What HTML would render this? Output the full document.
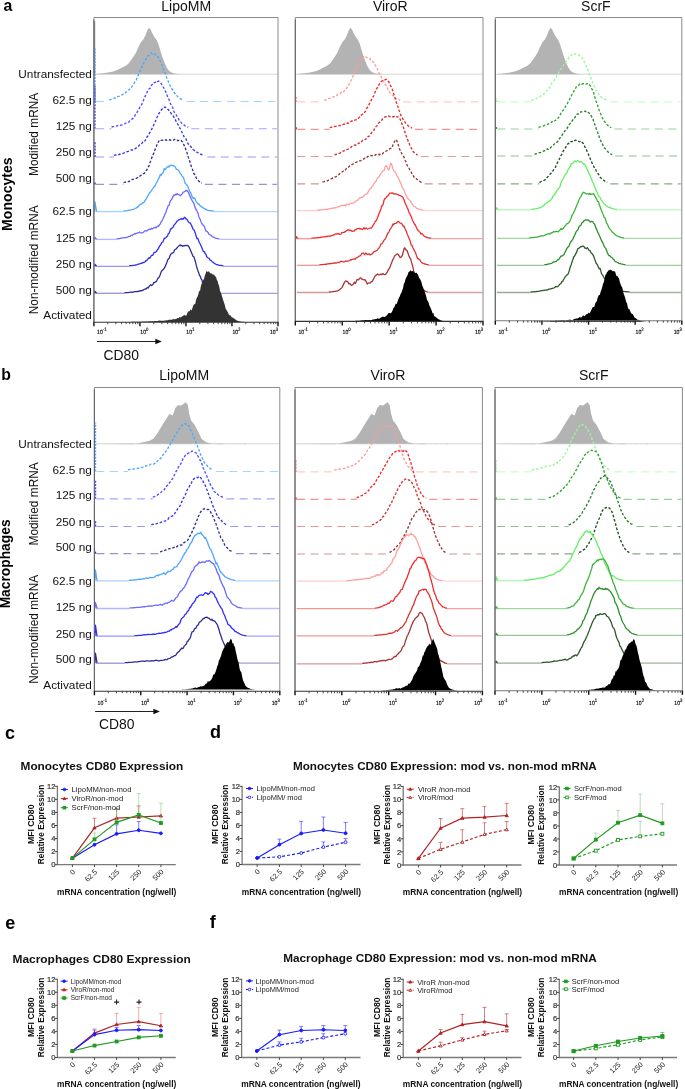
<!DOCTYPE html>
<html><head><meta charset="utf-8"><style>
html,body{margin:0;padding:0;background:#fff;width:685px;height:1089px;overflow:hidden;}
svg{display:block;will-change:transform;}
text{font-family:"Liberation Sans",sans-serif;}
</style></head><body>
<svg width="685" height="1089" viewBox="0 0 685 1089">
<rect width="685" height="1089" fill="#fff"/>
<line x1="94.9" y1="74.3" x2="277.5" y2="74.3" stroke="#e4e4e4" stroke-width="1.4"/>
<path d="M94.9 74.3 L94.9 74.3 L96 73.9 L101.1 73.6 L108.5 72.6 L114.1 71.3 L118.4 69.4 L122.7 67.2 L126.1 65.6 L128.6 63.5 L131.1 60 L133.6 56.5 L136.1 52.5 L138.4 47 L140.7 42.5 L143.3 39.5 L145.4 35.5 L147.3 30.5 L148.9 27.8 L150.6 29.5 L152.4 33.5 L154.4 37 L156.6 40 L158.4 44 L159.9 49 L161.4 54 L162.9 58.5 L164.9 63.5 L166.7 67.5 L168.7 70.6 L171.4 72.5 L174.4 73.5 L180.1 74.3 L180.1 74.3 Z" fill="#b3b3b3" stroke="none"/>
<line x1="94.6" y1="74.3" x2="94.6" y2="21.3" stroke="#888" stroke-width="1.2"/>
<path d="M109.1 99.91 L109.9 99.68 L110.7 99.39 L111.5 99.14 L112.3 98.83 L113.1 98.67 L113.9 98.34 L114.7 98.01 L115.5 97.85 L116.3 97.21 L117.1 96.9 L117.9 96.43 L118.7 96.38 L119.5 96.23 L120.3 95.89 L121.1 95.45 L121.9 94.8 L122.7 94.32 L123.5 94.05 L124.3 93.84 L125.1 93.31 L125.9 92.11 L126.7 91.84 L127.5 90.98 L128.3 90.07 L129.1 89.85 L129.9 88.79 L130.7 87.33 L131.5 87.22 L132.3 86.08 L133.1 84.83 L133.9 83.82 L134.7 82.17 L135.5 80.8 L136.3 79.83 L137.1 77.75 L137.9 75.88 L138.7 73.94 L139.5 71.87 L140.3 70.27 L141.1 68.63 L141.9 67.38 L142.7 65.21 L143.5 63.67 L144.3 62.03 L145.1 60.73 L145.9 59.31 L146.7 57.85 L147.5 55.97 L148.3 55.76 L149.1 55.21 L149.9 54.19 L150.7 53.2 L151.5 53.06 L152.3 53.91 L153.1 54.59 L153.9 54.02 L154.7 54.33 L155.5 54.99 L156.3 55.08 L157.1 55.63 L157.9 56.9 L158.7 58.27 L159.5 59.73 L160.3 60.95 L161.1 62.84 L161.9 64.81 L162.7 66.81 L163.5 69.59 L164.3 71.07 L165.1 72.92 L165.9 75.01 L166.7 77.93 L167.5 79.93 L168.3 81.34 L169.1 83.83 L169.9 85.37 L170.7 86.49 L171.5 88.58 L172.3 89.3 L173.1 90.61 L173.9 92.08 L174.7 93.18 L175.5 94.11 L176.3 95.17 L177.1 95.83 L177.9 96.89 L178.7 97.64 L179.5 98.04 L180.3 98.62 L181.1 99.18 L181.9 99.45 L182.7 99.7 L183.5 100.08" fill="none" stroke="#4da6ff" stroke-width="1.35" stroke-dasharray="2.6 1.8"/>
<line x1="95.9" y1="101.5" x2="109.1" y2="101.5" stroke="#4da6ff" stroke-width="1.15" stroke-dasharray="8 5.5" opacity="0.5"/>
<line x1="186.5" y1="101.5" x2="277" y2="101.5" stroke="#4da6ff" stroke-width="1.15" stroke-dasharray="8 5.5" opacity="0.5"/>
<line x1="94.9" y1="101.5" x2="94.9" y2="48.5" stroke="#4da6ff" stroke-width="1.6" stroke-dasharray="2 1.2"/>
<path d="M111.5 126.85 L112.3 126.74 L113.1 126.62 L113.9 126.56 L114.7 126.39 L115.5 126.08 L116.3 126.02 L117.1 125.87 L117.9 125.64 L118.7 125.59 L119.5 125.62 L120.3 125.45 L121.1 125 L121.9 125.08 L122.7 124.84 L123.5 124.26 L124.3 123.81 L125.1 123.55 L125.9 123.02 L126.7 122.66 L127.5 122.6 L128.3 122.46 L129.1 121.85 L129.9 120.66 L130.7 120.15 L131.5 119.61 L132.3 118.85 L133.1 118.25 L133.9 116.94 L134.7 116.08 L135.5 114.52 L136.3 114.04 L137.1 112.22 L137.9 110.93 L138.7 110.02 L139.5 107.9 L140.3 106.39 L141.1 105.53 L141.9 103.86 L142.7 101.81 L143.5 100.21 L144.3 98.18 L145.1 96.36 L145.9 94.69 L146.7 93.21 L147.5 91.4 L148.3 90.02 L149.1 88.76 L149.9 88.42 L150.7 86.71 L151.5 85.19 L152.3 84.54 L153.1 83.93 L153.9 82.5 L154.7 82.83 L155.5 82.11 L156.3 80.98 L157.1 81.56 L157.9 81.42 L158.7 81.15 L159.5 82.02 L160.3 82.67 L161.1 83.4 L161.9 85.01 L162.7 86.25 L163.5 87.5 L164.3 88.75 L165.1 90.54 L165.9 92.41 L166.7 94.59 L167.5 96.43 L168.3 97.88 L169.1 99.84 L169.9 102.12 L170.7 104.22 L171.5 104.98 L172.3 106.74 L173.1 108.65 L173.9 111.57 L174.7 112.74 L175.5 114.08 L176.3 115.01 L177.1 116.52 L177.9 118.05 L178.7 119.16 L179.5 121.07 L180.3 121.47 L181.1 122.32 L181.9 123.36 L182.7 123.76 L183.5 124.2 L184.3 125.22 L185.1 125.8 L185.9 126.17 L186.7 126.53 L187.5 126.91 L188.3 127.25" fill="none" stroke="#4d4dff" stroke-width="1.35" stroke-dasharray="2.6 1.8"/>
<line x1="95.9" y1="128.7" x2="111.5" y2="128.7" stroke="#4d4dff" stroke-width="1.15" stroke-dasharray="8 5.5" opacity="0.5"/>
<line x1="191.3" y1="128.7" x2="277" y2="128.7" stroke="#4d4dff" stroke-width="1.15" stroke-dasharray="8 5.5" opacity="0.5"/>
<line x1="94.9" y1="128.7" x2="94.9" y2="85.7" stroke="#4d4dff" stroke-width="1.6" stroke-dasharray="2 1.2"/>
<path d="M113.9 155.3 L114.7 155.13 L115.5 155 L116.3 154.9 L117.1 154.73 L117.9 154.82 L118.7 154.61 L119.5 154.28 L120.3 154.2 L121.1 153.82 L121.9 153.51 L122.7 153.47 L123.5 153.15 L124.3 152.86 L125.1 152.42 L125.9 152.01 L126.7 151.77 L127.5 151.7 L128.3 151.36 L129.1 151 L129.9 150.42 L130.7 150.06 L131.5 150.01 L132.3 150.03 L133.1 149.57 L133.9 149.25 L134.7 149.02 L135.5 148.34 L136.3 147.89 L137.1 147.22 L137.9 146.47 L138.7 146.14 L139.5 144.74 L140.3 144.61 L141.1 143.74 L141.9 143.27 L142.7 142.31 L143.5 142.62 L144.3 141.8 L145.1 140.55 L145.9 139.24 L146.7 137.38 L147.5 136.5 L148.3 135.06 L149.1 133.79 L149.9 132.34 L150.7 130.96 L151.5 129.67 L152.3 127.94 L153.1 126.73 L153.9 124.44 L154.7 123.12 L155.5 121.13 L156.3 118.58 L157.1 117.24 L157.9 115.7 L158.7 113.8 L159.5 112.56 L160.3 111.67 L161.1 110.39 L161.9 109.25 L162.7 108.37 L163.5 108.31 L164.3 107.42 L165.1 107.09 L165.9 107.75 L166.7 108.34 L167.5 109.24 L168.3 109.47 L169.1 110.76 L169.9 111.46 L170.7 112.75 L171.5 114.08 L172.3 114.9 L173.1 115.74 L173.9 117.3 L174.7 119.05 L175.5 120.16 L176.3 121.76 L177.1 123.2 L177.9 124.27 L178.7 125.69 L179.5 127.74 L180.3 128.58 L181.1 130.52 L181.9 131.97 L182.7 133.93 L183.5 135.43 L184.3 137.47 L185.1 137.94 L185.9 138.92 L186.7 140.91 L187.5 142.62 L188.3 144.1 L189.1 144.41 L189.9 145.59 L190.7 146.51 L191.5 147.5 L192.3 148.34 L193.1 149.47 L193.9 150 L194.7 151 L195.5 151.42 L196.3 151.81 L197.1 152.23 L197.9 152.82 L198.7 153.42 L199.5 153.74 L200.3 154.16 L201.1 154.28 L201.9 154.59 L202.7 154.95 L203.5 155.26 L204.3 155.53" fill="none" stroke="#3535ee" stroke-width="1.35" stroke-dasharray="2.6 1.8"/>
<line x1="95.9" y1="157" x2="113.9" y2="157" stroke="#3535ee" stroke-width="1.15" stroke-dasharray="8 5.5" opacity="0.5"/>
<line x1="207.3" y1="157" x2="277" y2="157" stroke="#3535ee" stroke-width="1.15" stroke-dasharray="8 5.5" opacity="0.5"/>
<line x1="94.9" y1="157" x2="94.9" y2="141" stroke="#3535ee" stroke-width="1.6" stroke-dasharray="2 1.2"/>
<path d="M123.5 182.59 L124.3 182.44 L125.1 182.2 L125.9 182 L126.7 181.64 L127.5 181.64 L128.3 181.44 L129.1 181.64 L129.9 181.02 L130.7 180.7 L131.5 180.15 L132.3 179.43 L133.1 179.29 L133.9 179.12 L134.7 178.93 L135.5 178.76 L136.3 178.46 L137.1 177.76 L137.9 177.36 L138.7 176.93 L139.5 176.58 L140.3 175.79 L141.1 175.26 L141.9 174.93 L142.7 174.17 L143.5 173.69 L144.3 173.39 L145.1 171.84 L145.9 170.81 L146.7 170.11 L147.5 168.31 L148.3 166.75 L149.1 165.65 L149.9 162.91 L150.7 160.81 L151.5 158.5 L152.3 156.52 L153.1 154.6 L153.9 153.09 L154.7 150.44 L155.5 148.41 L156.3 146.56 L157.1 144.55 L157.9 142.91 L158.7 141.31 L159.5 140.49 L160.3 139.84 L161.1 140.37 L161.9 140.37 L162.7 140.07 L163.5 139.71 L164.3 140.12 L165.1 140.28 L165.9 139.77 L166.7 140.17 L167.5 140.01 L168.3 139.6 L169.1 139.95 L169.9 139.72 L170.7 140.28 L171.5 140.26 L172.3 140.35 L173.1 140.33 L173.9 139.97 L174.7 139.33 L175.5 140.04 L176.3 140.4 L177.1 140.23 L177.9 140.67 L178.7 140.38 L179.5 140.19 L180.3 140.38 L181.1 140.33 L181.9 141.5 L182.7 142.01 L183.5 143.91 L184.3 145.63 L185.1 147.59 L185.9 149.77 L186.7 151.74 L187.5 154.32 L188.3 157.15 L189.1 159.58 L189.9 161.71 L190.7 164.53 L191.5 166.98 L192.3 168.96 L193.1 171.24 L193.9 173.79 L194.7 174.54 L195.5 175.69 L196.3 178.17 L197.1 179.31 L197.9 180.2 L198.7 180.92 L199.5 181.63 L200.3 182.3 L201.1 182.86 L201.9 183.19" fill="none" stroke="#2e2e99" stroke-width="1.35" stroke-dasharray="2.6 1.8"/>
<line x1="95.9" y1="184.4" x2="123.5" y2="184.4" stroke="#2e2e99" stroke-width="1.15" stroke-dasharray="8 5.5" opacity="0.5"/>
<line x1="204.9" y1="184.4" x2="277" y2="184.4" stroke="#2e2e99" stroke-width="1.15" stroke-dasharray="8 5.5" opacity="0.5"/>
<line x1="94.9" y1="184.4" x2="94.9" y2="181.4" stroke="#2e2e99" stroke-width="1.6" stroke-dasharray="2 1.2"/>
<path d="M123.5 211.1 L124.3 211.02 L125.1 210.93 L125.9 210.83 L126.7 210.71 L127.5 210.55 L128.3 210.41 L129.1 210.28 L129.9 210.05 L130.7 209.91 L131.5 209.81 L132.3 209.6 L133.1 209.34 L133.9 209.05 L134.7 208.86 L135.5 208.13 L136.3 208.06 L137.1 207.19 L137.9 207.04 L138.7 206.19 L139.5 204.93 L140.3 204.41 L141.1 204.3 L141.9 203.48 L142.7 202.58 L143.5 202.81 L144.3 201.83 L145.1 200.38 L145.9 199.49 L146.7 198.17 L147.5 196.54 L148.3 195.08 L149.1 193.63 L149.9 192.46 L150.7 191.74 L151.5 190.58 L152.3 189.48 L153.1 188.27 L153.9 186.9 L154.7 186.43 L155.5 184.71 L156.3 182.94 L157.1 181.91 L157.9 180.16 L158.7 178.27 L159.5 177.05 L160.3 174.47 L161.1 175.32 L161.9 173.84 L162.7 173.51 L163.5 171.2 L164.3 168.51 L165.1 169.76 L165.9 168.55 L166.7 167.36 L167.5 166.97 L168.3 166.06 L169.1 167.1 L169.9 165.74 L170.7 165.25 L171.5 165.21 L172.3 165.64 L173.1 165.31 L173.9 166.04 L174.7 166.31 L175.5 167.26 L176.3 169.24 L177.1 169.47 L177.9 169.97 L178.7 170.48 L179.5 172.34 L180.3 173.49 L181.1 174.4 L181.9 175.87 L182.7 176.73 L183.5 177.47 L184.3 180.34 L185.1 183.26 L185.9 183.93 L186.7 184.61 L187.5 186.05 L188.3 187.61 L189.1 190 L189.9 192.02 L190.7 192.8 L191.5 194.92 L192.3 197.2 L193.1 198.51 L193.9 197.65 L194.7 198.01 L195.5 200.23 L196.3 201.9 L197.1 202.63 L197.9 203.99 L198.7 203.89 L199.5 204.95 L200.3 206.22 L201.1 206.17 L201.9 207.12 L202.7 207.56 L203.5 208.07 L204.3 208.59 L205.1 208.88 L205.9 209.36 L206.7 209.9 L207.5 210.29 L208.3 210.44 L209.1 210.54 L209.9 210.6 L210.7 210.64 L211.5 210.79 L212.3 210.91 L213.1 211.02 L213.9 211.11" fill="none" stroke="#4da6ff" stroke-width="1.3" stroke-linejoin="round"/>
<path d="M95.5 211.6H123.5" fill="none" stroke="#4da6ff" stroke-width="1.3" opacity="0.5"/>
<path d="M213.9 211.6H277.5" fill="none" stroke="#4da6ff" stroke-width="1.3" opacity="0.45"/>
<path d="M94.5 211.6L94.9 201.6L96.5 211.3" fill="none" stroke="#4da6ff" stroke-width="1.3" stroke-linejoin="round"/>
<path d="M116.3 238.9 L117.1 238.83 L117.9 238.75 L118.7 238.66 L119.5 238.56 L120.3 238.45 L121.1 238.11 L121.9 238.09 L122.7 237.94 L123.5 237.8 L124.3 237.66 L125.1 237.58 L125.9 237.57 L126.7 237.37 L127.5 237.35 L128.3 236.7 L129.1 236.33 L129.9 236.41 L130.7 235.69 L131.5 235.25 L132.3 235.7 L133.1 234.66 L133.9 234.24 L134.7 233.38 L135.5 234 L136.3 233.52 L137.1 233.15 L137.9 232.89 L138.7 232.63 L139.5 231.9 L140.3 232.7 L141.1 232.93 L141.9 233.07 L142.7 232.57 L143.5 232.21 L144.3 231.32 L145.1 230.8 L145.9 230.57 L146.7 230.78 L147.5 230.68 L148.3 229.7 L149.1 229.2 L149.9 229.23 L150.7 229.41 L151.5 228.3 L152.3 228.88 L153.1 228.35 L153.9 227.63 L154.7 227.93 L155.5 227.24 L156.3 227.79 L157.1 226.51 L157.9 225.94 L158.7 226.28 L159.5 224.62 L160.3 224.08 L161.1 221.83 L161.9 221.07 L162.7 219.56 L163.5 217.62 L164.3 216.04 L165.1 213.89 L165.9 212.24 L166.7 209.65 L167.5 207.68 L168.3 205.56 L169.1 205.32 L169.9 202.05 L170.7 200.24 L171.5 199.75 L172.3 197.9 L173.1 196.33 L173.9 194.94 L174.7 195.45 L175.5 194.29 L176.3 194.79 L177.1 193.56 L177.9 194.42 L178.7 194.4 L179.5 195.02 L180.3 195.79 L181.1 194.81 L181.9 194.17 L182.7 193.04 L183.5 192.17 L184.3 191.76 L185.1 191.49 L185.9 190.49 L186.7 190.29 L187.5 191.24 L188.3 192.16 L189.1 193.93 L189.9 196.14 L190.7 197.79 L191.5 199.52 L192.3 200.93 L193.1 202.12 L193.9 203.45 L194.7 206.02 L195.5 208.79 L196.3 209.44 L197.1 211.47 L197.9 212.87 L198.7 216.15 L199.5 218.01 L200.3 219.62 L201.1 222.17 L201.9 223.75 L202.7 224.56 L203.5 225.45 L204.3 226.22 L205.1 228.67 L205.9 230.84 L206.7 231.34 L207.5 231.83 L208.3 232.92 L209.1 234.44 L209.9 234.73 L210.7 235.21 L211.5 235.81 L212.3 236.57 L213.1 236.97 L213.9 237.28 L214.7 237.76 L215.5 238.23 L216.3 238.34 L217.1 238.48 L217.9 238.65 L218.7 238.79 L219.5 238.91" fill="none" stroke="#6a6aff" stroke-width="1.3" stroke-linejoin="round"/>
<path d="M95.5 239.4H116.3" fill="none" stroke="#6a6aff" stroke-width="1.3" opacity="0.5"/>
<path d="M219.5 239.4H277.5" fill="none" stroke="#6a6aff" stroke-width="1.3" opacity="0.45"/>
<path d="M94.5 239.4L94.9 237.4L96.5 239.1" fill="none" stroke="#6a6aff" stroke-width="1.3" stroke-linejoin="round"/>
<path d="M129.1 265.84 L129.9 265.77 L130.7 265.69 L131.5 265.61 L132.3 265.52 L133.1 265.41 L133.9 265.34 L134.7 265.24 L135.5 265.01 L136.3 264.91 L137.1 264.67 L137.9 264.26 L138.7 264.12 L139.5 263.96 L140.3 263.58 L141.1 263.44 L141.9 262.88 L142.7 262.98 L143.5 262.36 L144.3 262.16 L145.1 261.96 L145.9 260.67 L146.7 260.71 L147.5 259.32 L148.3 258.72 L149.1 257.61 L149.9 258.06 L150.7 256.72 L151.5 255.47 L152.3 255.36 L153.1 254.9 L153.9 252.69 L154.7 252.4 L155.5 252.15 L156.3 251.67 L157.1 250.27 L157.9 249.07 L158.7 247.98 L159.5 245.92 L160.3 245.47 L161.1 244.18 L161.9 242.31 L162.7 242.18 L163.5 240.3 L164.3 238.2 L165.1 238.37 L165.9 237.71 L166.7 236.73 L167.5 236.09 L168.3 233.78 L169.1 233.33 L169.9 231.12 L170.7 228.79 L171.5 228.83 L172.3 227.58 L173.1 227.37 L173.9 225.19 L174.7 224.48 L175.5 223.42 L176.3 222.28 L177.1 221.04 L177.9 220.61 L178.7 219.9 L179.5 219.65 L180.3 218.94 L181.1 219.2 L181.9 218.52 L182.7 219.3 L183.5 218.87 L184.3 217.24 L185.1 217.61 L185.9 218.87 L186.7 218.99 L187.5 220.19 L188.3 221.74 L189.1 222.58 L189.9 222.76 L190.7 223.72 L191.5 225.23 L192.3 227.3 L193.1 229.29 L193.9 229.72 L194.7 231.43 L195.5 233.91 L196.3 236.79 L197.1 238.75 L197.9 238.33 L198.7 241.08 L199.5 242.72 L200.3 244.21 L201.1 245.98 L201.9 247.73 L202.7 250.01 L203.5 251.71 L204.3 251.59 L205.1 253.55 L205.9 254.19 L206.7 256.55 L207.5 257.44 L208.3 258.03 L209.1 258.29 L209.9 259.96 L210.7 260.31 L211.5 260.92 L212.3 261.92 L213.1 262.27 L213.9 263.06 L214.7 263.59 L215.5 263.86 L216.3 264.6 L217.1 264.66 L217.9 264.92 L218.7 265.19 L219.5 265.29 L220.3 265.32 L221.1 265.47 L221.9 265.61 L222.7 265.72 L223.5 265.82" fill="none" stroke="#2e2ef5" stroke-width="1.3" stroke-linejoin="round"/>
<path d="M95.5 266.3H129.1" fill="none" stroke="#2e2ef5" stroke-width="1.3" opacity="0.5"/>
<path d="M223.5 266.3H277.5" fill="none" stroke="#2e2ef5" stroke-width="1.3" opacity="0.45"/>
<path d="M94.5 266.3L94.9 264.3L96.5 266" fill="none" stroke="#2e2ef5" stroke-width="1.3" stroke-linejoin="round"/>
<path d="M124.3 292.81 L125.1 292.76 L125.9 292.71 L126.7 292.65 L127.5 292.59 L128.3 292.53 L129.1 292.45 L129.9 292.38 L130.7 292.13 L131.5 292.15 L132.3 292.24 L133.1 292.15 L133.9 291.87 L134.7 291.55 L135.5 291.56 L136.3 291.56 L137.1 291.47 L137.9 291.57 L138.7 291.11 L139.5 291.1 L140.3 290.59 L141.1 290.77 L141.9 290.69 L142.7 290.16 L143.5 289.99 L144.3 289.31 L145.1 288.98 L145.9 289.03 L146.7 288.22 L147.5 287.43 L148.3 287.95 L149.1 286.27 L149.9 285.63 L150.7 284.8 L151.5 285.59 L152.3 285.02 L153.1 284.11 L153.9 282.37 L154.7 282.51 L155.5 281.81 L156.3 281.64 L157.1 279.98 L157.9 278.19 L158.7 277.88 L159.5 276.48 L160.3 274.46 L161.1 272.09 L161.9 270.7 L162.7 269.86 L163.5 269.26 L164.3 268.11 L165.1 266.62 L165.9 264.64 L166.7 262.98 L167.5 260.36 L168.3 259.08 L169.1 258.54 L169.9 256.05 L170.7 254.43 L171.5 253.48 L172.3 252.92 L173.1 252.81 L173.9 251.8 L174.7 249.69 L175.5 249.21 L176.3 248.98 L177.1 247.72 L177.9 246.84 L178.7 246.03 L179.5 245.53 L180.3 244.83 L181.1 245.85 L181.9 245.33 L182.7 246.22 L183.5 245.7 L184.3 245.73 L185.1 245.7 L185.9 245.26 L186.7 245.61 L187.5 245.37 L188.3 245.83 L189.1 247.1 L189.9 248.92 L190.7 250.85 L191.5 252.68 L192.3 254.47 L193.1 256.39 L193.9 256.73 L194.7 259.42 L195.5 261.93 L196.3 265.39 L197.1 268.27 L197.9 270.66 L198.7 272.66 L199.5 275.43 L200.3 276.24 L201.1 278.79 L201.9 279.95 L202.7 283.3 L203.5 284.34 L204.3 285.28 L205.1 286.32 L205.9 287.14 L206.7 288.14 L207.5 289.03 L208.3 290.31 L209.1 290.84 L209.9 291.57 L210.7 291.61 L211.5 291.85 L212.3 292.15 L213.1 292.36 L213.9 292.56 L214.7 292.72 L215.5 292.85" fill="none" stroke="#2c2c99" stroke-width="1.3" stroke-linejoin="round"/>
<path d="M95.5 293.3H124.3" fill="none" stroke="#2c2c99" stroke-width="1.3" opacity="0.5"/>
<path d="M215.5 293.3H277.5" fill="none" stroke="#2c2c99" stroke-width="1.3" opacity="0.45"/>
<path d="M94.5 293.3L94.9 291.3L96.5 293" fill="none" stroke="#2c2c99" stroke-width="1.3" stroke-linejoin="round"/>
<path d="M94.4 322 L94.4 322 L95.2 322 L96 322 L96.8 322 L97.6 322 L98.4 322 L99.2 322 L100 322 L100.8 322 L101.6 322 L102.4 322 L103.2 322 L104 322 L104.8 322 L105.6 322 L106.4 322 L107.2 322 L108 321.99 L108.8 321.99 L109.6 321.99 L110.4 321.99 L111.2 321.99 L112 321.99 L112.8 321.99 L113.6 321.99 L114.4 321.98 L115.2 321.98 L116 321.98 L116.8 321.98 L117.6 321.98 L118.4 321.97 L119.2 321.97 L120 321.97 L120.8 321.96 L121.6 321.96 L122.4 321.95 L123.2 321.95 L124 321.94 L124.8 321.94 L125.6 321.93 L126.4 321.92 L127.2 321.91 L128 321.91 L128.8 321.9 L129.6 321.89 L130.4 321.88 L131.2 321.86 L132 321.85 L132.8 321.84 L133.6 321.82 L134.4 321.81 L135.2 321.79 L136 321.78 L136.8 321.76 L137.6 321.74 L138.4 321.72 L139.2 321.7 L140 321.68 L140.8 321.65 L141.6 321.63 L142.4 321.6 L143.2 321.58 L144 321.55 L144.8 321.52 L145.6 321.49 L146.4 321.46 L147.2 321.43 L148 321.4 L148.8 321.36 L149.6 321.33 L150.4 321.3 L151.2 321.26 L152 321.22 L152.8 321.19 L153.6 321.15 L154.4 321.11 L155.2 321.07 L156 321.04 L156.8 321.09 L157.6 320.88 L158.4 320.64 L159.2 320.62 L160 320.54 L160.8 320.67 L161.6 320.85 L162.4 320.77 L163.2 320.72 L164 320.64 L164.8 320.45 L165.6 320.44 L166.4 320.35 L167.2 320.21 L168 320.18 L168.8 319.72 L169.6 319.69 L170.4 319.7 L171.2 319.71 L172 319.75 L172.8 319.16 L173.6 319.05 L174.4 319.3 L175.2 319.18 L176 318.86 L176.8 318.68 L177.6 317.79 L178.4 318.17 L179.2 317.46 L180 317.06 L180.8 317.44 L181.6 316.79 L182.4 316.33 L183.2 315.45 L184 315.44 L184.8 314.64 L185.6 315.64 L186.4 315.48 L187.2 313.39 L188 311.68 L188.8 311.33 L189.6 311.26 L190.4 309.25 L191.2 310.48 L192 309.42 L192.8 306.85 L193.6 304.73 L194.4 304.31 L195.2 303.99 L196 299.9 L196.8 297.84 L197.6 296.61 L198.4 294 L199.2 290.69 L200 290.88 L200.8 286.55 L201.6 283.42 L202.4 283.22 L203.2 279.63 L204 279.15 L204.8 275.61 L205.6 273.84 L206.4 270.91 L207.2 271.78 L208 271.82 L208.8 271.2 L209.6 272.51 L210.4 273.35 L211.2 273.56 L212 273.52 L212.8 274.79 L213.6 274.61 L214.4 275.12 L215.2 276.61 L216 276.84 L216.8 279.77 L217.6 280.94 L218.4 284.35 L219.2 286.17 L220 290.73 L220.8 292.46 L221.6 294.87 L222.4 297.57 L223.2 300.2 L224 302.41 L224.8 304.9 L225.6 308.46 L226.4 309.78 L227.2 311.19 L228 312.6 L228.8 314.45 L229.6 315.14 L230.4 315.19 L231.2 316.46 L232 317.59 L232.8 317.62 L233.6 318.2 L234.4 318.82 L235.2 319.32 L236 320.09 L236.8 320.55 L237.6 320.72 L238.4 321.12 L239.2 321.31 L240 321.46 L240.8 321.58 L241.6 321.68 L242.4 321.76 L243.2 321.81 L244 321.86 L244.8 321.9 L245.6 321.92 L246.4 321.94 L247.2 321.96 L248 321.97 L248.8 321.98 L249.6 321.98 L250.4 321.99 L251.2 321.99 L252 321.99 L252.8 322 L253.6 322 L254.4 322 L255.2 322 L256 322 L256.8 322 L257.6 322 L258.4 322 L259.2 322 L260 322 L260.8 322 L261.6 322 L262.4 322 L263.2 322 L264 322 L264.8 322 L265.6 322 L266.4 322 L267.2 322 L268 322 L268.8 322 L269.6 322 L270.4 322 L271.2 322 L272 322 L272.8 322 L273.6 322 L274.4 322 L275.2 322 L276 322 L276.8 322 L277.6 322 L277.6 322 Z" fill="#333" stroke="none"/>
<path d="M93.9 322.2 V17.5 H278 V322.2" fill="none" stroke="#8a8a8a" stroke-width="1"/>
<line x1="93.9" y1="19.5" x2="93.9" y2="322.2" stroke="#666" stroke-width="1.1"/>
<line x1="93.4" y1="322.2" x2="278.5" y2="322.2" stroke="#333" stroke-width="1.1"/>
<path d="M107.75 322.2v2M115.86 322.2v2M121.61 322.2v2M126.07 322.2v2M129.71 322.2v2M132.8 322.2v2M135.46 322.2v2M137.82 322.2v2M153.78 322.2v2M161.88 322.2v2M167.63 322.2v2M172.1 322.2v2M175.74 322.2v2M178.82 322.2v2M181.49 322.2v2M183.84 322.2v2M199.8 322.2v2M207.91 322.2v2M213.66 322.2v2M218.12 322.2v2M221.76 322.2v2M224.85 322.2v2M227.51 322.2v2M229.87 322.2v2M245.83 322.2v2M253.93 322.2v2M259.68 322.2v2M264.15 322.2v2M267.79 322.2v2M270.87 322.2v2M273.54 322.2v2M275.89 322.2v2" stroke="#333" stroke-width="0.9" fill="none"/>
<path d="M93.9 322.2v4M139.93 322.2v4M185.95 322.2v4M231.97 322.2v4M278 322.2v4" stroke="#111" stroke-width="1.4" fill="none"/>
<text transform="translate(97.1 334.2) scale(0.85 1)" font-size="6" fill="#000" stroke="#000" stroke-width="0.15" style="text-rendering:geometricPrecision" text-anchor="start" font-family="Liberation Sans, sans-serif">10<tspan font-size="5" dy="-3.2">-1</tspan></text>
<text transform="translate(140.33 334.2) scale(0.85 1)" font-size="6" fill="#000" stroke="#000" stroke-width="0.15" style="text-rendering:geometricPrecision" text-anchor="start" font-family="Liberation Sans, sans-serif">10<tspan font-size="5" dy="-3.2">0</tspan></text>
<text transform="translate(186.35 334.2) scale(0.85 1)" font-size="6" fill="#000" stroke="#000" stroke-width="0.15" style="text-rendering:geometricPrecision" text-anchor="start" font-family="Liberation Sans, sans-serif">10<tspan font-size="5" dy="-3.2">1</tspan></text>
<text transform="translate(232.38 334.2) scale(0.85 1)" font-size="6" fill="#000" stroke="#000" stroke-width="0.15" style="text-rendering:geometricPrecision" text-anchor="start" font-family="Liberation Sans, sans-serif">10<tspan font-size="5" dy="-3.2">2</tspan></text>
<text transform="translate(278 334.2) scale(0.85 1)" font-size="6" fill="#000" stroke="#000" stroke-width="0.15" style="text-rendering:geometricPrecision" text-anchor="end" font-family="Liberation Sans, sans-serif">10<tspan font-size="5" dy="-3.2">3</tspan></text>
<line x1="296.3" y1="74.3" x2="482.5" y2="74.3" stroke="#e4e4e4" stroke-width="1.4"/>
<path d="M296.3 74.3 L296.3 74.3 L297.4 73.9 L302.5 73.6 L309.9 72.6 L315.5 71.3 L319.8 69.4 L324.1 67.2 L327.5 65.6 L330 63.5 L332.5 60 L335 56.5 L337.5 52.5 L339.8 47 L342.1 42.5 L344.7 39.5 L346.8 35.5 L348.7 30.5 L350.3 27.8 L352 29.5 L353.8 33.5 L355.8 37 L358 40 L359.8 44 L361.3 49 L362.8 54 L364.3 58.5 L366.3 63.5 L368.1 67.5 L370.1 70.6 L372.8 72.5 L375.8 73.5 L381.5 74.3 L381.5 74.3 Z" fill="#b3b3b3" stroke="none"/>
<path d="M324.1 100.22 L324.9 100.07 L325.7 99.78 L326.5 99.48 L327.3 99.13 L328.1 98.8 L328.9 98.44 L329.7 98.31 L330.5 98.07 L331.3 97.62 L332.1 97.44 L332.9 96.87 L333.7 96.97 L334.5 96.35 L335.3 96.02 L336.1 96.15 L336.9 95.22 L337.7 94.67 L338.5 94.25 L339.3 94.17 L340.1 93.68 L340.9 92.47 L341.7 92.34 L342.5 92.91 L343.3 91.98 L344.1 91.23 L344.9 90.06 L345.7 89.08 L346.5 88.25 L347.3 87.26 L348.1 85.48 L348.9 84.75 L349.7 82.49 L350.5 81.4 L351.3 80.25 L352.1 78.18 L352.9 76.31 L353.7 75.01 L354.5 72.83 L355.3 71.68 L356.1 69.89 L356.9 67.37 L357.7 65.68 L358.5 64.39 L359.3 62.37 L360.1 60.54 L360.9 59.38 L361.7 58.99 L362.5 58.02 L363.3 57.09 L364.1 56.48 L364.9 55.93 L365.7 56.65 L366.5 57.32 L367.3 57.67 L368.1 57.54 L368.9 58.34 L369.7 58.25 L370.5 59.95 L371.3 60.03 L372.1 61.04 L372.9 61.7 L373.7 62.54 L374.5 64.26 L375.3 65.46 L376.1 66.67 L376.9 67.93 L377.7 69.87 L378.5 71.7 L379.3 73.78 L380.1 74.11 L380.9 76 L381.7 77.79 L382.5 79.94 L383.3 80.99 L384.1 82.76 L384.9 83.71 L385.7 85.06 L386.5 86.7 L387.3 87.92 L388.1 89.77 L388.9 91.01 L389.7 92.24 L390.5 93.59 L391.3 94.27 L392.1 95.04 L392.9 95.36 L393.7 97.06 L394.5 97.53 L395.3 98.07 L396.1 98.49 L396.9 98.79 L397.7 99.14 L398.5 99.53 L399.3 99.92 L400.1 100.16" fill="none" stroke="#ff9a9a" stroke-width="1.35" stroke-dasharray="2.6 1.8"/>
<line x1="297.3" y1="101.9" x2="324.1" y2="101.9" stroke="#ff9a9a" stroke-width="1.15" stroke-dasharray="8 5.5" opacity="0.5"/>
<line x1="403.1" y1="101.9" x2="482" y2="101.9" stroke="#ff9a9a" stroke-width="1.15" stroke-dasharray="8 5.5" opacity="0.5"/>
<line x1="296.3" y1="101.9" x2="296.3" y2="96.9" stroke="#ff9a9a" stroke-width="1.6" stroke-dasharray="2 1.2"/>
<path d="M329.7 127.6 L330.5 127.44 L331.3 127.26 L332.1 127.07 L332.9 126.97 L333.7 126.7 L334.5 126.48 L335.3 126.34 L336.1 126.26 L336.9 126.15 L337.7 125.83 L338.5 125.83 L339.3 125.61 L340.1 125.49 L340.9 125.46 L341.7 124.98 L342.5 124.73 L343.3 124.48 L344.1 124.05 L344.9 124.25 L345.7 123.93 L346.5 123.55 L347.3 123.08 L348.1 123.21 L348.9 122.67 L349.7 122.37 L350.5 121.71 L351.3 121.24 L352.1 120.99 L352.9 120.13 L353.7 120.22 L354.5 120.22 L355.3 119.96 L356.1 119.8 L356.9 119.16 L357.7 119.2 L358.5 118.32 L359.3 117.37 L360.1 116.33 L360.9 115.87 L361.7 114.64 L362.5 114.27 L363.3 113.43 L364.1 113.1 L364.9 112.01 L365.7 110.86 L366.5 108.85 L367.3 107.45 L368.1 106.57 L368.9 104.83 L369.7 103.18 L370.5 101.77 L371.3 100.15 L372.1 98.61 L372.9 97.07 L373.7 95.87 L374.5 93.89 L375.3 91.58 L376.1 89.56 L376.9 88.35 L377.7 87.21 L378.5 85.81 L379.3 84.13 L380.1 82.93 L380.9 82.19 L381.7 81.13 L382.5 80.5 L383.3 79.74 L384.1 79.55 L384.9 79.81 L385.7 79.53 L386.5 79.41 L387.3 80.42 L388.1 81.22 L388.9 82.02 L389.7 83.7 L390.5 85.63 L391.3 86.76 L392.1 88.85 L392.9 91.02 L393.7 94.01 L394.5 95.92 L395.3 99.22 L396.1 101.75 L396.9 103.8 L397.7 105.76 L398.5 108.6 L399.3 111 L400.1 112.89 L400.9 115.45 L401.7 116.71 L402.5 118.09 L403.3 119.79 L404.1 120.91 L404.9 121.96 L405.7 123.11 L406.5 124.05 L407.3 124.72 L408.1 125.7 L408.9 126.35 L409.7 126.95 L410.5 127.29 L411.3 127.73 L412.1 128.02" fill="none" stroke="#f22828" stroke-width="1.35" stroke-dasharray="2.6 1.8"/>
<line x1="297.3" y1="129.3" x2="329.7" y2="129.3" stroke="#f22828" stroke-width="1.15" stroke-dasharray="8 5.5" opacity="0.5"/>
<line x1="415.1" y1="129.3" x2="482" y2="129.3" stroke="#f22828" stroke-width="1.15" stroke-dasharray="8 5.5" opacity="0.5"/>
<line x1="296.3" y1="129.3" x2="296.3" y2="126.3" stroke="#f22828" stroke-width="1.6" stroke-dasharray="2 1.2"/>
<path d="M334.5 154.77 L335.3 154.53 L336.1 154.48 L336.9 154.08 L337.7 153.98 L338.5 153.69 L339.3 153.31 L340.1 153.03 L340.9 152.36 L341.7 152.11 L342.5 151.48 L343.3 151.01 L344.1 150.92 L344.9 150.5 L345.7 149.84 L346.5 149.71 L347.3 149.34 L348.1 149.14 L348.9 148.66 L349.7 148.33 L350.5 147.81 L351.3 147.02 L352.1 146.26 L352.9 146.07 L353.7 145.75 L354.5 145.15 L355.3 145 L356.1 144.99 L356.9 144.06 L357.7 144.04 L358.5 143.21 L359.3 143.19 L360.1 142.03 L360.9 142.14 L361.7 141.33 L362.5 140.43 L363.3 140.5 L364.1 139.44 L364.9 139.34 L365.7 139.29 L366.5 138.09 L367.3 137.08 L368.1 136.45 L368.9 136.49 L369.7 135.27 L370.5 134.26 L371.3 133.28 L372.1 132.26 L372.9 131.73 L373.7 130.56 L374.5 128.65 L375.3 127.22 L376.1 126.6 L376.9 125.92 L377.7 124.72 L378.5 123.41 L379.3 122.39 L380.1 122.07 L380.9 121.09 L381.7 120.22 L382.5 119.01 L383.3 118.15 L384.1 117.68 L384.9 117 L385.7 117.02 L386.5 116.28 L387.3 116.47 L388.1 116.28 L388.9 116.03 L389.7 116.54 L390.5 116.76 L391.3 117.23 L392.1 116.84 L392.9 116.71 L393.7 116.72 L394.5 116.45 L395.3 117.19 L396.1 116.88 L396.9 116.68 L397.7 116.84 L398.5 117.03 L399.3 117.44 L400.1 119.17 L400.9 121.17 L401.7 123.15 L402.5 125.06 L403.3 127.04 L404.1 129.74 L404.9 131.72 L405.7 134.58 L406.5 136.58 L407.3 138.81 L408.1 140.94 L408.9 142.39 L409.7 144.76 L410.5 146.71 L411.3 148.16 L412.1 149.4 L412.9 151.1 L413.7 151.99 L414.5 152.96 L415.3 153.55 L416.1 154.04 L416.9 154.62 L417.7 155.07" fill="none" stroke="#cc3333" stroke-width="1.35" stroke-dasharray="2.6 1.8"/>
<line x1="297.3" y1="156.5" x2="334.5" y2="156.5" stroke="#cc3333" stroke-width="1.15" stroke-dasharray="8 5.5" opacity="0.5"/>
<line x1="420.7" y1="156.5" x2="482" y2="156.5" stroke="#cc3333" stroke-width="1.15" stroke-dasharray="8 5.5" opacity="0.5"/>
<path d="M322.5 182.11 L323.3 181.81 L324.1 181.68 L324.9 181.41 L325.7 181.17 L326.5 181.06 L327.3 180.86 L328.1 180.48 L328.9 180.01 L329.7 179.58 L330.5 179.11 L331.3 178.74 L332.1 178.45 L332.9 177.87 L333.7 177.69 L334.5 177.5 L335.3 176.87 L336.1 176.65 L336.9 175.95 L337.7 175.38 L338.5 174.73 L339.3 173.92 L340.1 173.45 L340.9 172.78 L341.7 172.57 L342.5 171.54 L343.3 171.03 L344.1 170.04 L344.9 170.31 L345.7 169.5 L346.5 168.43 L347.3 168.49 L348.1 167.57 L348.9 166.66 L349.7 165.93 L350.5 165.84 L351.3 165 L352.1 164.37 L352.9 164.21 L353.7 163.37 L354.5 163.02 L355.3 162.66 L356.1 162.48 L356.9 161.92 L357.7 161.66 L358.5 161.06 L359.3 160.82 L360.1 160.89 L360.9 160.63 L361.7 159.91 L362.5 159.75 L363.3 159.2 L364.1 158.61 L364.9 158.28 L365.7 158.55 L366.5 157.61 L367.3 156.89 L368.1 156.39 L368.9 156.32 L369.7 155.54 L370.5 155.52 L371.3 155.64 L372.1 155.73 L372.9 155.4 L373.7 155.7 L374.5 155.83 L375.3 154.86 L376.1 154.53 L376.9 154.39 L377.7 154.14 L378.5 154.18 L379.3 154.86 L380.1 154.13 L380.9 153.57 L381.7 153.34 L382.5 153.85 L383.3 152.85 L384.1 152.04 L384.9 152 L385.7 151.54 L386.5 150.84 L387.3 150.52 L388.1 149.73 L388.9 149.43 L389.7 148.84 L390.5 148.47 L391.3 148.43 L392.1 147.68 L392.9 145.05 L393.7 143.6 L394.5 141.6 L395.3 140.19 L396.1 139.58 L396.9 140.7 L397.7 143.1 L398.5 145.48 L399.3 148.42 L400.1 150.17 L400.9 151.38 L401.7 153.72 L402.5 154.9 L403.3 156.08 L404.1 157.34 L404.9 159.6 L405.7 161.54 L406.5 163.82 L407.3 165.55 L408.1 166.73 L408.9 167.56 L409.7 169.79 L410.5 170.79 L411.3 172.25 L412.1 173.91 L412.9 174.4 L413.7 176.69 L414.5 177.51 L415.3 178.26 L416.1 178.62 L416.9 179.25 L417.7 179.82 L418.5 180.66 L419.3 181.19 L420.1 181.61 L420.9 182.04 L421.7 182.4" fill="none" stroke="#993333" stroke-width="1.35" stroke-dasharray="2.6 1.8"/>
<line x1="297.3" y1="183.8" x2="322.5" y2="183.8" stroke="#993333" stroke-width="1.15" stroke-dasharray="8 5.5" opacity="0.5"/>
<line x1="424.7" y1="183.8" x2="482" y2="183.8" stroke="#993333" stroke-width="1.15" stroke-dasharray="8 5.5" opacity="0.5"/>
<path d="M316.9 210.24 L317.7 210.19 L318.5 210.14 L319.3 210.08 L320.1 210.01 L320.9 209.94 L321.7 209.87 L322.5 209.79 L323.3 209.72 L324.1 209.57 L324.9 209.39 L325.7 209.38 L326.5 209.4 L327.3 209.25 L328.1 209.05 L328.9 209 L329.7 208.69 L330.5 208.31 L331.3 208.51 L332.1 208.26 L332.9 207.91 L333.7 208.21 L334.5 207.87 L335.3 207.69 L336.1 207.79 L336.9 207.07 L337.7 206.85 L338.5 206.82 L339.3 206.44 L340.1 206.05 L340.9 205.68 L341.7 205.42 L342.5 205.22 L343.3 205.61 L344.1 205.45 L344.9 205.03 L345.7 205.95 L346.5 204.17 L347.3 204.21 L348.1 204.46 L348.9 204.9 L349.7 203.97 L350.5 203.43 L351.3 203.35 L352.1 203.08 L352.9 203.07 L353.7 202.83 L354.5 202.16 L355.3 201.95 L356.1 200.89 L356.9 200.6 L357.7 200.08 L358.5 199.42 L359.3 198.32 L360.1 197.86 L360.9 197.57 L361.7 197.36 L362.5 197.33 L363.3 196.73 L364.1 195.47 L364.9 194.69 L365.7 194.25 L366.5 194.16 L367.3 193.81 L368.1 192.1 L368.9 190.28 L369.7 189.18 L370.5 189.09 L371.3 187.85 L372.1 186.38 L372.9 185.69 L373.7 184.03 L374.5 182.88 L375.3 182.07 L376.1 181.31 L376.9 179.16 L377.7 177.73 L378.5 177.17 L379.3 176.46 L380.1 174.53 L380.9 173.23 L381.7 172.69 L382.5 170.97 L383.3 170.77 L384.1 170.41 L384.9 167.59 L385.7 165.9 L386.5 165.84 L387.3 167.67 L388.1 169.58 L388.9 169.88 L389.7 167.49 L390.5 163.31 L391.3 163.68 L392.1 165.69 L392.9 168.72 L393.7 170.99 L394.5 171.48 L395.3 172 L396.1 173.71 L396.9 176.02 L397.7 176.55 L398.5 178.46 L399.3 179.41 L400.1 182.13 L400.9 183.44 L401.7 185.4 L402.5 187.72 L403.3 189.11 L404.1 190.44 L404.9 192.39 L405.7 194.57 L406.5 195.67 L407.3 198.09 L408.1 198.71 L408.9 199.65 L409.7 200 L410.5 201.14 L411.3 202.56 L412.1 203.81 L412.9 204.94 L413.7 206.31 L414.5 206.4 L415.3 207.03 L416.1 207.77 L416.9 208.47 L417.7 208.56 L418.5 208.92 L419.3 209.4 L420.1 209.56 L420.9 209.79 L421.7 209.97 L422.5 210.11 L423.3 210.23" fill="none" stroke="#ff9f9f" stroke-width="1.3" stroke-linejoin="round"/>
<path d="M296.9 210.7H316.9" fill="none" stroke="#ff9f9f" stroke-width="1.3" opacity="0.5"/>
<path d="M423.3 210.7H482.5" fill="none" stroke="#ff9f9f" stroke-width="1.3" opacity="0.45"/>
<path d="M311.3 238.24 L312.1 238.19 L312.9 238.14 L313.7 238.08 L314.5 238.02 L315.3 237.96 L316.1 237.89 L316.9 237.82 L317.7 237.74 L318.5 237.7 L319.3 237.63 L320.1 237.49 L320.9 237.42 L321.7 236.98 L322.5 237.16 L323.3 236.89 L324.1 236.88 L324.9 236.79 L325.7 236.51 L326.5 236.41 L327.3 236.5 L328.1 236.2 L328.9 236.06 L329.7 236.3 L330.5 235.89 L331.3 235.86 L332.1 235.7 L332.9 235.21 L333.7 234.89 L334.5 234.78 L335.3 233.88 L336.1 233.8 L336.9 234 L337.7 233.74 L338.5 233.62 L339.3 234.26 L340.1 234.31 L340.9 234.2 L341.7 232.58 L342.5 232.53 L343.3 232.46 L344.1 232.47 L344.9 231.64 L345.7 231.55 L346.5 230.55 L347.3 230.36 L348.1 229.71 L348.9 230.23 L349.7 230.18 L350.5 230.55 L351.3 230.54 L352.1 231.38 L352.9 231.13 L353.7 231.15 L354.5 230.94 L355.3 229.71 L356.1 229.54 L356.9 228.86 L357.7 228.66 L358.5 228.48 L359.3 228.3 L360.1 229.09 L360.9 228.7 L361.7 229.14 L362.5 229.52 L363.3 228.74 L364.1 227.77 L364.9 229.06 L365.7 228.18 L366.5 228.19 L367.3 229.1 L368.1 228.85 L368.9 228.5 L369.7 228.1 L370.5 228.05 L371.3 228.23 L372.1 227.17 L372.9 225.63 L373.7 224.29 L374.5 223 L375.3 221.34 L376.1 220.88 L376.9 219.26 L377.7 217.26 L378.5 214.87 L379.3 213.08 L380.1 210.92 L380.9 208.99 L381.7 205.84 L382.5 205.66 L383.3 203.45 L384.1 199.99 L384.9 198.67 L385.7 198.53 L386.5 196.82 L387.3 196.42 L388.1 195.54 L388.9 194.44 L389.7 193.03 L390.5 193.12 L391.3 193.06 L392.1 192.84 L392.9 193.19 L393.7 193.99 L394.5 194 L395.3 193.76 L396.1 193.98 L396.9 194.33 L397.7 194.34 L398.5 195.05 L399.3 195.41 L400.1 195.42 L400.9 196.03 L401.7 196.67 L402.5 196.85 L403.3 198.28 L404.1 200.01 L404.9 202.43 L405.7 204.55 L406.5 205.75 L407.3 208.02 L408.1 209.43 L408.9 211.96 L409.7 213.55 L410.5 215.42 L411.3 216.67 L412.1 218.97 L412.9 221 L413.7 222.49 L414.5 224.11 L415.3 224.69 L416.1 226.73 L416.9 228.55 L417.7 229.92 L418.5 230.67 L419.3 231.64 L420.1 232.36 L420.9 233.9 L421.7 233.67 L422.5 234.16 L423.3 235.16 L424.1 236.08 L424.9 236.45 L425.7 236.77 L426.5 237.37 L427.3 237.51 L428.1 237.8 L428.9 237.83 L429.7 238 L430.5 238.13 L431.3 238.24" fill="none" stroke="#f52a2a" stroke-width="1.3" stroke-linejoin="round"/>
<path d="M296.9 238.7H311.3" fill="none" stroke="#f52a2a" stroke-width="1.3" opacity="0.5"/>
<path d="M431.3 238.7H482.5" fill="none" stroke="#f52a2a" stroke-width="1.3" opacity="0.45"/>
<path d="M295.9 238.7L296.3 236.7L297.9 238.4" fill="none" stroke="#f52a2a" stroke-width="1.3" stroke-linejoin="round"/>
<path d="M319.3 264.81 L320.1 264.75 L320.9 264.69 L321.7 264.62 L322.5 264.55 L323.3 264.48 L324.1 264.4 L324.9 264.31 L325.7 264.22 L326.5 264.27 L327.3 263.96 L328.1 263.76 L328.9 263.82 L329.7 263.55 L330.5 263.41 L331.3 263.68 L332.1 263.33 L332.9 263.35 L333.7 262.97 L334.5 263 L335.3 262.97 L336.1 263.06 L336.9 262.81 L337.7 262.35 L338.5 262.39 L339.3 262.63 L340.1 261.79 L340.9 261.31 L341.7 261.26 L342.5 261.51 L343.3 261.78 L344.1 262.03 L344.9 261.5 L345.7 260.93 L346.5 261.27 L347.3 261.09 L348.1 261.02 L348.9 260.92 L349.7 260.53 L350.5 259.66 L351.3 260.04 L352.1 259.58 L352.9 259.06 L353.7 259.15 L354.5 258.96 L355.3 259.2 L356.1 257.88 L356.9 257.68 L357.7 257.37 L358.5 256.47 L359.3 256.22 L360.1 255.93 L360.9 255.12 L361.7 253.48 L362.5 253.46 L363.3 252.97 L364.1 253.87 L364.9 254.69 L365.7 253.03 L366.5 253.49 L367.3 254.48 L368.1 254.25 L368.9 253.74 L369.7 254.78 L370.5 254.8 L371.3 254.03 L372.1 254.13 L372.9 252.99 L373.7 252.02 L374.5 251.51 L375.3 251.42 L376.1 250.82 L376.9 250.47 L377.7 249.61 L378.5 248.46 L379.3 247.77 L380.1 246.19 L380.9 243.9 L381.7 243.95 L382.5 242.91 L383.3 241.48 L384.1 240.18 L384.9 239.31 L385.7 238.29 L386.5 236.13 L387.3 234.42 L388.1 232.85 L388.9 232.11 L389.7 230.26 L390.5 228.57 L391.3 227.66 L392.1 226.19 L392.9 224.04 L393.7 224.8 L394.5 223.44 L395.3 223.44 L396.1 223.34 L396.9 222.51 L397.7 221.57 L398.5 221.39 L399.3 222.16 L400.1 223 L400.9 223.31 L401.7 223.62 L402.5 224.83 L403.3 226.52 L404.1 226.27 L404.9 228.43 L405.7 230.07 L406.5 232.1 L407.3 234.17 L408.1 235.91 L408.9 238.03 L409.7 239.63 L410.5 242.51 L411.3 245.19 L412.1 245.56 L412.9 247.79 L413.7 249.31 L414.5 250.66 L415.3 252.44 L416.1 254.34 L416.9 256.87 L417.7 258.75 L418.5 258.76 L419.3 259.44 L420.1 260.26 L420.9 261.68 L421.7 262.68 L422.5 263.11 L423.3 263.52 L424.1 263.68 L424.9 264.04 L425.7 264.1 L426.5 264.39 L427.3 264.58 L428.1 264.74 L428.9 264.87" fill="none" stroke="#dd3333" stroke-width="1.3" stroke-linejoin="round"/>
<path d="M296.9 265.3H319.3" fill="none" stroke="#dd3333" stroke-width="1.3" opacity="0.5"/>
<path d="M428.9 265.3H482.5" fill="none" stroke="#dd3333" stroke-width="1.3" opacity="0.45"/>
<path d="M328.9 292.06 L329.7 292 L330.5 291.93 L331.3 291.86 L332.1 291.78 L332.9 291.69 L333.7 291.59 L334.5 291.31 L335.3 291.31 L336.1 291.22 L336.9 291.22 L337.7 290.85 L338.5 290.49 L339.3 289.7 L340.1 289.18 L340.9 288.51 L341.7 288.02 L342.5 286.68 L343.3 284.71 L344.1 283.12 L344.9 281.62 L345.7 280.93 L346.5 281.26 L347.3 281.42 L348.1 282.22 L348.9 284 L349.7 283.5 L350.5 284.2 L351.3 285.36 L352.1 285.02 L352.9 284.57 L353.7 283.48 L354.5 282.15 L355.3 283.56 L356.1 281.7 L356.9 279.64 L357.7 279.61 L358.5 279.88 L359.3 278.65 L360.1 277.98 L360.9 277.79 L361.7 278.85 L362.5 279.43 L363.3 279.75 L364.1 279.99 L364.9 279.61 L365.7 280.8 L366.5 282.18 L367.3 284.08 L368.1 283.07 L368.9 283.12 L369.7 282.89 L370.5 282.95 L371.3 281.52 L372.1 281.72 L372.9 280.15 L373.7 278.74 L374.5 277.35 L375.3 275.59 L376.1 275.17 L376.9 274.66 L377.7 273.87 L378.5 274.91 L379.3 274.8 L380.1 274.59 L380.9 273.98 L381.7 274.66 L382.5 273.99 L383.3 273.72 L384.1 274.48 L384.9 274.65 L385.7 274.44 L386.5 273.05 L387.3 271.84 L388.1 270.36 L388.9 268.85 L389.7 268.06 L390.5 265.75 L391.3 263.61 L392.1 261.58 L392.9 259.42 L393.7 258.37 L394.5 256.1 L395.3 255.25 L396.1 254.75 L396.9 254.1 L397.7 253.95 L398.5 254.83 L399.3 256.19 L400.1 257.58 L400.9 257.21 L401.7 256.45 L402.5 254.92 L403.3 251.73 L404.1 248.37 L404.9 247.93 L405.7 249.61 L406.5 250.13 L407.3 250.98 L408.1 253.5 L408.9 255.78 L409.7 257.84 L410.5 258.46 L411.3 261.66 L412.1 264.1 L412.9 266.97 L413.7 271.06 L414.5 274 L415.3 276.74 L416.1 278.21 L416.9 280.08 L417.7 280.88 L418.5 283.22 L419.3 284.78 L420.1 286.29 L420.9 287.5 L421.7 287.89 L422.5 289.05 L423.3 289.68 L424.1 290.29 L424.9 291 L425.7 291.35 L426.5 291.71 L427.3 291.91 L428.1 292.07" fill="none" stroke="#aa3333" stroke-width="1.3" stroke-linejoin="round"/>
<path d="M296.9 292.5H328.9" fill="none" stroke="#aa3333" stroke-width="1.3" opacity="0.5"/>
<path d="M428.1 292.5H482.5" fill="none" stroke="#aa3333" stroke-width="1.3" opacity="0.45"/>
<path d="M295.8 321.8 L295.8 321.8 L296.6 321.8 L297.4 321.8 L298.2 321.8 L299 321.8 L299.8 321.8 L300.6 321.8 L301.4 321.8 L302.2 321.8 L303 321.8 L303.8 321.8 L304.6 321.8 L305.4 321.8 L306.2 321.8 L307 321.8 L307.8 321.79 L308.6 321.79 L309.4 321.79 L310.2 321.79 L311 321.79 L311.8 321.79 L312.6 321.79 L313.4 321.79 L314.2 321.79 L315 321.78 L315.8 321.78 L316.6 321.78 L317.4 321.78 L318.2 321.77 L319 321.77 L319.8 321.77 L320.6 321.76 L321.4 321.76 L322.2 321.75 L323 321.75 L323.8 321.74 L324.6 321.74 L325.4 321.73 L326.2 321.72 L327 321.72 L327.8 321.71 L328.6 321.7 L329.4 321.69 L330.2 321.68 L331 321.67 L331.8 321.65 L332.6 321.64 L333.4 321.63 L334.2 321.61 L335 321.6 L335.8 321.58 L336.6 321.56 L337.4 321.54 L338.2 321.52 L339 321.5 L339.8 321.48 L340.6 321.46 L341.4 321.43 L342.2 321.41 L343 321.38 L343.8 321.36 L344.6 321.33 L345.4 321.3 L346.2 321.27 L347 321.24 L347.8 321.2 L348.6 321.17 L349.4 321.14 L350.2 321.1 L351 321.07 L351.8 321.03 L352.6 321 L353.4 320.96 L354.2 320.92 L355 320.89 L355.8 320.85 L356.6 320.81 L357.4 320.81 L358.2 320.74 L359 320.69 L359.8 320.7 L360.6 320.59 L361.4 320.44 L362.2 320.35 L363 320.17 L363.8 320.32 L364.6 320.37 L365.4 320.07 L366.2 320.11 L367 320.07 L367.8 320.15 L368.6 319.92 L369.4 320.01 L370.2 320.16 L371 320 L371.8 319.95 L372.6 319.56 L373.4 319.56 L374.2 319.37 L375 319.27 L375.8 318.96 L376.6 319.01 L377.4 318.34 L378.2 318.78 L379 318.55 L379.8 318.45 L380.6 317.66 L381.4 317.35 L382.2 316.79 L383 316.76 L383.8 316.84 L384.6 317.01 L385.4 316.45 L386.2 316.1 L387 315.09 L387.8 314.21 L388.6 312.9 L389.4 312.89 L390.2 313.18 L391 313.3 L391.8 312.01 L392.6 310.62 L393.4 307.98 L394.2 307.6 L395 305.39 L395.8 303.42 L396.6 304.27 L397.4 301.92 L398.2 299.84 L399 297.58 L399.8 296.54 L400.6 294.04 L401.4 292.82 L402.2 290.62 L403 288.15 L403.8 284.03 L404.6 282.42 L405.4 279.41 L406.2 277.57 L407 276.39 L407.8 274.19 L408.6 272.07 L409.4 271.81 L410.2 270.33 L411 270.83 L411.8 271.53 L412.6 271.05 L413.4 271.24 L414.2 272.06 L415 273.19 L415.8 272.69 L416.6 272.73 L417.4 274.03 L418.2 274.93 L419 277.83 L419.8 278.65 L420.6 280.1 L421.4 282.11 L422.2 285.14 L423 287.32 L423.8 289.62 L424.6 291.17 L425.4 293.85 L426.2 296.42 L427 299.74 L427.8 301.11 L428.6 302.5 L429.4 305.61 L430.2 307.08 L431 308.89 L431.8 310.85 L432.6 313.62 L433.4 312.92 L434.2 316.04 L435 316.38 L435.8 317.36 L436.6 317.47 L437.4 318.5 L438.2 319.08 L439 319.43 L439.8 319.84 L440.6 320.36 L441.4 320.55 L442.2 320.87 L443 321.07 L443.8 321.22 L444.6 321.35 L445.4 321.45 L446.2 321.53 L447 321.59 L447.8 321.64 L448.6 321.68 L449.4 321.71 L450.2 321.73 L451 321.75 L451.8 321.76 L452.6 321.77 L453.4 321.78 L454.2 321.79 L455 321.79 L455.8 321.79 L456.6 321.8 L457.4 321.8 L458.2 321.8 L459 321.8 L459.8 321.8 L460.6 321.8 L461.4 321.8 L462.2 321.8 L463 321.8 L463.8 321.8 L464.6 321.8 L465.4 321.8 L466.2 321.8 L467 321.8 L467.8 321.8 L468.6 321.8 L469.4 321.8 L470.2 321.8 L471 321.8 L471.8 321.8 L472.6 321.8 L473.4 321.8 L474.2 321.8 L475 321.8 L475.8 321.8 L476.6 321.8 L477.4 321.8 L478.2 321.8 L479 321.8 L479.8 321.8 L480.6 321.8 L481.4 321.8 L482.2 321.8 L483 321.8 L483 321.8 Z" fill="#000" stroke="none"/>
<path d="M295.3 321.4 V17.5 H483 V321.4" fill="none" stroke="#8a8a8a" stroke-width="1"/>
<line x1="295.3" y1="19.5" x2="295.3" y2="321.4" stroke="#666" stroke-width="1.1"/>
<line x1="294.8" y1="321.4" x2="483.5" y2="321.4" stroke="#333" stroke-width="1.1"/>
<path d="M309.43 321.4v2M317.69 321.4v2M323.55 321.4v2M328.1 321.4v2M331.81 321.4v2M334.96 321.4v2M337.68 321.4v2M340.08 321.4v2M356.35 321.4v2M364.61 321.4v2M370.48 321.4v2M375.02 321.4v2M378.74 321.4v2M381.88 321.4v2M384.6 321.4v2M387 321.4v2M403.28 321.4v2M411.54 321.4v2M417.4 321.4v2M421.95 321.4v2M425.66 321.4v2M428.81 321.4v2M431.53 321.4v2M433.93 321.4v2M450.2 321.4v2M458.46 321.4v2M464.33 321.4v2M468.87 321.4v2M472.59 321.4v2M475.73 321.4v2M478.45 321.4v2M480.85 321.4v2" stroke="#333" stroke-width="0.9" fill="none"/>
<path d="M295.3 321.4v4M342.23 321.4v4M389.15 321.4v4M436.07 321.4v4M483 321.4v4" stroke="#111" stroke-width="1.4" fill="none"/>
<text transform="translate(298.5 334.2) scale(0.85 1)" font-size="6" fill="#000" stroke="#000" stroke-width="0.15" style="text-rendering:geometricPrecision" text-anchor="start" font-family="Liberation Sans, sans-serif">10<tspan font-size="5" dy="-3.2">-1</tspan></text>
<text transform="translate(342.62 334.2) scale(0.85 1)" font-size="6" fill="#000" stroke="#000" stroke-width="0.15" style="text-rendering:geometricPrecision" text-anchor="start" font-family="Liberation Sans, sans-serif">10<tspan font-size="5" dy="-3.2">0</tspan></text>
<text transform="translate(389.55 334.2) scale(0.85 1)" font-size="6" fill="#000" stroke="#000" stroke-width="0.15" style="text-rendering:geometricPrecision" text-anchor="start" font-family="Liberation Sans, sans-serif">10<tspan font-size="5" dy="-3.2">1</tspan></text>
<text transform="translate(436.47 334.2) scale(0.85 1)" font-size="6" fill="#000" stroke="#000" stroke-width="0.15" style="text-rendering:geometricPrecision" text-anchor="start" font-family="Liberation Sans, sans-serif">10<tspan font-size="5" dy="-3.2">2</tspan></text>
<text transform="translate(483 334.2) scale(0.85 1)" font-size="6" fill="#000" stroke="#000" stroke-width="0.15" style="text-rendering:geometricPrecision" text-anchor="end" font-family="Liberation Sans, sans-serif">10<tspan font-size="5" dy="-3.2">3</tspan></text>
<line x1="496.3" y1="74.3" x2="681.3" y2="74.3" stroke="#e4e4e4" stroke-width="1.4"/>
<path d="M496.3 74.3 L496.3 74.3 L497.6 73.9 L502.7 73.6 L510.1 72.6 L515.7 71.3 L520 69.4 L524.3 67.2 L527.7 65.6 L530.2 63.5 L532.7 60 L535.2 56.5 L537.7 52.5 L540 47 L542.3 42.5 L544.9 39.5 L547 35.5 L548.9 30.5 L550.5 27.8 L552.2 29.5 L554 33.5 L556 37 L558.2 40 L560 44 L561.5 49 L563 54 L564.5 58.5 L566.5 63.5 L568.3 67.5 L570.3 70.6 L573 72.5 L576 73.5 L581.7 74.3 L581.7 74.3 Z" fill="#b3b3b3" stroke="none"/>
<path d="M531.3 100.31 L532.1 100.01 L532.9 99.83 L533.7 99.36 L534.5 99.08 L535.3 98.84 L536.1 98.54 L536.9 98.24 L537.7 97.71 L538.5 96.95 L539.3 96.75 L540.1 96.58 L540.9 95.81 L541.7 94.94 L542.5 94.91 L543.3 94.36 L544.1 93.8 L544.9 92.57 L545.7 91.53 L546.5 90.96 L547.3 90.35 L548.1 88.92 L548.9 88.61 L549.7 87 L550.5 85.87 L551.3 84 L552.1 82.74 L552.9 82.02 L553.7 80.94 L554.5 79.76 L555.3 78.66 L556.1 77.17 L556.9 75.43 L557.7 74.71 L558.5 73.26 L559.3 71.25 L560.1 69.8 L560.9 68.94 L561.7 67.89 L562.5 66.75 L563.3 65.83 L564.1 63.85 L564.9 62.63 L565.7 61.74 L566.5 61.06 L567.3 59.92 L568.1 58.95 L568.9 57.31 L569.7 56.86 L570.5 56.16 L571.3 55.23 L572.1 54.69 L572.9 54.57 L573.7 55.12 L574.5 54.16 L575.3 53.93 L576.1 54.2 L576.9 54.23 L577.7 54.55 L578.5 54.89 L579.3 55.59 L580.1 55.71 L580.9 56.28 L581.7 57.3 L582.5 58.34 L583.3 59.73 L584.1 61.44 L584.9 63.58 L585.7 65.13 L586.5 66.7 L587.3 68.68 L588.1 70.49 L588.9 73.01 L589.7 75.49 L590.5 76.98 L591.3 79.3 L592.1 81.13 L592.9 83.08 L593.7 84.84 L594.5 86.61 L595.3 88.34 L596.1 90.34 L596.9 90.73 L597.7 92.04 L598.5 93.97 L599.3 95.05 L600.1 96.03 L600.9 96.77 L601.7 97.83 L602.5 98.02 L603.3 98.25 L604.1 98.88 L604.9 99.28 L605.7 99.68 L606.5 100.18 L607.3 100.37" fill="none" stroke="#9cf59c" stroke-width="1.35" stroke-dasharray="2.6 1.8"/>
<line x1="497.3" y1="101.9" x2="531.3" y2="101.9" stroke="#9cf59c" stroke-width="1.15" stroke-dasharray="8 5.5" opacity="0.5"/>
<line x1="610.3" y1="101.9" x2="680.8" y2="101.9" stroke="#9cf59c" stroke-width="1.15" stroke-dasharray="8 5.5" opacity="0.5"/>
<line x1="496.3" y1="101.9" x2="496.3" y2="97.9" stroke="#9cf59c" stroke-width="1.6" stroke-dasharray="2 1.2"/>
<path d="M538.5 127.27 L539.3 127.07 L540.1 126.87 L540.9 126.62 L541.7 126.32 L542.5 126.13 L543.3 126.01 L544.1 125.65 L544.9 125.2 L545.7 125.18 L546.5 124.82 L547.3 124.45 L548.1 124.07 L548.9 123.7 L549.7 123.44 L550.5 123.11 L551.3 122.26 L552.1 121.51 L552.9 121.77 L553.7 122.1 L554.5 121.04 L555.3 120.52 L556.1 119.86 L556.9 119.52 L557.7 118.29 L558.5 117.34 L559.3 116.54 L560.1 115.13 L560.9 113.32 L561.7 112.09 L562.5 110.94 L563.3 110.26 L564.1 108.92 L564.9 107.81 L565.7 106.15 L566.5 104.78 L567.3 103.57 L568.1 102.01 L568.9 100.89 L569.7 99.05 L570.5 97.08 L571.3 95.93 L572.1 94.29 L572.9 93.48 L573.7 91.5 L574.5 89.83 L575.3 89 L576.1 87.12 L576.9 86.21 L577.7 86 L578.5 85.5 L579.3 84.3 L580.1 83.96 L580.9 83.34 L581.7 84.02 L582.5 83.97 L583.3 83.59 L584.1 83.96 L584.9 83.72 L585.7 83.94 L586.5 83.84 L587.3 83.79 L588.1 83.22 L588.9 84.47 L589.7 85.02 L590.5 85.81 L591.3 87.88 L592.1 89.5 L592.9 90.62 L593.7 92.71 L594.5 96.32 L595.3 98.48 L596.1 101.29 L596.9 103.25 L597.7 105.76 L598.5 108.11 L599.3 110.47 L600.1 112.3 L600.9 114.41 L601.7 116.49 L602.5 118.1 L603.3 119.4 L604.1 121.1 L604.9 121.88 L605.7 123.5 L606.5 124.22 L607.3 125.09 L608.1 125.55 L608.9 126.33 L609.7 126.91 L610.5 127.41 L611.3 127.58" fill="none" stroke="#2fa52f" stroke-width="1.35" stroke-dasharray="2.6 1.8"/>
<line x1="497.3" y1="129" x2="538.5" y2="129" stroke="#2fa52f" stroke-width="1.15" stroke-dasharray="8 5.5" opacity="0.5"/>
<line x1="614.3" y1="129" x2="680.8" y2="129" stroke="#2fa52f" stroke-width="1.15" stroke-dasharray="8 5.5" opacity="0.5"/>
<line x1="496.3" y1="129" x2="496.3" y2="127" stroke="#2fa52f" stroke-width="1.6" stroke-dasharray="2 1.2"/>
<path d="M534.5 154.4 L535.3 154.18 L536.1 153.75 L536.9 153.54 L537.7 153.25 L538.5 152.98 L539.3 152.67 L540.1 152.58 L540.9 152.4 L541.7 152.01 L542.5 151.59 L543.3 151.2 L544.1 150.85 L544.9 150.66 L545.7 149.98 L546.5 149.54 L547.3 148.9 L548.1 149.39 L548.9 148.34 L549.7 148.65 L550.5 147.64 L551.3 147.08 L552.1 146.2 L552.9 145.59 L553.7 144.85 L554.5 143.91 L555.3 142.95 L556.1 142.43 L556.9 142.34 L557.7 141.27 L558.5 139.8 L559.3 139.03 L560.1 137.71 L560.9 136.79 L561.7 135.99 L562.5 134.34 L563.3 132.75 L564.1 131.96 L564.9 130.98 L565.7 129.56 L566.5 129.02 L567.3 128.03 L568.1 126.24 L568.9 124.79 L569.7 123.94 L570.5 123.04 L571.3 121.63 L572.1 120.97 L572.9 119.81 L573.7 118.63 L574.5 118.32 L575.3 116.69 L576.1 115.38 L576.9 114.23 L577.7 114.19 L578.5 113.87 L579.3 113.35 L580.1 113.08 L580.9 111.69 L581.7 111.93 L582.5 111.84 L583.3 111.67 L584.1 111.51 L584.9 111.08 L585.7 111.72 L586.5 111.4 L587.3 111.5 L588.1 112.27 L588.9 112.67 L589.7 113.99 L590.5 114.34 L591.3 116.12 L592.1 117.35 L592.9 118.86 L593.7 121.33 L594.5 123.8 L595.3 125.84 L596.1 128.41 L596.9 130.18 L597.7 132.4 L598.5 134.91 L599.3 137.19 L600.1 138.82 L600.9 141.28 L601.7 142.29 L602.5 144.39 L603.3 145.95 L604.1 147.62 L604.9 148.16 L605.7 149.23 L606.5 150.13 L607.3 151.13 L608.1 152.06 L608.9 152.58 L609.7 153.24 L610.5 153.79 L611.3 154.22 L612.1 154.56" fill="none" stroke="#2a7f2a" stroke-width="1.35" stroke-dasharray="2.6 1.8"/>
<line x1="497.3" y1="156" x2="534.5" y2="156" stroke="#2a7f2a" stroke-width="1.15" stroke-dasharray="8 5.5" opacity="0.5"/>
<line x1="615.1" y1="156" x2="680.8" y2="156" stroke="#2a7f2a" stroke-width="1.15" stroke-dasharray="8 5.5" opacity="0.5"/>
<path d="M539.3 182.34 L540.1 182.1 L540.9 181.69 L541.7 181.4 L542.5 181.05 L543.3 180.71 L544.1 180.32 L544.9 179.88 L545.7 179.22 L546.5 178.09 L547.3 177.22 L548.1 176.58 L548.9 175.32 L549.7 174.4 L550.5 173.71 L551.3 172.94 L552.1 172.3 L552.9 170.9 L553.7 169.72 L554.5 168.88 L555.3 167.66 L556.1 165.18 L556.9 163.71 L557.7 162.1 L558.5 160.59 L559.3 159.27 L560.1 157.5 L560.9 155.59 L561.7 154.32 L562.5 152.65 L563.3 150.9 L564.1 149.84 L564.9 148.43 L565.7 147.44 L566.5 145.92 L567.3 144.99 L568.1 143.57 L568.9 143.14 L569.7 141.8 L570.5 141.59 L571.3 141.55 L572.1 141.52 L572.9 141 L573.7 141.3 L574.5 140.53 L575.3 140.29 L576.1 140.43 L576.9 141.18 L577.7 141.11 L578.5 141.31 L579.3 141.82 L580.1 141.51 L580.9 141.03 L581.7 142.12 L582.5 142.75 L583.3 143.5 L584.1 145.34 L584.9 146.84 L585.7 148.21 L586.5 149.69 L587.3 151.9 L588.1 153.49 L588.9 155.34 L589.7 156.85 L590.5 159.42 L591.3 161.31 L592.1 163.15 L592.9 164.87 L593.7 166.21 L594.5 168.12 L595.3 168.66 L596.1 170.79 L596.9 171.99 L597.7 173.12 L598.5 174.25 L599.3 175.72 L600.1 177.11 L600.9 178.02 L601.7 178.62 L602.5 179.36 L603.3 179.94 L604.1 180.49 L604.9 181.16 L605.7 181.66 L606.5 181.85 L607.3 182.24" fill="none" stroke="#1c4f1c" stroke-width="1.35" stroke-dasharray="2.6 1.8"/>
<line x1="497.3" y1="183.8" x2="539.3" y2="183.8" stroke="#1c4f1c" stroke-width="1.15" stroke-dasharray="8 5.5" opacity="0.5"/>
<line x1="610.3" y1="183.8" x2="680.8" y2="183.8" stroke="#1c4f1c" stroke-width="1.15" stroke-dasharray="8 5.5" opacity="0.5"/>
<path d="M531.3 209.34 L532.1 209.26 L532.9 209.16 L533.7 209.06 L534.5 208.93 L535.3 208.85 L536.1 208.93 L536.9 208.68 L537.7 208.31 L538.5 208.11 L539.3 207.91 L540.1 207.78 L540.9 207.17 L541.7 206.92 L542.5 206.41 L543.3 205.64 L544.1 205.1 L544.9 203.89 L545.7 203.77 L546.5 202.93 L547.3 202.2 L548.1 202.15 L548.9 201.38 L549.7 200.92 L550.5 200.49 L551.3 198.98 L552.1 198.3 L552.9 195.92 L553.7 195.51 L554.5 194.58 L555.3 193.09 L556.1 192.01 L556.9 190.43 L557.7 189.29 L558.5 188.47 L559.3 187.93 L560.1 186.26 L560.9 182.95 L561.7 181.08 L562.5 179.52 L563.3 178.34 L564.1 176.82 L564.9 175.05 L565.7 174.45 L566.5 173.14 L567.3 171.89 L568.1 169.36 L568.9 168.84 L569.7 166.75 L570.5 166.15 L571.3 163.54 L572.1 163.46 L572.9 163.08 L573.7 161.87 L574.5 161.35 L575.3 160.93 L576.1 161.88 L576.9 161.12 L577.7 160.42 L578.5 161.1 L579.3 161.71 L580.1 162.4 L580.9 161.66 L581.7 161.95 L582.5 162.65 L583.3 164.22 L584.1 163.9 L584.9 164.77 L585.7 166.46 L586.5 167.21 L587.3 169.85 L588.1 171.02 L588.9 173.63 L589.7 174.49 L590.5 176.85 L591.3 178.14 L592.1 180.71 L592.9 182.51 L593.7 183.9 L594.5 186.72 L595.3 188.48 L596.1 190.77 L596.9 191.75 L597.7 193.85 L598.5 195.52 L599.3 196.95 L600.1 197.47 L600.9 199.6 L601.7 200.64 L602.5 201.83 L603.3 202.97 L604.1 204.01 L604.9 204.58 L605.7 205.05 L606.5 206.14 L607.3 206.38 L608.1 207.07 L608.9 207.33 L609.7 207.25 L610.5 207.9 L611.3 208.21 L612.1 208.49 L612.9 208.61 L613.7 208.87 L614.5 209.03 L615.3 209.17 L616.1 209.28 L616.9 209.38" fill="none" stroke="#66ee66" stroke-width="1.3" stroke-linejoin="round"/>
<path d="M496.9 209.8H531.3" fill="none" stroke="#66ee66" stroke-width="1.3" opacity="0.5"/>
<path d="M616.9 209.8H681.3" fill="none" stroke="#66ee66" stroke-width="1.3" opacity="0.45"/>
<path d="M495.9 209.8L496.3 207.8L497.9 209.5" fill="none" stroke="#66ee66" stroke-width="1.3" stroke-linejoin="round"/>
<path d="M528.9 237.96 L529.7 237.9 L530.5 237.83 L531.3 237.76 L532.1 237.68 L532.9 237.59 L533.7 237.49 L534.5 237.4 L535.3 237.29 L536.1 237.27 L536.9 237.1 L537.7 237.08 L538.5 236.66 L539.3 236.45 L540.1 236.02 L540.9 236.07 L541.7 235.8 L542.5 235.87 L543.3 235.81 L544.1 235.52 L544.9 235.13 L545.7 234.65 L546.5 234.58 L547.3 234.03 L548.1 233.62 L548.9 233.88 L549.7 233.68 L550.5 233.74 L551.3 232.63 L552.1 232.78 L552.9 232.14 L553.7 231.62 L554.5 231.74 L555.3 231.81 L556.1 231.31 L556.9 231.49 L557.7 231.76 L558.5 231.62 L559.3 230.6 L560.1 229.95 L560.9 228.45 L561.7 229.56 L562.5 228.53 L563.3 228.68 L564.1 227.07 L564.9 226.1 L565.7 225.51 L566.5 223.95 L567.3 223.72 L568.1 223.16 L568.9 222.59 L569.7 221.4 L570.5 219.59 L571.3 217.51 L572.1 215.19 L572.9 213.99 L573.7 212.72 L574.5 210.86 L575.3 208.96 L576.1 207.01 L576.9 204.97 L577.7 203.25 L578.5 200.99 L579.3 199.27 L580.1 197.45 L580.9 196.63 L581.7 194.83 L582.5 193.3 L583.3 192.27 L584.1 192.43 L584.9 193.03 L585.7 193.64 L586.5 193.95 L587.3 193.86 L588.1 193.65 L588.9 194.44 L589.7 193.45 L590.5 194.24 L591.3 194.21 L592.1 194.43 L592.9 193.99 L593.7 193.59 L594.5 195.22 L595.3 196.71 L596.1 198.29 L596.9 199.82 L597.7 201.47 L598.5 201.67 L599.3 204.79 L600.1 206.84 L600.9 209.3 L601.7 210.89 L602.5 213.2 L603.3 214.71 L604.1 217.39 L604.9 217.79 L605.7 219.93 L606.5 223.03 L607.3 223.96 L608.1 225.81 L608.9 227.83 L609.7 228.54 L610.5 230 L611.3 230.51 L612.1 231.9 L612.9 232.34 L613.7 233.26 L614.5 233.98 L615.3 234.68 L616.1 235.4 L616.9 235.94 L617.7 236.25 L618.5 236.53 L619.3 236.94 L620.1 237.01 L620.9 237.43 L621.7 237.61 L622.5 237.76 L623.3 237.89 L624.1 237.99" fill="none" stroke="#3cb43c" stroke-width="1.3" stroke-linejoin="round"/>
<path d="M496.9 238.4H528.9" fill="none" stroke="#3cb43c" stroke-width="1.3" opacity="0.5"/>
<path d="M624.1 238.4H681.3" fill="none" stroke="#3cb43c" stroke-width="1.3" opacity="0.45"/>
<path d="M544.1 264.8 L544.9 264.72 L545.7 264.61 L546.5 264.49 L547.3 264.36 L548.1 264.08 L548.9 263.91 L549.7 263.97 L550.5 263.54 L551.3 263.41 L552.1 263.01 L552.9 262.29 L553.7 261.86 L554.5 261.93 L555.3 261.53 L556.1 261.55 L556.9 260.59 L557.7 259.76 L558.5 259.63 L559.3 258.59 L560.1 257.33 L560.9 256.25 L561.7 256.12 L562.5 255.61 L563.3 255.09 L564.1 254.41 L564.9 252.55 L565.7 251.12 L566.5 249.01 L567.3 247.84 L568.1 246.91 L568.9 246.41 L569.7 243.72 L570.5 242.38 L571.3 241.06 L572.1 240.23 L572.9 239.09 L573.7 236.8 L574.5 235.79 L575.3 233.66 L576.1 231.82 L576.9 230.77 L577.7 230.3 L578.5 228.3 L579.3 226.07 L580.1 225.67 L580.9 225.24 L581.7 223.24 L582.5 222.34 L583.3 222.01 L584.1 220.5 L584.9 220.39 L585.7 219.78 L586.5 219.9 L587.3 220.17 L588.1 219.84 L588.9 220.47 L589.7 221.63 L590.5 221.87 L591.3 221.38 L592.1 221.67 L592.9 221.74 L593.7 223.08 L594.5 224.1 L595.3 226.15 L596.1 228.42 L596.9 229.89 L597.7 232.32 L598.5 233.45 L599.3 235.57 L600.1 237.11 L600.9 239.41 L601.7 241.02 L602.5 242.02 L603.3 244.01 L604.1 246.09 L604.9 247.36 L605.7 248.35 L606.5 250.14 L607.3 252.29 L608.1 254.23 L608.9 255.69 L609.7 255.55 L610.5 256.58 L611.3 257.21 L612.1 257.66 L612.9 258.68 L613.7 259.47 L614.5 260.53 L615.3 261.64 L616.1 261.77 L616.9 262.24 L617.7 262.53 L618.5 263.14 L619.3 263.42 L620.1 263.42 L620.9 263.87 L621.7 264.09 L622.5 264.19 L623.3 264.46 L624.1 264.6 L624.9 264.72 L625.7 264.82" fill="none" stroke="#2e8e2e" stroke-width="1.3" stroke-linejoin="round"/>
<path d="M496.9 265.3H544.1" fill="none" stroke="#2e8e2e" stroke-width="1.3" opacity="0.5"/>
<path d="M625.7 265.3H681.3" fill="none" stroke="#2e8e2e" stroke-width="1.3" opacity="0.45"/>
<path d="M530.5 292.03 L531.3 291.98 L532.1 291.93 L532.9 291.88 L533.7 291.81 L534.5 291.75 L535.3 291.68 L536.1 291.6 L536.9 291.52 L537.7 291.47 L538.5 291.33 L539.3 291.15 L540.1 290.94 L540.9 290.87 L541.7 290.58 L542.5 290.71 L543.3 290.36 L544.1 290.37 L544.9 290.16 L545.7 290.1 L546.5 289.96 L547.3 289.99 L548.1 289.68 L548.9 289.04 L549.7 288.98 L550.5 288.9 L551.3 288.74 L552.1 288.34 L552.9 288.25 L553.7 288.02 L554.5 287.67 L555.3 286.92 L556.1 286.42 L556.9 286.76 L557.7 286.58 L558.5 285.97 L559.3 284.91 L560.1 283.89 L560.9 283.64 L561.7 281.76 L562.5 281.61 L563.3 280.11 L564.1 278.73 L564.9 277.24 L565.7 276.54 L566.5 275.2 L567.3 274.85 L568.1 273.98 L568.9 271.87 L569.7 269 L570.5 266.24 L571.3 264.39 L572.1 261.71 L572.9 259.51 L573.7 256.8 L574.5 256.22 L575.3 254.61 L576.1 253.08 L576.9 251.64 L577.7 248.8 L578.5 248.36 L579.3 247.88 L580.1 247.28 L580.9 246.31 L581.7 246.68 L582.5 246.22 L583.3 246.12 L584.1 246.8 L584.9 248.18 L585.7 248.26 L586.5 248.71 L587.3 247.62 L588.1 248.77 L588.9 250.09 L589.7 250.48 L590.5 251.46 L591.3 253.18 L592.1 253.62 L592.9 254.68 L593.7 256.36 L594.5 258.61 L595.3 260.71 L596.1 263.27 L596.9 264.07 L597.7 265.27 L598.5 267.45 L599.3 268.82 L600.1 268.39 L600.9 271.41 L601.7 274.1 L602.5 274.85 L603.3 276.48 L604.1 277.96 L604.9 278.67 L605.7 279.99 L606.5 280.52 L607.3 281.53 L608.1 282.1 L608.9 283.38 L609.7 285.73 L610.5 285.37 L611.3 286.96 L612.1 286.84 L612.9 287.36 L613.7 288.39 L614.5 288.65 L615.3 288.76 L616.1 289.45 L616.9 289.7 L617.7 290.1 L618.5 290.45 L619.3 290.66 L620.1 290.6 L620.9 290.74 L621.7 290.97 L622.5 291.16 L623.3 291.3 L624.1 291.41 L624.9 291.55 L625.7 291.65 L626.5 291.74 L627.3 291.82 L628.1 291.89 L628.9 291.95 L629.7 292.01" fill="none" stroke="#2d5a2d" stroke-width="1.3" stroke-linejoin="round"/>
<path d="M496.9 292.5H530.5" fill="none" stroke="#2d5a2d" stroke-width="1.3" opacity="0.5"/>
<path d="M629.7 292.5H681.3" fill="none" stroke="#2d5a2d" stroke-width="1.3" opacity="0.45"/>
<path d="M495.8 321.8 L495.8 321.8 L496.6 321.8 L497.4 321.8 L498.2 321.8 L499 321.8 L499.8 321.8 L500.6 321.8 L501.4 321.8 L502.2 321.8 L503 321.8 L503.8 321.8 L504.6 321.8 L505.4 321.8 L506.2 321.8 L507 321.8 L507.8 321.79 L508.6 321.79 L509.4 321.79 L510.2 321.79 L511 321.79 L511.8 321.79 L512.6 321.79 L513.4 321.79 L514.2 321.79 L515 321.78 L515.8 321.78 L516.6 321.78 L517.4 321.78 L518.2 321.77 L519 321.77 L519.8 321.77 L520.6 321.76 L521.4 321.76 L522.2 321.75 L523 321.75 L523.8 321.74 L524.6 321.74 L525.4 321.73 L526.2 321.72 L527 321.72 L527.8 321.71 L528.6 321.7 L529.4 321.69 L530.2 321.68 L531 321.67 L531.8 321.65 L532.6 321.64 L533.4 321.63 L534.2 321.61 L535 321.6 L535.8 321.58 L536.6 321.56 L537.4 321.54 L538.2 321.52 L539 321.5 L539.8 321.48 L540.6 321.46 L541.4 321.43 L542.2 321.41 L543 321.38 L543.8 321.36 L544.6 321.33 L545.4 321.3 L546.2 321.27 L547 321.24 L547.8 321.2 L548.6 321.17 L549.4 321.14 L550.2 321.1 L551 321.07 L551.8 321.03 L552.6 321 L553.4 320.96 L554.2 320.92 L555 320.89 L555.8 320.85 L556.6 320.81 L557.4 320.67 L558.2 320.72 L559 320.5 L559.8 320.45 L560.6 320.33 L561.4 320.3 L562.2 320.28 L563 320.28 L563.8 320.48 L564.6 320.69 L565.4 320.66 L566.2 320.36 L567 320.09 L567.8 320.04 L568.6 319.98 L569.4 319.56 L570.2 319.72 L571 320.07 L571.8 320.19 L572.6 319.9 L573.4 319.39 L574.2 318.99 L575 318.94 L575.8 318.48 L576.6 318.4 L577.4 318.49 L578.2 318.32 L579 317.62 L579.8 316.95 L580.6 317.43 L581.4 317.55 L582.2 316.86 L583 315.04 L583.8 315.88 L584.6 316.33 L585.4 315.2 L586.2 314.23 L587 314.36 L587.8 313.69 L588.6 312.59 L589.4 313.62 L590.2 312.3 L591 310.63 L591.8 308.98 L592.6 307.33 L593.4 306.92 L594.2 307.25 L595 304.28 L595.8 302.34 L596.6 301.64 L597.4 298.86 L598.2 296.34 L599 294.9 L599.8 294.9 L600.6 292.11 L601.4 289.64 L602.2 287.2 L603 284.05 L603.8 282.12 L604.6 278.78 L605.4 274.75 L606.2 274.51 L607 271.89 L607.8 271.48 L608.6 270.18 L609.4 270.14 L610.2 269.15 L611 270.51 L611.8 270.05 L612.6 271.16 L613.4 270.98 L614.2 271.44 L615 271.22 L615.8 274.05 L616.6 276.19 L617.4 275.82 L618.2 277.43 L619 278.21 L619.8 282.09 L620.6 284.25 L621.4 286.22 L622.2 287.46 L623 290.86 L623.8 294.17 L624.6 296.06 L625.4 298.85 L626.2 301.94 L627 303.24 L627.8 307.15 L628.6 309.28 L629.4 309.1 L630.2 311.28 L631 312.91 L631.8 313.72 L632.6 314.1 L633.4 315.29 L634.2 317.12 L635 318.07 L635.8 318.2 L636.6 318.95 L637.4 319.65 L638.2 319.83 L639 320.07 L639.8 320.21 L640.6 320.84 L641.4 321.04 L642.2 321.2 L643 321.33 L643.8 321.44 L644.6 321.52 L645.4 321.59 L646.2 321.64 L647 321.68 L647.8 321.71 L648.6 321.73 L649.4 321.75 L650.2 321.76 L651 321.77 L651.8 321.78 L652.6 321.79 L653.4 321.79 L654.2 321.79 L655 321.79 L655.8 321.8 L656.6 321.8 L657.4 321.8 L658.2 321.8 L659 321.8 L659.8 321.8 L660.6 321.8 L661.4 321.8 L662.2 321.8 L663 321.8 L663.8 321.8 L664.6 321.8 L665.4 321.8 L666.2 321.8 L667 321.8 L667.8 321.8 L668.6 321.8 L669.4 321.8 L670.2 321.8 L671 321.8 L671.8 321.8 L672.6 321.8 L673.4 321.8 L674.2 321.8 L675 321.8 L675.8 321.8 L676.6 321.8 L677.4 321.8 L678.2 321.8 L679 321.8 L679.8 321.8 L680.6 321.8 L681.4 321.8 L681.4 321.8 Z" fill="#000" stroke="none"/>
<path d="M495.3 320.7 V17.5 H681.8 V320.7" fill="none" stroke="#8a8a8a" stroke-width="1"/>
<line x1="495.3" y1="19.5" x2="495.3" y2="320.7" stroke="#666" stroke-width="1.1"/>
<line x1="494.8" y1="320.7" x2="682.3" y2="320.7" stroke="#777" stroke-width="1.1"/>
<path d="M509.34 320.7v2M517.55 320.7v2M523.37 320.7v2M527.89 320.7v2M531.58 320.7v2M534.7 320.7v2M537.41 320.7v2M539.79 320.7v2M555.96 320.7v2M564.17 320.7v2M570 320.7v2M574.51 320.7v2M578.21 320.7v2M581.33 320.7v2M584.03 320.7v2M586.42 320.7v2M602.59 320.7v2M610.8 320.7v2M616.62 320.7v2M621.14 320.7v2M624.83 320.7v2M627.95 320.7v2M630.66 320.7v2M633.04 320.7v2M649.21 320.7v2M657.42 320.7v2M663.25 320.7v2M667.76 320.7v2M671.46 320.7v2M674.58 320.7v2M677.28 320.7v2M679.67 320.7v2" stroke="#333" stroke-width="0.9" fill="none"/>
<path d="M495.3 320.7v4M541.92 320.7v4M588.55 320.7v4M635.17 320.7v4M681.8 320.7v4" stroke="#111" stroke-width="1.4" fill="none"/>
<text transform="translate(498.5 334.2) scale(0.85 1)" font-size="6" fill="#000" stroke="#000" stroke-width="0.15" style="text-rendering:geometricPrecision" text-anchor="start" font-family="Liberation Sans, sans-serif">10<tspan font-size="5" dy="-3.2">-1</tspan></text>
<text transform="translate(542.32 334.2) scale(0.85 1)" font-size="6" fill="#000" stroke="#000" stroke-width="0.15" style="text-rendering:geometricPrecision" text-anchor="start" font-family="Liberation Sans, sans-serif">10<tspan font-size="5" dy="-3.2">0</tspan></text>
<text transform="translate(588.95 334.2) scale(0.85 1)" font-size="6" fill="#000" stroke="#000" stroke-width="0.15" style="text-rendering:geometricPrecision" text-anchor="start" font-family="Liberation Sans, sans-serif">10<tspan font-size="5" dy="-3.2">1</tspan></text>
<text transform="translate(635.57 334.2) scale(0.85 1)" font-size="6" fill="#000" stroke="#000" stroke-width="0.15" style="text-rendering:geometricPrecision" text-anchor="start" font-family="Liberation Sans, sans-serif">10<tspan font-size="5" dy="-3.2">2</tspan></text>
<text transform="translate(681.8 334.2) scale(0.85 1)" font-size="6" fill="#000" stroke="#000" stroke-width="0.15" style="text-rendering:geometricPrecision" text-anchor="end" font-family="Liberation Sans, sans-serif">10<tspan font-size="5" dy="-3.2">3</tspan></text>
<text x="186.2" y="10.5" font-size="14" text-anchor="middle" fill="#111" font-family="Liberation Sans, sans-serif">LipoMM</text>
<text x="390.3" y="10.5" font-size="14" text-anchor="middle" fill="#111" font-family="Liberation Sans, sans-serif">ViroR</text>
<text x="595.9" y="10.5" font-size="14" text-anchor="middle" fill="#111" font-family="Liberation Sans, sans-serif">ScrF</text>
<text x="91.8" y="78.2" font-size="11.8" text-anchor="end" fill="#111" font-family="Liberation Sans, sans-serif">Untransfected</text>
<text x="91.8" y="104.1" font-size="11.8" text-anchor="end" fill="#111" font-family="Liberation Sans, sans-serif">62.5 ng</text>
<text x="91.8" y="129.8" font-size="11.8" text-anchor="end" fill="#111" font-family="Liberation Sans, sans-serif">125 ng</text>
<text x="91.8" y="156" font-size="11.8" text-anchor="end" fill="#111" font-family="Liberation Sans, sans-serif">250 ng</text>
<text x="91.8" y="181.9" font-size="11.8" text-anchor="end" fill="#111" font-family="Liberation Sans, sans-serif">500 ng</text>
<text x="91.8" y="215.4" font-size="11.8" text-anchor="end" fill="#111" font-family="Liberation Sans, sans-serif">62.5 ng</text>
<text x="91.8" y="241.7" font-size="11.8" text-anchor="end" fill="#111" font-family="Liberation Sans, sans-serif">125 ng</text>
<text x="91.8" y="268.1" font-size="11.8" text-anchor="end" fill="#111" font-family="Liberation Sans, sans-serif">250 ng</text>
<text x="91.8" y="293.5" font-size="11.8" text-anchor="end" fill="#111" font-family="Liberation Sans, sans-serif">500 ng</text>
<text x="91.8" y="319.2" font-size="11.8" text-anchor="end" fill="#111" font-family="Liberation Sans, sans-serif">Activated</text>
<text transform="translate(38.2 134.4) rotate(-90)" font-size="11.9" text-anchor="middle" fill="#111" font-family="Liberation Sans, sans-serif">Modified mRNA</text>
<text transform="translate(38.4 259.8) rotate(-90)" font-size="11.9" text-anchor="middle" fill="#111" font-family="Liberation Sans, sans-serif">Non-modified mRNA</text>
<text transform="translate(12.4 194.1) rotate(-90)" font-size="14.1" font-weight="bold" text-anchor="middle" fill="#000" font-family="Liberation Sans, sans-serif">Monocytes</text>
<line x1="97" y1="341.5" x2="156" y2="341.5" stroke="#222" stroke-width="1"/>
<path d="M155.3 338.7 L161.8 341.5 L155.3 344.3 Z" fill="#111"/>
<text x="103.4" y="359.9" font-size="13.9" fill="#111" font-family="Liberation Sans, sans-serif">CD80</text>
<line x1="95.4" y1="443.8" x2="279.3" y2="443.8" stroke="#e4e4e4" stroke-width="1.4"/>
<path d="M95.4 443.8 L95.4 443.8 L132.6 444.3 L143.1 442.3 L149.7 440.7 L153.6 438.4 L157.6 433.1 L161.5 426.5 L165.5 420 L169.4 414 L172.7 415.4 L175.3 408.1 L178 404.9 L181.2 405.5 L183.9 403.5 L185.8 402.2 L187.8 404.9 L189.1 413.4 L191.1 420.6 L194.4 424.6 L198.3 431.8 L201.6 439 L206.2 442.3 L214.1 443.9 L222 444.3 L228 443.6 L234 444 L240 443.5 L246 444.3 L246 443.8 Z" fill="#b3b3b3" stroke="none"/>
<path d="M128 469.85 L128.8 469.74 L129.6 469.49 L130.4 469.41 L131.2 469.45 L132 469.44 L132.8 469.17 L133.6 469.04 L134.4 468.95 L135.2 468.92 L136 468.72 L136.8 468.51 L137.6 468.4 L138.4 468.23 L139.2 467.88 L140 467.61 L140.8 467.42 L141.6 467.35 L142.4 467.45 L143.2 467.03 L144 466.56 L144.8 466.24 L145.6 465.97 L146.4 465.91 L147.2 465.75 L148 465.63 L148.8 465.14 L149.6 465.11 L150.4 464.31 L151.2 464.06 L152 464.09 L152.8 463.84 L153.6 464.04 L154.4 463.67 L155.2 463.08 L156 461.57 L156.8 461.58 L157.6 460.69 L158.4 460.17 L159.2 459.66 L160 458.69 L160.8 458.64 L161.6 457.2 L162.4 455.62 L163.2 454.85 L164 454.04 L164.8 453.01 L165.6 451.72 L166.4 450.83 L167.2 449.55 L168 448.1 L168.8 446.95 L169.6 445.42 L170.4 443.93 L171.2 442.31 L172 441.32 L172.8 439.94 L173.6 438.48 L174.4 436.47 L175.2 435.03 L176 434.27 L176.8 433.14 L177.6 430.88 L178.4 429.66 L179.2 429.08 L180 428.23 L180.8 427.06 L181.6 425.7 L182.4 424.68 L183.2 424.64 L184 424.53 L184.8 423.72 L185.6 424.34 L186.4 424.01 L187.2 424.59 L188 425.44 L188.8 426.07 L189.6 427.33 L190.4 429.21 L191.2 431.28 L192 432.77 L192.8 434.34 L193.6 435.87 L194.4 439.04 L195.2 440.43 L196 442.42 L196.8 444.19 L197.6 446.36 L198.4 448.67 L199.2 450.75 L200 452.74 L200.8 454.97 L201.6 456.76 L202.4 458.35 L203.2 460.04 L204 461.89 L204.8 463.41 L205.6 464.04 L206.4 464.81 L207.2 465.75 L208 466.84 L208.8 467.32 L209.6 468.05 L210.4 468.85 L211.2 469.03 L212 469.59 L212.8 469.73" fill="none" stroke="#4da6ff" stroke-width="1.35" stroke-dasharray="2.6 1.8"/>
<line x1="96.4" y1="471.5" x2="128" y2="471.5" stroke="#4da6ff" stroke-width="1.15" stroke-dasharray="8 5.5" opacity="0.5"/>
<line x1="215.8" y1="471.5" x2="278.8" y2="471.5" stroke="#4da6ff" stroke-width="1.15" stroke-dasharray="8 5.5" opacity="0.5"/>
<line x1="95.4" y1="471.5" x2="95.4" y2="422.5" stroke="#4da6ff" stroke-width="1.6" stroke-dasharray="2 1.2"/>
<path d="M152.8 496.98 L153.6 496.8 L154.4 496.69 L155.2 496.43 L156 495.98 L156.8 495.53 L157.6 494.81 L158.4 494.22 L159.2 494.18 L160 493.38 L160.8 492.64 L161.6 491.69 L162.4 491.3 L163.2 490.88 L164 490.04 L164.8 488.69 L165.6 487.82 L166.4 486.5 L167.2 485.6 L168 485.05 L168.8 484.35 L169.6 482.43 L170.4 481.93 L171.2 480.66 L172 479.32 L172.8 478.15 L173.6 476.74 L174.4 475.1 L175.2 472.72 L176 471.57 L176.8 470.41 L177.6 468.89 L178.4 467.1 L179.2 466.06 L180 464.71 L180.8 463.8 L181.6 461.87 L182.4 460.23 L183.2 458.52 L184 457.99 L184.8 456.08 L185.6 455.05 L186.4 454.49 L187.2 453.89 L188 453.25 L188.8 452.98 L189.6 451.98 L190.4 451.78 L191.2 451.65 L192 451.16 L192.8 451.08 L193.6 451.46 L194.4 451.86 L195.2 452.57 L196 452.83 L196.8 453.67 L197.6 455.37 L198.4 456.79 L199.2 457.88 L200 459.86 L200.8 461.12 L201.6 463.15 L202.4 465.1 L203.2 468.03 L204 469.56 L204.8 471.48 L205.6 473.34 L206.4 475.26 L207.2 477.14 L208 479.32 L208.8 480.8 L209.6 482.61 L210.4 484.65 L211.2 486.39 L212 487.51 L212.8 488.6 L213.6 490.54 L214.4 491.99 L215.2 492.11 L216 492.89 L216.8 493.01 L217.6 494.33 L218.4 495 L219.2 495.62 L220 495.99 L220.8 496.29 L221.6 496.61 L222.4 497.12 L223.2 497.33" fill="none" stroke="#4d4dff" stroke-width="1.35" stroke-dasharray="2.6 1.8"/>
<line x1="96.4" y1="498.8" x2="152.8" y2="498.8" stroke="#4d4dff" stroke-width="1.15" stroke-dasharray="8 5.5" opacity="0.5"/>
<line x1="226.2" y1="498.8" x2="278.8" y2="498.8" stroke="#4d4dff" stroke-width="1.15" stroke-dasharray="8 5.5" opacity="0.5"/>
<line x1="95.4" y1="498.8" x2="95.4" y2="480.8" stroke="#4d4dff" stroke-width="1.6" stroke-dasharray="2 1.2"/>
<path d="M151.2 524.59 L152 524.51 L152.8 524.38 L153.6 524.29 L154.4 523.96 L155.2 523.96 L156 523.84 L156.8 523.62 L157.6 523.41 L158.4 522.84 L159.2 522.68 L160 522.66 L160.8 522.31 L161.6 522.02 L162.4 521.73 L163.2 521.5 L164 521.1 L164.8 521.09 L165.6 520.94 L166.4 520.47 L167.2 520.2 L168 519.27 L168.8 518.04 L169.6 517.3 L170.4 516.85 L171.2 516.32 L172 516.02 L172.8 515.68 L173.6 514.46 L174.4 514.05 L175.2 512.74 L176 511.68 L176.8 510.25 L177.6 509.14 L178.4 507.91 L179.2 506.84 L180 505.98 L180.8 504.34 L181.6 502.36 L182.4 500.42 L183.2 498.47 L184 497.44 L184.8 496.08 L185.6 493.99 L186.4 492.46 L187.2 489.82 L188 488.4 L188.8 487.53 L189.6 486.05 L190.4 483.87 L191.2 483.25 L192 481.7 L192.8 480.91 L193.6 479.06 L194.4 478.41 L195.2 478.01 L196 477.86 L196.8 477.35 L197.6 477.71 L198.4 477.28 L199.2 476.37 L200 476.93 L200.8 477.83 L201.6 479.19 L202.4 480.09 L203.2 481.61 L204 483.38 L204.8 484.48 L205.6 486.33 L206.4 488.77 L207.2 490.29 L208 492.66 L208.8 494.78 L209.6 497.06 L210.4 498.95 L211.2 501.13 L212 503.58 L212.8 505.45 L213.6 507.69 L214.4 509.52 L215.2 510.75 L216 513.03 L216.8 514.9 L217.6 516.28 L218.4 517.6 L219.2 518.17 L220 519.84 L220.8 520.02 L221.6 520.74 L222.4 521.88 L223.2 522.61 L224 523.3 L224.8 523.74 L225.6 524.15 L226.4 524.52 L227.2 524.85" fill="none" stroke="#3535ee" stroke-width="1.35" stroke-dasharray="2.6 1.8"/>
<line x1="96.4" y1="526.5" x2="151.2" y2="526.5" stroke="#3535ee" stroke-width="1.15" stroke-dasharray="8 5.5" opacity="0.5"/>
<line x1="230.2" y1="526.5" x2="278.8" y2="526.5" stroke="#3535ee" stroke-width="1.15" stroke-dasharray="8 5.5" opacity="0.5"/>
<line x1="95.4" y1="526.5" x2="95.4" y2="520.5" stroke="#3535ee" stroke-width="1.6" stroke-dasharray="2 1.2"/>
<path d="M160 551.86 L160.8 551.71 L161.6 551.37 L162.4 551.08 L163.2 551.14 L164 550.74 L164.8 550.29 L165.6 549.93 L166.4 549.83 L167.2 549.72 L168 549.21 L168.8 548.77 L169.6 548.58 L170.4 548.61 L171.2 548.62 L172 548.08 L172.8 547.94 L173.6 547.71 L174.4 547.16 L175.2 546.56 L176 547.04 L176.8 546.79 L177.6 545.9 L178.4 545.72 L179.2 545.59 L180 545.05 L180.8 545.19 L181.6 545.12 L182.4 544.45 L183.2 543.32 L184 542.61 L184.8 542.25 L185.6 541.34 L186.4 540.91 L187.2 540.48 L188 539.88 L188.8 538.29 L189.6 536.56 L190.4 535.08 L191.2 533.65 L192 532.19 L192.8 530.02 L193.6 528.34 L194.4 526.99 L195.2 524.37 L196 522.72 L196.8 520.57 L197.6 518.68 L198.4 516.48 L199.2 514.84 L200 512.96 L200.8 511.74 L201.6 510.89 L202.4 510.13 L203.2 509.16 L204 509.1 L204.8 508.58 L205.6 508.85 L206.4 509.28 L207.2 509.54 L208 509.66 L208.8 509.48 L209.6 510.22 L210.4 511.5 L211.2 513.23 L212 514 L212.8 516.03 L213.6 517.95 L214.4 520.1 L215.2 521.65 L216 523.89 L216.8 526.31 L217.6 528.4 L218.4 530.89 L219.2 533.19 L220 535.02 L220.8 537.78 L221.6 538.67 L222.4 539.6 L223.2 541.82 L224 543.31 L224.8 545.16 L225.6 546.05 L226.4 546.96 L227.2 547.72 L228 548.95 L228.8 549.71 L229.6 550.36 L230.4 550.87 L231.2 551.07 L232 551.6 L232.8 552" fill="none" stroke="#2e2e99" stroke-width="1.35" stroke-dasharray="2.6 1.8"/>
<line x1="96.4" y1="553.6" x2="160" y2="553.6" stroke="#2e2e99" stroke-width="1.15" stroke-dasharray="8 5.5" opacity="0.5"/>
<line x1="235.8" y1="553.6" x2="278.8" y2="553.6" stroke="#2e2e99" stroke-width="1.15" stroke-dasharray="8 5.5" opacity="0.5"/>
<line x1="95.4" y1="553.6" x2="95.4" y2="551.6" stroke="#2e2e99" stroke-width="1.6" stroke-dasharray="2 1.2"/>
<path d="M128.8 580.34 L129.6 580.29 L130.4 580.24 L131.2 580.19 L132 580.13 L132.8 580.07 L133.6 580 L134.4 579.93 L135.2 579.86 L136 579.71 L136.8 579.7 L137.6 579.55 L138.4 579.3 L139.2 579.27 L140 579.24 L140.8 579.31 L141.6 579.07 L142.4 578.97 L143.2 578.73 L144 578.77 L144.8 578.55 L145.6 578.14 L146.4 578.07 L147.2 578.11 L148 578.26 L148.8 578.02 L149.6 577.66 L150.4 577.39 L151.2 577.58 L152 577.6 L152.8 577.53 L153.6 577.44 L154.4 577.08 L155.2 576.62 L156 575.71 L156.8 575.68 L157.6 575.11 L158.4 575.85 L159.2 574.95 L160 574.62 L160.8 574.48 L161.6 574.11 L162.4 573.88 L163.2 572.99 L164 572.88 L164.8 573.99 L165.6 574.53 L166.4 572.81 L167.2 572.62 L168 571.49 L168.8 571.65 L169.6 571.69 L170.4 571.27 L171.2 570.38 L172 569.66 L172.8 569.42 L173.6 568.26 L174.4 567.19 L175.2 567.11 L176 566.77 L176.8 566.67 L177.6 565.21 L178.4 563.77 L179.2 562.93 L180 561.93 L180.8 560.58 L181.6 559.21 L182.4 557.57 L183.2 555.92 L184 554.63 L184.8 552.88 L185.6 552.49 L186.4 550.67 L187.2 549.13 L188 548.43 L188.8 547.14 L189.6 545.1 L190.4 543.54 L191.2 542.84 L192 541.44 L192.8 538.88 L193.6 537.37 L194.4 536.53 L195.2 534.94 L196 535.07 L196.8 534.45 L197.6 533.27 L198.4 533.29 L199.2 533.74 L200 533.04 L200.8 532.23 L201.6 534.51 L202.4 534.56 L203.2 535.89 L204 536.61 L204.8 538.31 L205.6 537.57 L206.4 539.87 L207.2 541.52 L208 543.73 L208.8 546 L209.6 547.84 L210.4 549.38 L211.2 550.22 L212 552.46 L212.8 553.83 L213.6 557.02 L214.4 558.93 L215.2 561.1 L216 563.72 L216.8 562.75 L217.6 565.26 L218.4 566.98 L219.2 569.1 L220 570.7 L220.8 572.35 L221.6 572.48 L222.4 573.79 L223.2 574.7 L224 575.39 L224.8 576.56 L225.6 576.93 L226.4 577.48 L227.2 577.84 L228 578.39 L228.8 578.74 L229.6 579 L230.4 579.22 L231.2 579.6 L232 579.81 L232.8 579.98 L233.6 580.13 L234.4 580.26 L235.2 580.36" fill="none" stroke="#4da6ff" stroke-width="1.3" stroke-linejoin="round"/>
<path d="M96 580.8H128.8" fill="none" stroke="#4da6ff" stroke-width="1.3" opacity="0.5"/>
<path d="M235.2 580.8H279.3" fill="none" stroke="#4da6ff" stroke-width="1.3" opacity="0.45"/>
<path d="M95 580.8L95.4 569.8L97 580.5" fill="none" stroke="#4da6ff" stroke-width="1.3" stroke-linejoin="round"/>
<path d="M129.6 608.02 L130.4 607.97 L131.2 607.92 L132 607.87 L132.8 607.81 L133.6 607.76 L134.4 607.7 L135.2 607.63 L136 607.57 L136.8 607.45 L137.6 607.39 L138.4 607.33 L139.2 607.3 L140 607.24 L140.8 607.14 L141.6 607.17 L142.4 606.96 L143.2 606.91 L144 606.74 L144.8 606.74 L145.6 606.58 L146.4 606.48 L147.2 606.27 L148 606.17 L148.8 605.99 L149.6 606.03 L150.4 605.99 L151.2 605.97 L152 606.1 L152.8 605.92 L153.6 605.51 L154.4 605.28 L155.2 605.47 L156 605.27 L156.8 604.99 L157.6 605.32 L158.4 605.02 L159.2 604.81 L160 604.52 L160.8 604.44 L161.6 604.92 L162.4 605.23 L163.2 604.11 L164 604.14 L164.8 603.52 L165.6 603.06 L166.4 603.1 L167.2 603.48 L168 602.57 L168.8 602.47 L169.6 602 L170.4 601.56 L171.2 600.84 L172 600.15 L172.8 600.88 L173.6 601.05 L174.4 599.91 L175.2 599.04 L176 597.74 L176.8 597.17 L177.6 596.46 L178.4 594.31 L179.2 593.02 L180 591.92 L180.8 590.83 L181.6 590.75 L182.4 589.69 L183.2 588.48 L184 587.79 L184.8 586.61 L185.6 584.67 L186.4 583.72 L187.2 581.45 L188 579.53 L188.8 578.17 L189.6 576.77 L190.4 574.73 L191.2 572.99 L192 571.42 L192.8 570.85 L193.6 570.16 L194.4 567.04 L195.2 566.39 L196 565.4 L196.8 565.31 L197.6 564.31 L198.4 563.46 L199.2 561.89 L200 562.95 L200.8 562.77 L201.6 562.13 L202.4 561.94 L203.2 562.04 L204 561.92 L204.8 562.54 L205.6 561.81 L206.4 560.87 L207.2 560.98 L208 561.45 L208.8 560.66 L209.6 560.68 L210.4 561.63 L211.2 562.14 L212 562.84 L212.8 563.39 L213.6 563.56 L214.4 565.48 L215.2 566.99 L216 568.51 L216.8 571.02 L217.6 572.93 L218.4 574.31 L219.2 575.75 L220 579.31 L220.8 580.73 L221.6 583.08 L222.4 584.37 L223.2 586.39 L224 587.56 L224.8 590.01 L225.6 592.54 L226.4 594.89 L227.2 597.2 L228 597.89 L228.8 598.84 L229.6 599.67 L230.4 600.89 L231.2 602.82 L232 603.63 L232.8 604.3 L233.6 604.81 L234.4 605.19 L235.2 605.51 L236 606.1 L236.8 606.87 L237.6 607.21 L238.4 607.57 L239.2 607.51 L240 607.7 L240.8 607.86 L241.6 607.99 L242.4 608.1" fill="none" stroke="#6a6aff" stroke-width="1.3" stroke-linejoin="round"/>
<path d="M96 608.5H129.6" fill="none" stroke="#6a6aff" stroke-width="1.3" opacity="0.5"/>
<path d="M242.4 608.5H279.3" fill="none" stroke="#6a6aff" stroke-width="1.3" opacity="0.45"/>
<path d="M95 608.5L95.4 602.5L97 608.2" fill="none" stroke="#6a6aff" stroke-width="1.3" stroke-linejoin="round"/>
<path d="M134.4 635.73 L135.2 635.69 L136 635.64 L136.8 635.59 L137.6 635.54 L138.4 635.48 L139.2 635.42 L140 635.36 L140.8 635.3 L141.6 635.24 L142.4 635.12 L143.2 634.81 L144 634.79 L144.8 634.7 L145.6 634.81 L146.4 634.66 L147.2 634.46 L148 634.54 L148.8 634.3 L149.6 634.44 L150.4 634.53 L151.2 634.41 L152 634.41 L152.8 634.16 L153.6 634.25 L154.4 634.07 L155.2 634.28 L156 634.02 L156.8 633.64 L157.6 633.61 L158.4 633.43 L159.2 633.11 L160 633.33 L160.8 633.45 L161.6 633.15 L162.4 632.86 L163.2 632.76 L164 632.82 L164.8 632.17 L165.6 632.39 L166.4 632.14 L167.2 631.82 L168 631.24 L168.8 631.18 L169.6 631.14 L170.4 629.75 L171.2 630 L172 629.15 L172.8 628.89 L173.6 628.68 L174.4 628.03 L175.2 627.48 L176 626.5 L176.8 627.28 L177.6 625.83 L178.4 624.56 L179.2 624.04 L180 622.96 L180.8 620.29 L181.6 618.59 L182.4 617.87 L183.2 617.18 L184 616.57 L184.8 614.68 L185.6 614.17 L186.4 613.53 L187.2 611.73 L188 611.13 L188.8 610.13 L189.6 607.69 L190.4 607.6 L191.2 606.1 L192 604.64 L192.8 603.25 L193.6 603.01 L194.4 601.69 L195.2 600.61 L196 598.27 L196.8 597.18 L197.6 597.29 L198.4 596.11 L199.2 595.33 L200 595.17 L200.8 594.99 L201.6 594.81 L202.4 595.4 L203.2 595.16 L204 594.14 L204.8 593.32 L205.6 592.59 L206.4 593.47 L207.2 593.25 L208 594.67 L208.8 593.8 L209.6 593.38 L210.4 591.45 L211.2 591.76 L212 591.97 L212.8 592.94 L213.6 593.62 L214.4 594.76 L215.2 597.27 L216 597.77 L216.8 599.65 L217.6 601.94 L218.4 603.19 L219.2 604.84 L220 606 L220.8 607.7 L221.6 608.31 L222.4 610.03 L223.2 612.79 L224 614.21 L224.8 615.72 L225.6 618.28 L226.4 620.2 L227.2 621.91 L228 624.44 L228.8 624.55 L229.6 625.62 L230.4 625.84 L231.2 627.46 L232 628.38 L232.8 628.92 L233.6 629.52 L234.4 630.46 L235.2 631.72 L236 631.6 L236.8 632.23 L237.6 632.68 L238.4 633.09 L239.2 633.54 L240 634.07 L240.8 634.45 L241.6 634.74 L242.4 635.16 L243.2 635.29 L244 635.44 L244.8 635.57 L245.6 635.68 L246.4 635.78" fill="none" stroke="#2e2ef5" stroke-width="1.3" stroke-linejoin="round"/>
<path d="M96 636.2H134.4" fill="none" stroke="#2e2ef5" stroke-width="1.3" opacity="0.5"/>
<path d="M246.4 636.2H279.3" fill="none" stroke="#2e2ef5" stroke-width="1.3" opacity="0.45"/>
<path d="M95 636.2L95.4 625.2L97 635.9" fill="none" stroke="#2e2ef5" stroke-width="1.3" stroke-linejoin="round"/>
<path d="M124.8 662.71 L125.6 662.67 L126.4 662.62 L127.2 662.57 L128 662.52 L128.8 662.46 L129.6 662.4 L130.4 662.35 L131.2 662.29 L132 662.22 L132.8 662.13 L133.6 662.1 L134.4 661.94 L135.2 661.86 L136 662.02 L136.8 661.92 L137.6 661.8 L138.4 661.65 L139.2 661.67 L140 661.38 L140.8 661.38 L141.6 661.19 L142.4 661.18 L143.2 661.2 L144 661.24 L144.8 661.37 L145.6 661.12 L146.4 660.97 L147.2 660.84 L148 660.95 L148.8 661.1 L149.6 661.06 L150.4 661.01 L151.2 660.92 L152 660.68 L152.8 660.87 L153.6 660.9 L154.4 660.69 L155.2 660.53 L156 660.19 L156.8 660.29 L157.6 660.58 L158.4 660.76 L159.2 660.79 L160 660.61 L160.8 660.43 L161.6 660.34 L162.4 660.36 L163.2 660.21 L164 660.03 L164.8 659.68 L165.6 659.51 L166.4 659.56 L167.2 659.6 L168 658.68 L168.8 658.52 L169.6 658.31 L170.4 657.98 L171.2 657.14 L172 657.07 L172.8 656.62 L173.6 656.35 L174.4 655.53 L175.2 655.71 L176 654.85 L176.8 653.61 L177.6 652.5 L178.4 651.91 L179.2 651.4 L180 650 L180.8 649.32 L181.6 648.12 L182.4 648.52 L183.2 648.21 L184 646.43 L184.8 645.57 L185.6 644.66 L186.4 643.92 L187.2 641.5 L188 641.16 L188.8 639.6 L189.6 639 L190.4 637.33 L191.2 634.37 L192 631.96 L192.8 631.72 L193.6 631.25 L194.4 628.84 L195.2 628.35 L196 628.04 L196.8 626.07 L197.6 625.32 L198.4 624.66 L199.2 622.38 L200 621.85 L200.8 621.46 L201.6 620.29 L202.4 619.7 L203.2 618.52 L204 618.48 L204.8 617.63 L205.6 617.55 L206.4 617.13 L207.2 617.33 L208 618.05 L208.8 618.2 L209.6 618.59 L210.4 619.73 L211.2 620.15 L212 619.27 L212.8 620.6 L213.6 620.55 L214.4 621.21 L215.2 621.46 L216 622.9 L216.8 623.81 L217.6 625.53 L218.4 627.69 L219.2 630.21 L220 633.55 L220.8 635.2 L221.6 638.06 L222.4 640.17 L223.2 642.03 L224 643.67 L224.8 645.73 L225.6 647.28 L226.4 650.64 L227.2 651.97 L228 652.83 L228.8 654.56 L229.6 656.81 L230.4 657.69 L231.2 658.88 L232 659.8 L232.8 660.15 L233.6 660.84 L234.4 661.49 L235.2 661.88 L236 661.96 L236.8 662.33 L237.6 662.53 L238.4 662.69 L239.2 662.82" fill="none" stroke="#2c2c99" stroke-width="1.3" stroke-linejoin="round"/>
<path d="M96 663.2H124.8" fill="none" stroke="#2c2c99" stroke-width="1.3" opacity="0.5"/>
<path d="M239.2 663.2H279.3" fill="none" stroke="#2c2c99" stroke-width="1.3" opacity="0.45"/>
<path d="M95 663.2L95.4 653.2L97 662.9" fill="none" stroke="#2c2c99" stroke-width="1.3" stroke-linejoin="round"/>
<path d="M94.9 689.5 L94.9 689.5 L95.7 689.5 L96.5 689.5 L97.3 689.5 L98.1 689.5 L98.9 689.5 L99.7 689.5 L100.5 689.5 L101.3 689.5 L102.1 689.5 L102.9 689.5 L103.7 689.5 L104.5 689.5 L105.3 689.5 L106.1 689.5 L106.9 689.5 L107.7 689.5 L108.5 689.5 L109.3 689.5 L110.1 689.5 L110.9 689.5 L111.7 689.5 L112.5 689.5 L113.3 689.5 L114.1 689.5 L114.9 689.5 L115.7 689.5 L116.5 689.5 L117.3 689.5 L118.1 689.5 L118.9 689.5 L119.7 689.5 L120.5 689.5 L121.3 689.5 L122.1 689.5 L122.9 689.5 L123.7 689.5 L124.5 689.5 L125.3 689.5 L126.1 689.5 L126.9 689.5 L127.7 689.5 L128.5 689.5 L129.3 689.5 L130.1 689.5 L130.9 689.5 L131.7 689.5 L132.5 689.5 L133.3 689.5 L134.1 689.5 L134.9 689.5 L135.7 689.5 L136.5 689.5 L137.3 689.5 L138.1 689.5 L138.9 689.5 L139.7 689.5 L140.5 689.5 L141.3 689.5 L142.1 689.5 L142.9 689.5 L143.7 689.5 L144.5 689.5 L145.3 689.5 L146.1 689.5 L146.9 689.5 L147.7 689.5 L148.5 689.5 L149.3 689.5 L150.1 689.5 L150.9 689.5 L151.7 689.5 L152.5 689.5 L153.3 689.5 L154.1 689.5 L154.9 689.5 L155.7 689.5 L156.5 689.5 L157.3 689.5 L158.1 689.5 L158.9 689.5 L159.7 689.5 L160.5 689.5 L161.3 689.5 L162.1 689.5 L162.9 689.5 L163.7 689.5 L164.5 689.5 L165.3 689.5 L166.1 689.5 L166.9 689.5 L167.7 689.5 L168.5 689.5 L169.3 689.5 L170.1 689.5 L170.9 689.5 L171.7 689.5 L172.5 689.5 L173.3 689.49 L174.1 689.49 L174.9 689.49 L175.7 689.48 L176.5 689.48 L177.3 689.47 L178.1 689.46 L178.9 689.45 L179.7 689.44 L180.5 689.42 L181.3 689.4 L182.1 689.37 L182.9 689.34 L183.7 689.31 L184.5 689.26 L185.3 689.21 L186.1 689.15 L186.9 689.09 L187.7 689.02 L188.5 688.93 L189.3 688.84 L190.1 688.75 L190.9 688.64 L191.7 688.53 L192.5 688.42 L193.3 688.04 L194.1 687.74 L194.9 687.71 L195.7 687.58 L196.5 687.94 L197.3 687.72 L198.1 686.96 L198.9 687.16 L199.7 686.78 L200.5 686.32 L201.3 686.44 L202.1 686.37 L202.9 686.3 L203.7 685.64 L204.5 685.39 L205.3 684.33 L206.1 683.53 L206.9 683.38 L207.7 681.22 L208.5 681.46 L209.3 681.47 L210.1 680.69 L210.9 680.24 L211.7 678.91 L212.5 677.18 L213.3 674.6 L214.1 674.53 L214.9 673.45 L215.7 671.41 L216.5 668.94 L217.3 665.96 L218.1 664.4 L218.9 660.57 L219.7 659.23 L220.5 657.26 L221.3 654.98 L222.1 651.85 L222.9 650.01 L223.7 648.45 L224.5 647.34 L225.3 645.47 L226.1 643.68 L226.9 642.91 L227.7 641.85 L228.5 642.63 L229.3 641.79 L230.1 639.86 L230.9 638.74 L231.7 640.03 L232.5 643.46 L233.3 643.06 L234.1 645.93 L234.9 646.65 L235.7 651.24 L236.5 654.18 L237.3 658.84 L238.1 661.27 L238.9 664.29 L239.7 669.29 L240.5 671.23 L241.3 672.05 L242.1 676.14 L242.9 680.09 L243.7 681.64 L244.5 683.59 L245.3 685.58 L246.1 686.61 L246.9 686.96 L247.7 687.86 L248.5 687.95 L249.3 688.32 L250.1 688.69 L250.9 688.93 L251.7 689.1 L252.5 689.22 L253.3 689.31 L254.1 689.37 L254.9 689.42 L255.7 689.45 L256.5 689.47 L257.3 689.48 L258.1 689.49 L258.9 689.49 L259.7 689.49 L260.5 689.5 L261.3 689.5 L262.1 689.5 L262.9 689.5 L263.7 689.5 L264.5 689.5 L265.3 689.5 L266.1 689.5 L266.9 689.5 L267.7 689.5 L268.5 689.5 L269.3 689.5 L270.1 689.5 L270.9 689.5 L271.7 689.5 L272.5 689.5 L273.3 689.5 L274.1 689.5 L274.9 689.5 L275.7 689.5 L276.5 689.5 L277.3 689.5 L278.1 689.5 L278.9 689.5 L279.7 689.5 L279.7 689.5 Z" fill="#000" stroke="none"/>
<path d="M94.4 691.2 V387.5 H279.8 V691.2" fill="none" stroke="#8a8a8a" stroke-width="1"/>
<line x1="94.4" y1="389.5" x2="94.4" y2="691.2" stroke="#666" stroke-width="1.1"/>
<line x1="93.9" y1="691.2" x2="280.3" y2="691.2" stroke="#333" stroke-width="1.1"/>
<path d="M108.35 691.2v2M116.51 691.2v2M122.31 691.2v2M126.8 691.2v2M130.47 691.2v2M133.57 691.2v2M136.26 691.2v2M138.63 691.2v2M154.7 691.2v2M162.86 691.2v2M168.66 691.2v2M173.15 691.2v2M176.82 691.2v2M179.92 691.2v2M182.61 691.2v2M184.98 691.2v2M201.05 691.2v2M209.21 691.2v2M215.01 691.2v2M219.5 691.2v2M223.17 691.2v2M226.27 691.2v2M228.96 691.2v2M231.33 691.2v2M247.4 691.2v2M255.56 691.2v2M261.36 691.2v2M265.85 691.2v2M269.52 691.2v2M272.62 691.2v2M275.31 691.2v2M277.68 691.2v2" stroke="#333" stroke-width="0.9" fill="none"/>
<path d="M94.4 691.2v4M140.75 691.2v4M187.1 691.2v4M233.45 691.2v4M279.8 691.2v4" stroke="#111" stroke-width="1.4" fill="none"/>
<text transform="translate(97.6 705.3) scale(0.85 1)" font-size="6" fill="#000" stroke="#000" stroke-width="0.15" style="text-rendering:geometricPrecision" text-anchor="start" font-family="Liberation Sans, sans-serif">10<tspan font-size="5" dy="-3.2">-1</tspan></text>
<text transform="translate(141.15 705.3) scale(0.85 1)" font-size="6" fill="#000" stroke="#000" stroke-width="0.15" style="text-rendering:geometricPrecision" text-anchor="start" font-family="Liberation Sans, sans-serif">10<tspan font-size="5" dy="-3.2">0</tspan></text>
<text transform="translate(187.5 705.3) scale(0.85 1)" font-size="6" fill="#000" stroke="#000" stroke-width="0.15" style="text-rendering:geometricPrecision" text-anchor="start" font-family="Liberation Sans, sans-serif">10<tspan font-size="5" dy="-3.2">1</tspan></text>
<text transform="translate(233.85 705.3) scale(0.85 1)" font-size="6" fill="#000" stroke="#000" stroke-width="0.15" style="text-rendering:geometricPrecision" text-anchor="start" font-family="Liberation Sans, sans-serif">10<tspan font-size="5" dy="-3.2">2</tspan></text>
<text transform="translate(279.8 705.3) scale(0.85 1)" font-size="6" fill="#000" stroke="#000" stroke-width="0.15" style="text-rendering:geometricPrecision" text-anchor="end" font-family="Liberation Sans, sans-serif">10<tspan font-size="5" dy="-3.2">3</tspan></text>
<line x1="296" y1="443.8" x2="481.9" y2="443.8" stroke="#e4e4e4" stroke-width="1.4"/>
<path d="M296 443.8 L296 443.8 L334.5 444.3 L345 442.3 L351.6 440.7 L355.5 438.4 L359.5 433.1 L363.4 426.5 L367.4 420 L371.3 414 L374.6 415.4 L377.2 408.1 L379.9 404.9 L383.1 405.5 L385.8 403.5 L387.7 402.2 L389.7 404.9 L391 413.4 L393 420.6 L396.3 424.6 L400.2 431.8 L403.5 439 L408.1 442.3 L416 443.9 L423.9 444.3 L429.9 443.6 L435.9 444 L441.9 443.5 L447.9 444.3 L447.9 443.8 Z" fill="#b3b3b3" stroke="none"/>
<path d="M334.2 470.11 L335 469.93 L335.8 469.85 L336.6 469.63 L337.4 469.61 L338.2 469.44 L339 469.1 L339.8 469.02 L340.6 469.04 L341.4 468.69 L342.2 468.49 L343 468.41 L343.8 468.52 L344.6 468.52 L345.4 468.38 L346.2 467.68 L347 467.39 L347.8 467.34 L348.6 466.78 L349.4 466.25 L350.2 466.33 L351 465.92 L351.8 466.08 L352.6 465.48 L353.4 464.52 L354.2 464.74 L355 464.2 L355.8 463.9 L356.6 463.29 L357.4 462.61 L358.2 461.86 L359 460.92 L359.8 460.17 L360.6 459.2 L361.4 458.28 L362.2 457.32 L363 456.93 L363.8 455.87 L364.6 455.05 L365.4 454.23 L366.2 452.28 L367 451.18 L367.8 450.06 L368.6 449.57 L369.4 448.02 L370.2 446.18 L371 444.84 L371.8 443.57 L372.6 441.52 L373.4 440.34 L374.2 439.04 L375 437.62 L375.8 436.27 L376.6 434.5 L377.4 433.14 L378.2 432.08 L379 431.12 L379.8 430.11 L380.6 428.53 L381.4 428.01 L382.2 427.13 L383 427.2 L383.8 426.46 L384.6 425.85 L385.4 425.32 L386.2 425.42 L387 425.49 L387.8 425.66 L388.6 425.54 L389.4 425.17 L390.2 425.62 L391 426.25 L391.8 426.17 L392.6 426.76 L393.4 427.46 L394.2 428.61 L395 430.4 L395.8 432.66 L396.6 434.81 L397.4 437.76 L398.2 440.12 L399 443.09 L399.8 445.53 L400.6 448.19 L401.4 450.92 L402.2 453.85 L403 456.03 L403.8 458.38 L404.6 460.3 L405.4 461.8 L406.2 463.16 L407 465.17 L407.8 466.09 L408.6 466.96 L409.4 467.87 L410.2 468.78 L411 469.51 L411.8 469.92 L412.6 470.45" fill="none" stroke="#ff9a9a" stroke-width="1.35" stroke-dasharray="2.6 1.8"/>
<line x1="297" y1="471.9" x2="334.2" y2="471.9" stroke="#ff9a9a" stroke-width="1.15" stroke-dasharray="8 5.5" opacity="0.5"/>
<line x1="415.6" y1="471.9" x2="481.4" y2="471.9" stroke="#ff9a9a" stroke-width="1.15" stroke-dasharray="8 5.5" opacity="0.5"/>
<line x1="296" y1="471.9" x2="296" y2="459.9" stroke="#ff9a9a" stroke-width="1.6" stroke-dasharray="2 1.2"/>
<path d="M356.6 497.76 L357.4 497.42 L358.2 497.12 L359 496.8 L359.8 496.51 L360.6 496.08 L361.4 495.61 L362.2 495.36 L363 494.73 L363.8 494.5 L364.6 493.52 L365.4 493.42 L366.2 492.83 L367 492.44 L367.8 491.52 L368.6 490.2 L369.4 489.77 L370.2 488.26 L371 487.11 L371.8 486.37 L372.6 485.8 L373.4 484.47 L374.2 484.48 L375 483.24 L375.8 481.39 L376.6 480.14 L377.4 477.99 L378.2 477.27 L379 476.46 L379.8 475.01 L380.6 473.29 L381.4 471.32 L382.2 470.77 L383 469.18 L383.8 467.29 L384.6 466.28 L385.4 465.03 L386.2 464.01 L387 462.18 L387.8 460.6 L388.6 459.28 L389.4 458.17 L390.2 456.84 L391 456.05 L391.8 454.93 L392.6 453.93 L393.4 452.9 L394.2 452.34 L395 451.96 L395.8 451.37 L396.6 451.69 L397.4 451.89 L398.2 450.82 L399 450.78 L399.8 451.18 L400.6 451.26 L401.4 451.14 L402.2 451.01 L403 451.21 L403.8 450.73 L404.6 451.38 L405.4 450.26 L406.2 451.45 L407 451.89 L407.8 453.37 L408.6 456.07 L409.4 458.6 L410.2 460.85 L411 463.38 L411.8 466.41 L412.6 469.32 L413.4 472.24 L414.2 475.59 L415 478.27 L415.8 480.13 L416.6 483.2 L417.4 485.95 L418.2 487.73 L419 489.2 L419.8 490.74 L420.6 492.72 L421.4 494.05 L422.2 495.08 L423 496.02 L423.8 496.7 L424.6 497.22 L425.4 497.73 L426.2 498.16" fill="none" stroke="#f22828" stroke-width="1.35" stroke-dasharray="2.6 1.8"/>
<line x1="297" y1="499.4" x2="356.6" y2="499.4" stroke="#f22828" stroke-width="1.15" stroke-dasharray="8 5.5" opacity="0.5"/>
<line x1="429.2" y1="499.4" x2="481.4" y2="499.4" stroke="#f22828" stroke-width="1.15" stroke-dasharray="8 5.5" opacity="0.5"/>
<line x1="296" y1="499.4" x2="296" y2="496.4" stroke="#f22828" stroke-width="1.6" stroke-dasharray="2 1.2"/>
<path d="M371.8 524.94 L372.6 524.61 L373.4 524.33 L374.2 524.09 L375 523.54 L375.8 523.09 L376.6 522.51 L377.4 522.12 L378.2 521.32 L379 520.93 L379.8 520.57 L380.6 519.71 L381.4 519.3 L382.2 517.71 L383 516.53 L383.8 516.21 L384.6 514.84 L385.4 513.27 L386.2 512.22 L387 510.73 L387.8 509.6 L388.6 508.1 L389.4 506.56 L390.2 504.78 L391 503.56 L391.8 502.18 L392.6 500.14 L393.4 498.54 L394.2 496.54 L395 495.04 L395.8 493.75 L396.6 491.61 L397.4 489.91 L398.2 488.15 L399 486.94 L399.8 485.71 L400.6 483.95 L401.4 483.55 L402.2 481.73 L403 480.82 L403.8 480.25 L404.6 479.68 L405.4 479.07 L406.2 479.16 L407 478.87 L407.8 479.26 L408.6 480.06 L409.4 480.17 L410.2 480.76 L411 481.48 L411.8 482.59 L412.6 483.9 L413.4 485.42 L414.2 487.78 L415 489.21 L415.8 490.43 L416.6 493.21 L417.4 495.96 L418.2 497.77 L419 499.63 L419.8 501.57 L420.6 503.34 L421.4 506.22 L422.2 508 L423 509.72 L423.8 511.11 L424.6 513.3 L425.4 514.8 L426.2 516.33 L427 517.61 L427.8 518.76 L428.6 519.79 L429.4 521.14 L430.2 521.72 L431 522.32 L431.8 522.98 L432.6 523.97 L433.4 524.25 L434.2 524.57 L435 524.89" fill="none" stroke="#cc3333" stroke-width="1.35" stroke-dasharray="2.6 1.8"/>
<line x1="297" y1="526.5" x2="371.8" y2="526.5" stroke="#cc3333" stroke-width="1.15" stroke-dasharray="8 5.5" opacity="0.5"/>
<line x1="438" y1="526.5" x2="481.4" y2="526.5" stroke="#cc3333" stroke-width="1.15" stroke-dasharray="8 5.5" opacity="0.5"/>
<path d="M389.4 552.34 L390.2 552.03 L391 551.7 L391.8 551.1 L392.6 550.62 L393.4 550.15 L394.2 549.67 L395 548.67 L395.8 547.92 L396.6 546.6 L397.4 545.69 L398.2 545.11 L399 544.4 L399.8 543.35 L400.6 541.99 L401.4 540.39 L402.2 538.93 L403 537.03 L403.8 536.32 L404.6 534.62 L405.4 533.4 L406.2 531.79 L407 529.94 L407.8 528.12 L408.6 526.43 L409.4 524.9 L410.2 522.35 L411 520.72 L411.8 518.67 L412.6 517.62 L413.4 516.87 L414.2 515.32 L415 513.48 L415.8 512.58 L416.6 511.44 L417.4 511.1 L418.2 509.91 L419 509.55 L419.8 509.17 L420.6 509.5 L421.4 509.14 L422.2 509.37 L423 509.69 L423.8 509.92 L424.6 509.8 L425.4 510.13 L426.2 510.82 L427 511.36 L427.8 512.25 L428.6 514.02 L429.4 515.65 L430.2 517.43 L431 520.62 L431.8 523.07 L432.6 526.09 L433.4 528.87 L434.2 531.29 L435 534.64 L435.8 536.48 L436.6 538.38 L437.4 540.41 L438.2 542.27 L439 543.58 L439.8 545.66 L440.6 546.91 L441.4 548.03 L442.2 549.27 L443 550.6 L443.8 551.27 L444.6 551.86 L445.4 552.43 L446.2 552.74" fill="none" stroke="#993333" stroke-width="1.35" stroke-dasharray="2.6 1.8"/>
<line x1="297" y1="554" x2="389.4" y2="554" stroke="#993333" stroke-width="1.15" stroke-dasharray="8 5.5" opacity="0.5"/>
<line x1="449.2" y1="554" x2="481.4" y2="554" stroke="#993333" stroke-width="1.15" stroke-dasharray="8 5.5" opacity="0.5"/>
<path d="M346.2 580.72 L347 580.67 L347.8 580.62 L348.6 580.56 L349.4 580.5 L350.2 580.43 L351 580.36 L351.8 580.29 L352.6 580.21 L353.4 580.04 L354.2 579.94 L355 579.75 L355.8 579.62 L356.6 579.93 L357.4 579.57 L358.2 579.52 L359 579.57 L359.8 579.35 L360.6 579.1 L361.4 579.28 L362.2 579.3 L363 578.94 L363.8 578.9 L364.6 578.44 L365.4 578.36 L366.2 578.41 L367 578.56 L367.8 578.15 L368.6 578.41 L369.4 578.41 L370.2 578.35 L371 577.42 L371.8 576.77 L372.6 576.88 L373.4 576.9 L374.2 576.44 L375 575.85 L375.8 576.14 L376.6 574.99 L377.4 575.16 L378.2 574.51 L379 575.59 L379.8 574.94 L380.6 574.71 L381.4 572.85 L382.2 572.78 L383 573.12 L383.8 571.05 L384.6 571.14 L385.4 570.41 L386.2 570.34 L387 568.7 L387.8 567.6 L388.6 566.78 L389.4 565.84 L390.2 564.85 L391 563.78 L391.8 562.97 L392.6 560.28 L393.4 558.31 L394.2 557.89 L395 556.81 L395.8 554.53 L396.6 551.43 L397.4 550.48 L398.2 549.29 L399 547.88 L399.8 546.11 L400.6 544.71 L401.4 542.54 L402.2 540.8 L403 539.53 L403.8 537.69 L404.6 537.29 L405.4 536.84 L406.2 534.11 L407 535.27 L407.8 535.46 L408.6 535.88 L409.4 534.38 L410.2 534.4 L411 533.18 L411.8 534.6 L412.6 534.55 L413.4 535.15 L414.2 536.48 L415 536.57 L415.8 538.32 L416.6 539.62 L417.4 541.85 L418.2 543.64 L419 545.99 L419.8 547.99 L420.6 550.23 L421.4 552.85 L422.2 554.62 L423 556.96 L423.8 559.67 L424.6 562.11 L425.4 563.41 L426.2 564.4 L427 567.27 L427.8 569 L428.6 570.05 L429.4 570.84 L430.2 571.98 L431 574.18 L431.8 575.06 L432.6 575.57 L433.4 576.46 L434.2 577.36 L435 578.29 L435.8 578.64 L436.6 579.06 L437.4 579.42 L438.2 579.57 L439 579.83 L439.8 580.24 L440.6 580.43 L441.4 580.58 L442.2 580.71" fill="none" stroke="#ff9f9f" stroke-width="1.3" stroke-linejoin="round"/>
<path d="M296.6 581.2H346.2" fill="none" stroke="#ff9f9f" stroke-width="1.3" opacity="0.5"/>
<path d="M442.2 581.2H481.9" fill="none" stroke="#ff9f9f" stroke-width="1.3" opacity="0.45"/>
<path d="M375 608.21 L375.8 608.1 L376.6 607.96 L377.4 607.8 L378.2 607.71 L379 607.58 L379.8 607.2 L380.6 606.84 L381.4 606.66 L382.2 606.21 L383 605.84 L383.8 605.27 L384.6 605.23 L385.4 604.77 L386.2 604.63 L387 604.27 L387.8 603.04 L388.6 603.52 L389.4 603.13 L390.2 601.96 L391 600.82 L391.8 600.79 L392.6 601.23 L393.4 601.02 L394.2 599.38 L395 597.74 L395.8 596.64 L396.6 596.65 L397.4 595 L398.2 594.53 L399 593.25 L399.8 592.43 L400.6 590.23 L401.4 589.56 L402.2 589.39 L403 587.36 L403.8 585.08 L404.6 582.89 L405.4 581.37 L406.2 579.32 L407 577.83 L407.8 575.57 L408.6 573.26 L409.4 571.05 L410.2 568.2 L411 568.07 L411.8 565.8 L412.6 563.99 L413.4 563.4 L414.2 561.89 L415 560.74 L415.8 560.44 L416.6 559.07 L417.4 557.53 L418.2 557.47 L419 557.46 L419.8 557.29 L420.6 557.91 L421.4 557.59 L422.2 558.49 L423 558.48 L423.8 558.67 L424.6 559.15 L425.4 561.29 L426.2 563.54 L427 565.54 L427.8 568.27 L428.6 571.02 L429.4 573.53 L430.2 577.26 L431 579.71 L431.8 582.69 L432.6 585.97 L433.4 589.55 L434.2 592.23 L435 594.33 L435.8 595.78 L436.6 599.08 L437.4 599.97 L438.2 601.34 L439 603.2 L439.8 603.76 L440.6 604.66 L441.4 605.45 L442.2 606.38 L443 607.02 L443.8 607.24 L444.6 607.47 L445.4 607.87 L446.2 608.08 L447 608.24" fill="none" stroke="#f52a2a" stroke-width="1.3" stroke-linejoin="round"/>
<path d="M296.6 608.7H375" fill="none" stroke="#f52a2a" stroke-width="1.3" opacity="0.5"/>
<path d="M447 608.7H481.9" fill="none" stroke="#f52a2a" stroke-width="1.3" opacity="0.45"/>
<path d="M374.2 635.41 L375 635.36 L375.8 635.3 L376.6 635.23 L377.4 635.16 L378.2 635.09 L379 635.01 L379.8 634.92 L380.6 634.85 L381.4 634.77 L382.2 634.67 L383 634.68 L383.8 634.31 L384.6 634.32 L385.4 634.32 L386.2 634.34 L387 634.2 L387.8 633.93 L388.6 633.44 L389.4 633.23 L390.2 633.27 L391 633.33 L391.8 633.27 L392.6 632.9 L393.4 632.32 L394.2 632.22 L395 631.41 L395.8 630.63 L396.6 630.57 L397.4 631.21 L398.2 630.11 L399 629.69 L399.8 628.79 L400.6 627.73 L401.4 627.88 L402.2 626.94 L403 625.88 L403.8 625.31 L404.6 623.56 L405.4 622.44 L406.2 621.31 L407 618.61 L407.8 617.36 L408.6 615 L409.4 613.89 L410.2 611.69 L411 610.62 L411.8 608.58 L412.6 605.97 L413.4 605.52 L414.2 602.77 L415 600.86 L415.8 598.19 L416.6 596.48 L417.4 595.01 L418.2 594.3 L419 590.92 L419.8 590.83 L420.6 590.26 L421.4 590.03 L422.2 589.64 L423 589.22 L423.8 590.06 L424.6 589.16 L425.4 589.48 L426.2 589.48 L427 591.63 L427.8 592.6 L428.6 593.86 L429.4 595.58 L430.2 597.76 L431 599.53 L431.8 601.64 L432.6 604.83 L433.4 608.38 L434.2 609.95 L435 612.58 L435.8 614.31 L436.6 616.42 L437.4 619.12 L438.2 622.25 L439 624.15 L439.8 626.11 L440.6 626.66 L441.4 629.18 L442.2 629.6 L443 631.31 L443.8 632.13 L444.6 633.04 L445.4 633.55 L446.2 633.96 L447 634.24 L447.8 634.64 L448.6 634.84 L449.4 635.1 L450.2 635.29 L451 635.44" fill="none" stroke="#dd3333" stroke-width="1.3" stroke-linejoin="round"/>
<path d="M296.6 635.9H374.2" fill="none" stroke="#dd3333" stroke-width="1.3" opacity="0.5"/>
<path d="M451 635.9H481.9" fill="none" stroke="#dd3333" stroke-width="1.3" opacity="0.45"/>
<path d="M362.2 663.41 L363 663.34 L363.8 663.27 L364.6 663.19 L365.4 663.11 L366.2 663.02 L367 662.92 L367.8 662.77 L368.6 662.67 L369.4 662.54 L370.2 662.5 L371 662.37 L371.8 662.18 L372.6 662.3 L373.4 662.2 L374.2 661.65 L375 661.55 L375.8 661.61 L376.6 661.82 L377.4 661.75 L378.2 661.38 L379 661.09 L379.8 660.92 L380.6 660.75 L381.4 660.87 L382.2 660.4 L383 660.73 L383.8 660.48 L384.6 660.48 L385.4 660.81 L386.2 660.27 L387 660.23 L387.8 659.86 L388.6 659.42 L389.4 659.4 L390.2 659.56 L391 659.39 L391.8 659.11 L392.6 658.2 L393.4 657.68 L394.2 656.78 L395 656.33 L395.8 656.52 L396.6 655.36 L397.4 654.27 L398.2 653.85 L399 652.75 L399.8 652.03 L400.6 651.56 L401.4 649.94 L402.2 647.8 L403 646.51 L403.8 646.08 L404.6 644.13 L405.4 641.05 L406.2 638.95 L407 636.31 L407.8 635.02 L408.6 633.16 L409.4 631.54 L410.2 629.59 L411 626.88 L411.8 624.75 L412.6 623.16 L413.4 621.09 L414.2 620.24 L415 618.66 L415.8 617.97 L416.6 617.2 L417.4 616.42 L418.2 615.66 L419 613.63 L419.8 612.66 L420.6 612.31 L421.4 613.24 L422.2 613.47 L423 615.25 L423.8 616.69 L424.6 617.97 L425.4 620.84 L426.2 622.55 L427 624.51 L427.8 628.47 L428.6 632.18 L429.4 634.28 L430.2 636.64 L431 639.03 L431.8 642.28 L432.6 644.18 L433.4 646.52 L434.2 649.25 L435 650.21 L435.8 652.29 L436.6 653.83 L437.4 654.61 L438.2 656.97 L439 658.44 L439.8 660.04 L440.6 660.66 L441.4 661.11 L442.2 661.25 L443 661.89 L443.8 662.39 L444.6 662.88 L445.4 663.08 L446.2 663.28 L447 663.43" fill="none" stroke="#aa3333" stroke-width="1.3" stroke-linejoin="round"/>
<path d="M296.6 663.9H362.2" fill="none" stroke="#aa3333" stroke-width="1.3" opacity="0.5"/>
<path d="M447 663.9H481.9" fill="none" stroke="#aa3333" stroke-width="1.3" opacity="0.45"/>
<path d="M295.5 690.5 L295.5 690.5 L296.3 690.5 L297.1 690.5 L297.9 690.5 L298.7 690.5 L299.5 690.5 L300.3 690.5 L301.1 690.5 L301.9 690.5 L302.7 690.5 L303.5 690.5 L304.3 690.5 L305.1 690.5 L305.9 690.5 L306.7 690.5 L307.5 690.5 L308.3 690.5 L309.1 690.5 L309.9 690.5 L310.7 690.5 L311.5 690.5 L312.3 690.5 L313.1 690.5 L313.9 690.5 L314.7 690.5 L315.5 690.5 L316.3 690.5 L317.1 690.5 L317.9 690.5 L318.7 690.5 L319.5 690.5 L320.3 690.5 L321.1 690.5 L321.9 690.5 L322.7 690.5 L323.5 690.5 L324.3 690.5 L325.1 690.5 L325.9 690.5 L326.7 690.5 L327.5 690.5 L328.3 690.5 L329.1 690.5 L329.9 690.5 L330.7 690.5 L331.5 690.5 L332.3 690.5 L333.1 690.5 L333.9 690.5 L334.7 690.5 L335.5 690.5 L336.3 690.5 L337.1 690.5 L337.9 690.5 L338.7 690.5 L339.5 690.5 L340.3 690.5 L341.1 690.5 L341.9 690.5 L342.7 690.5 L343.5 690.5 L344.3 690.5 L345.1 690.5 L345.9 690.5 L346.7 690.5 L347.5 690.5 L348.3 690.5 L349.1 690.5 L349.9 690.5 L350.7 690.5 L351.5 690.5 L352.3 690.5 L353.1 690.5 L353.9 690.5 L354.7 690.5 L355.5 690.5 L356.3 690.5 L357.1 690.5 L357.9 690.5 L358.7 690.5 L359.5 690.5 L360.3 690.5 L361.1 690.5 L361.9 690.5 L362.7 690.5 L363.5 690.5 L364.3 690.5 L365.1 690.5 L365.9 690.5 L366.7 690.5 L367.5 690.5 L368.3 690.5 L369.1 690.5 L369.9 690.5 L370.7 690.5 L371.5 690.5 L372.3 690.5 L373.1 690.49 L373.9 690.49 L374.7 690.49 L375.5 690.49 L376.3 690.48 L377.1 690.47 L377.9 690.47 L378.7 690.46 L379.5 690.44 L380.3 690.43 L381.1 690.41 L381.9 690.38 L382.7 690.35 L383.5 690.32 L384.3 690.27 L385.1 690.23 L385.9 690.17 L386.7 690.11 L387.5 690.03 L388.3 689.95 L389.1 689.87 L389.9 689.77 L390.7 689.67 L391.5 689.56 L392.3 689.46 L393.1 689.27 L393.9 689.17 L394.7 689.06 L395.5 688.53 L396.3 688.37 L397.1 688.34 L397.9 688.63 L398.7 688.28 L399.5 688.01 L400.3 688.65 L401.1 688.27 L401.9 687.8 L402.7 687.55 L403.5 687.28 L404.3 687.09 L405.1 686.17 L405.9 685.85 L406.7 685.74 L407.5 685.4 L408.3 683.38 L409.1 683.77 L409.9 683.42 L410.7 682.04 L411.5 680.85 L412.3 679.46 L413.1 677.07 L413.9 675.26 L414.7 674.12 L415.5 673.03 L416.3 671.67 L417.1 670.19 L417.9 667.34 L418.7 666.86 L419.5 665.44 L420.3 663.18 L421.1 661.41 L421.9 659.29 L422.7 655.45 L423.5 655.51 L424.3 652.16 L425.1 651.21 L425.9 648.98 L426.7 647.39 L427.5 646.31 L428.3 645.65 L429.1 643.5 L429.9 644.72 L430.7 644.48 L431.5 642.72 L432.3 640.44 L433.1 638.78 L433.9 640.43 L434.7 642.75 L435.5 644.74 L436.3 646.54 L437.1 648.59 L437.9 653.01 L438.7 655.79 L439.5 659.41 L440.3 661.9 L441.1 666.17 L441.9 669.71 L442.7 673.51 L443.5 677.14 L444.3 678.7 L445.1 679.99 L445.9 681.07 L446.7 683.15 L447.5 685.23 L448.3 686.83 L449.1 687.95 L449.9 688.56 L450.7 688.83 L451.5 689.22 L452.3 689.54 L453.1 689.81 L453.9 690.01 L454.7 690.15 L455.5 690.26 L456.3 690.34 L457.1 690.39 L457.9 690.43 L458.7 690.45 L459.5 690.47 L460.3 690.48 L461.1 690.49 L461.9 690.49 L462.7 690.5 L463.5 690.5 L464.3 690.5 L465.1 690.5 L465.9 690.5 L466.7 690.5 L467.5 690.5 L468.3 690.5 L469.1 690.5 L469.9 690.5 L470.7 690.5 L471.5 690.5 L472.3 690.5 L473.1 690.5 L473.9 690.5 L474.7 690.5 L475.5 690.5 L476.3 690.5 L477.1 690.5 L477.9 690.5 L478.7 690.5 L479.5 690.5 L480.3 690.5 L481.1 690.5 L481.9 690.5 L481.9 690.5 Z" fill="#000" stroke="none"/>
<path d="M295 691.3 V387.5 H482.4 V691.3" fill="none" stroke="#8a8a8a" stroke-width="1"/>
<line x1="295" y1="389.5" x2="295" y2="691.3" stroke="#666" stroke-width="1.1"/>
<line x1="294.5" y1="691.3" x2="482.9" y2="691.3" stroke="#333" stroke-width="1.1"/>
<path d="M309.1 691.3v2M317.35 691.3v2M323.21 691.3v2M327.75 691.3v2M331.46 691.3v2M334.59 691.3v2M337.31 691.3v2M339.71 691.3v2M355.95 691.3v2M364.2 691.3v2M370.06 691.3v2M374.6 691.3v2M378.31 691.3v2M381.44 691.3v2M384.16 691.3v2M386.56 691.3v2M402.8 691.3v2M411.05 691.3v2M416.91 691.3v2M421.45 691.3v2M425.16 691.3v2M428.29 691.3v2M431.01 691.3v2M433.41 691.3v2M449.65 691.3v2M457.9 691.3v2M463.76 691.3v2M468.3 691.3v2M472.01 691.3v2M475.14 691.3v2M477.86 691.3v2M480.26 691.3v2" stroke="#333" stroke-width="0.9" fill="none"/>
<path d="M295 691.3v4M341.85 691.3v4M388.7 691.3v4M435.55 691.3v4M482.4 691.3v4" stroke="#111" stroke-width="1.4" fill="none"/>
<text transform="translate(298.2 705.3) scale(0.85 1)" font-size="6" fill="#000" stroke="#000" stroke-width="0.15" style="text-rendering:geometricPrecision" text-anchor="start" font-family="Liberation Sans, sans-serif">10<tspan font-size="5" dy="-3.2">-1</tspan></text>
<text transform="translate(342.25 705.3) scale(0.85 1)" font-size="6" fill="#000" stroke="#000" stroke-width="0.15" style="text-rendering:geometricPrecision" text-anchor="start" font-family="Liberation Sans, sans-serif">10<tspan font-size="5" dy="-3.2">0</tspan></text>
<text transform="translate(389.1 705.3) scale(0.85 1)" font-size="6" fill="#000" stroke="#000" stroke-width="0.15" style="text-rendering:geometricPrecision" text-anchor="start" font-family="Liberation Sans, sans-serif">10<tspan font-size="5" dy="-3.2">1</tspan></text>
<text transform="translate(435.95 705.3) scale(0.85 1)" font-size="6" fill="#000" stroke="#000" stroke-width="0.15" style="text-rendering:geometricPrecision" text-anchor="start" font-family="Liberation Sans, sans-serif">10<tspan font-size="5" dy="-3.2">2</tspan></text>
<text transform="translate(482.4 705.3) scale(0.85 1)" font-size="6" fill="#000" stroke="#000" stroke-width="0.15" style="text-rendering:geometricPrecision" text-anchor="end" font-family="Liberation Sans, sans-serif">10<tspan font-size="5" dy="-3.2">3</tspan></text>
<line x1="496" y1="443.8" x2="681.9" y2="443.8" stroke="#e4e4e4" stroke-width="1.4"/>
<path d="M496 443.8 L496 443.8 L534.5 444.3 L545 442.3 L551.6 440.7 L555.5 438.4 L559.5 433.1 L563.4 426.5 L567.4 420 L571.3 414 L574.6 415.4 L577.2 408.1 L579.9 404.9 L583.1 405.5 L585.8 403.5 L587.7 402.2 L589.7 404.9 L591 413.4 L593 420.6 L596.3 424.6 L600.2 431.8 L603.5 439 L608.1 442.3 L616 443.9 L623.9 444.3 L629.9 443.6 L635.9 444 L641.9 443.5 L647.9 444.3 L647.9 443.8 Z" fill="#b3b3b3" stroke="none"/>
<path d="M531.8 470.03 L532.6 469.98 L533.4 469.69 L534.2 469.55 L535 469.32 L535.8 469.04 L536.6 469.09 L537.4 468.68 L538.2 468.67 L539 468.42 L539.8 468.07 L540.6 467.8 L541.4 467.99 L542.2 467.7 L543 467.26 L543.8 467.16 L544.6 467 L545.4 466.79 L546.2 466.21 L547 466.3 L547.8 466.36 L548.6 466.34 L549.4 466.09 L550.2 465.76 L551 465.28 L551.8 465.01 L552.6 465.23 L553.4 465.19 L554.2 464.23 L555 463.48 L555.8 463.58 L556.6 462.61 L557.4 463.01 L558.2 461.3 L559 460.67 L559.8 460.77 L560.6 459.7 L561.4 458.89 L562.2 458.14 L563 457.19 L563.8 456.07 L564.6 454.81 L565.4 453.75 L566.2 452.36 L567 450.46 L567.8 448.66 L568.6 447.52 L569.4 445.76 L570.2 443.23 L571 441.29 L571.8 439.04 L572.6 438.02 L573.4 436.55 L574.2 435.36 L575 433.91 L575.8 431.91 L576.6 430.46 L577.4 429.17 L578.2 427.91 L579 426.73 L579.8 425.51 L580.6 424.83 L581.4 425.28 L582.2 424.5 L583 424.76 L583.8 425.28 L584.6 425.56 L585.4 426.3 L586.2 427.61 L587 427.95 L587.8 429.63 L588.6 431.37 L589.4 432.81 L590.2 434.12 L591 436.23 L591.8 438.85 L592.6 440.82 L593.4 442.66 L594.2 444.9 L595 447 L595.8 449.47 L596.6 451.57 L597.4 454.13 L598.2 455.99 L599 457.89 L599.8 459.22 L600.6 460.06 L601.4 462.39 L602.2 463.87 L603 464.97 L603.8 465.67 L604.6 466.12 L605.4 467.18 L606.2 468 L607 468.36 L607.8 468.92 L608.6 469.4 L609.4 469.79 L610.2 470.26 L611 470.54" fill="none" stroke="#9cf59c" stroke-width="1.35" stroke-dasharray="2.6 1.8"/>
<line x1="497" y1="471.9" x2="531.8" y2="471.9" stroke="#9cf59c" stroke-width="1.15" stroke-dasharray="8 5.5" opacity="0.5"/>
<line x1="614" y1="471.9" x2="681.4" y2="471.9" stroke="#9cf59c" stroke-width="1.15" stroke-dasharray="8 5.5" opacity="0.5"/>
<line x1="496" y1="471.9" x2="496" y2="459.9" stroke="#9cf59c" stroke-width="1.6" stroke-dasharray="2 1.2"/>
<path d="M548.6 497.82 L549.4 497.61 L550.2 497.34 L551 497.08 L551.8 496.98 L552.6 496.73 L553.4 496.38 L554.2 495.79 L555 495.54 L555.8 494.88 L556.6 494.25 L557.4 493.67 L558.2 492.71 L559 492.44 L559.8 491.91 L560.6 490.97 L561.4 490.39 L562.2 489.5 L563 489.01 L563.8 487.77 L564.6 487.03 L565.4 486.95 L566.2 485.37 L567 484.44 L567.8 483.66 L568.6 482.47 L569.4 481.26 L570.2 479.5 L571 478.24 L571.8 477.07 L572.6 475.8 L573.4 474.78 L574.2 473.5 L575 472.09 L575.8 470.6 L576.6 469.46 L577.4 467.95 L578.2 465.99 L579 464.5 L579.8 463.23 L580.6 461.84 L581.4 460.71 L582.2 459.89 L583 458.19 L583.8 456.3 L584.6 455.42 L585.4 454.46 L586.2 452.94 L587 453.05 L587.8 452.2 L588.6 451.8 L589.4 451.35 L590.2 451.43 L591 450.81 L591.8 450.25 L592.6 450.63 L593.4 450.4 L594.2 450.57 L595 451.23 L595.8 451.52 L596.6 451.94 L597.4 453.32 L598.2 454.68 L599 456.41 L599.8 458.61 L600.6 460.59 L601.4 462.47 L602.2 465.16 L603 467.62 L603.8 470.45 L604.6 473.23 L605.4 475.39 L606.2 476.96 L607 478.93 L607.8 480.93 L608.6 482.47 L609.4 485.17 L610.2 486.24 L611 487.92 L611.8 489.17 L612.6 490.17 L613.4 491.94 L614.2 493.29 L615 494.02 L615.8 494.86 L616.6 495.67 L617.4 496.26 L618.2 496.85 L619 497.24 L619.8 497.64 L620.6 497.84" fill="none" stroke="#2fa52f" stroke-width="1.35" stroke-dasharray="2.6 1.8"/>
<line x1="497" y1="499.4" x2="548.6" y2="499.4" stroke="#2fa52f" stroke-width="1.15" stroke-dasharray="8 5.5" opacity="0.5"/>
<line x1="623.6" y1="499.4" x2="681.4" y2="499.4" stroke="#2fa52f" stroke-width="1.15" stroke-dasharray="8 5.5" opacity="0.5"/>
<line x1="496" y1="499.4" x2="496" y2="496.4" stroke="#2fa52f" stroke-width="1.6" stroke-dasharray="2 1.2"/>
<path d="M568.6 524.82 L569.4 524.53 L570.2 524.27 L571 523.88 L571.8 523.4 L572.6 522.99 L573.4 522.66 L574.2 521.93 L575 521.52 L575.8 520.74 L576.6 519.77 L577.4 518.68 L578.2 517.52 L579 516.65 L579.8 516 L580.6 515.24 L581.4 514.14 L582.2 512.83 L583 510.64 L583.8 509.6 L584.6 508.86 L585.4 506.94 L586.2 506.23 L587 504.2 L587.8 503.11 L588.6 501.67 L589.4 499.88 L590.2 498.04 L591 496.59 L591.8 494.33 L592.6 492.57 L593.4 490.34 L594.2 489.2 L595 488.15 L595.8 486.04 L596.6 484.56 L597.4 482.75 L598.2 482.39 L599 481.33 L599.8 479.87 L600.6 478.08 L601.4 477.92 L602.2 477.86 L603 477.19 L603.8 476.11 L604.6 475.47 L605.4 476.25 L606.2 476.69 L607 477.76 L607.8 478.52 L608.6 479.6 L609.4 480.44 L610.2 481.46 L611 482.45 L611.8 484.9 L612.6 486.82 L613.4 489.1 L614.2 491.43 L615 493.13 L615.8 495.53 L616.6 497.57 L617.4 500.14 L618.2 502.31 L619 504.56 L619.8 506.88 L620.6 509.19 L621.4 511.12 L622.2 512.76 L623 514.44 L623.8 515.96 L624.6 517.45 L625.4 518.21 L626.2 519.44 L627 520.45 L627.8 521.36 L628.6 521.85 L629.4 522.74 L630.2 523.15 L631 523.87 L631.8 524.17 L632.6 524.58 L633.4 524.99" fill="none" stroke="#2a7f2a" stroke-width="1.35" stroke-dasharray="2.6 1.8"/>
<line x1="497" y1="526.5" x2="568.6" y2="526.5" stroke="#2a7f2a" stroke-width="1.15" stroke-dasharray="8 5.5" opacity="0.5"/>
<line x1="636.4" y1="526.5" x2="681.4" y2="526.5" stroke="#2a7f2a" stroke-width="1.15" stroke-dasharray="8 5.5" opacity="0.5"/>
<path d="M579 552.45 L579.8 552.13 L580.6 551.79 L581.4 551.33 L582.2 550.72 L583 550.25 L583.8 549.59 L584.6 549.12 L585.4 548.41 L586.2 547.41 L587 546.01 L587.8 545.14 L588.6 544.26 L589.4 542.28 L590.2 539.93 L591 539.55 L591.8 537.96 L592.6 535.78 L593.4 533.52 L594.2 531.81 L595 529.45 L595.8 526.9 L596.6 524.98 L597.4 522.61 L598.2 520.57 L599 518.92 L599.8 517.05 L600.6 515.24 L601.4 512.87 L602.2 511.02 L603 509.8 L603.8 509.36 L604.6 508.46 L605.4 507.77 L606.2 507.88 L607 507.37 L607.8 507.06 L608.6 507.58 L609.4 508.06 L610.2 509.04 L611 509.67 L611.8 511.44 L612.6 513.53 L613.4 516.14 L614.2 519.33 L615 521.64 L615.8 524.78 L616.6 528.22 L617.4 530.44 L618.2 533.2 L619 535.69 L619.8 537.88 L620.6 540.25 L621.4 542.13 L622.2 543.58 L623 545.54 L623.8 547.15 L624.6 548.36 L625.4 549.27 L626.2 550.28 L627 551 L627.8 551.67 L628.6 552.13 L629.4 552.47" fill="none" stroke="#1c4f1c" stroke-width="1.35" stroke-dasharray="2.6 1.8"/>
<line x1="497" y1="553.8" x2="579" y2="553.8" stroke="#1c4f1c" stroke-width="1.15" stroke-dasharray="8 5.5" opacity="0.5"/>
<line x1="632.4" y1="553.8" x2="681.4" y2="553.8" stroke="#1c4f1c" stroke-width="1.15" stroke-dasharray="8 5.5" opacity="0.5"/>
<path d="M523.8 580.24 L524.6 580.19 L525.4 580.13 L526.2 580.06 L527 580 L527.8 579.92 L528.6 579.84 L529.4 579.76 L530.2 579.63 L531 579.57 L531.8 579.46 L532.6 579.25 L533.4 579.04 L534.2 579.06 L535 579.06 L535.8 578.82 L536.6 578.54 L537.4 578.39 L538.2 578.4 L539 578.07 L539.8 578.03 L540.6 577.91 L541.4 577.67 L542.2 577.71 L543 578.07 L543.8 577.62 L544.6 577.15 L545.4 576.86 L546.2 576.57 L547 576.43 L547.8 575.97 L548.6 575.89 L549.4 575.27 L550.2 575.3 L551 574.91 L551.8 575.08 L552.6 574.7 L553.4 574.27 L554.2 573.99 L555 572.95 L555.8 572.9 L556.6 572.09 L557.4 571.84 L558.2 571.07 L559 571.56 L559.8 571.24 L560.6 569.99 L561.4 570.03 L562.2 568.99 L563 567.95 L563.8 567.19 L564.6 566.19 L565.4 565.1 L566.2 564.45 L567 563.18 L567.8 562.45 L568.6 561.42 L569.4 560.87 L570.2 559.06 L571 558.31 L571.8 556.19 L572.6 554.21 L573.4 553.16 L574.2 551.17 L575 549.21 L575.8 547.79 L576.6 546.62 L577.4 544.82 L578.2 542.84 L579 540.82 L579.8 538.5 L580.6 538.94 L581.4 537.33 L582.2 535.92 L583 535.37 L583.8 534.15 L584.6 532.15 L585.4 532.01 L586.2 531.04 L587 530.63 L587.8 531.28 L588.6 532.79 L589.4 531.79 L590.2 531.35 L591 533.45 L591.8 534.19 L592.6 535.49 L593.4 536.35 L594.2 537.64 L595 538.52 L595.8 540.87 L596.6 541.58 L597.4 545.02 L598.2 546.71 L599 547.12 L599.8 549.93 L600.6 551.98 L601.4 554.66 L602.2 554.8 L603 557.17 L603.8 560.01 L604.6 563.26 L605.4 564.54 L606.2 565.63 L607 568.51 L607.8 569.75 L608.6 570.37 L609.4 572.92 L610.2 573.5 L611 574.86 L611.8 575.74 L612.6 575.77 L613.4 575.9 L614.2 576.32 L615 577.29 L615.8 577.71 L616.6 578.54 L617.4 579 L618.2 579.08 L619 579.36 L619.8 579.65 L620.6 579.73 L621.4 579.9 L622.2 580.05 L623 580.17 L623.8 580.27" fill="none" stroke="#66ee66" stroke-width="1.3" stroke-linejoin="round"/>
<path d="M496.6 580.7H523.8" fill="none" stroke="#66ee66" stroke-width="1.3" opacity="0.5"/>
<path d="M623.8 580.7H681.9" fill="none" stroke="#66ee66" stroke-width="1.3" opacity="0.45"/>
<path d="M495.6 580.7L496 576.7L497.6 580.4" fill="none" stroke="#66ee66" stroke-width="1.3" stroke-linejoin="round"/>
<path d="M566.2 608.21 L567 608.09 L567.8 607.93 L568.6 607.75 L569.4 607.57 L570.2 607.31 L571 606.85 L571.8 606.19 L572.6 606.19 L573.4 605.95 L574.2 604.96 L575 603.84 L575.8 603.1 L576.6 602.23 L577.4 601.05 L578.2 599.8 L579 599.69 L579.8 597.76 L580.6 595.83 L581.4 594.81 L582.2 593.71 L583 591.97 L583.8 590.14 L584.6 587.51 L585.4 584.93 L586.2 582.95 L587 581.04 L587.8 579.86 L588.6 577.41 L589.4 575.44 L590.2 573.17 L591 570.51 L591.8 568.36 L592.6 564.46 L593.4 564.3 L594.2 563.48 L595 562.97 L595.8 561.85 L596.6 561.05 L597.4 559.77 L598.2 560.87 L599 559.72 L599.8 559.16 L600.6 559.45 L601.4 559.6 L602.2 559.06 L603 558.74 L603.8 559.35 L604.6 560.22 L605.4 561.28 L606.2 563.33 L607 564.56 L607.8 566.07 L608.6 568.28 L609.4 571.34 L610.2 573.5 L611 575.92 L611.8 578.17 L612.6 580.99 L613.4 582.89 L614.2 584.83 L615 587.04 L615.8 589.53 L616.6 591.16 L617.4 593.59 L618.2 595.7 L619 598.26 L619.8 599.37 L620.6 599.77 L621.4 601.7 L622.2 602.23 L623 603.76 L623.8 604.24 L624.6 604.36 L625.4 605.2 L626.2 606.08 L627 606.4 L627.8 606.79 L628.6 607 L629.4 607.37 L630.2 607.73 L631 607.78 L631.8 607.94 L632.6 608.07 L633.4 608.19 L634.2 608.28" fill="none" stroke="#3cb43c" stroke-width="1.3" stroke-linejoin="round"/>
<path d="M496.6 608.7H566.2" fill="none" stroke="#3cb43c" stroke-width="1.3" opacity="0.5"/>
<path d="M634.2 608.7H681.9" fill="none" stroke="#3cb43c" stroke-width="1.3" opacity="0.45"/>
<path d="M495.6 608.7L496 606.7L497.6 608.4" fill="none" stroke="#3cb43c" stroke-width="1.3" stroke-linejoin="round"/>
<path d="M567 634.85 L567.8 634.74 L568.6 634.6 L569.4 634.43 L570.2 634.19 L571 633.85 L571.8 633.49 L572.6 633.26 L573.4 633.17 L574.2 632.53 L575 631.8 L575.8 631.3 L576.6 630.7 L577.4 629.08 L578.2 629.1 L579 628.24 L579.8 627.21 L580.6 626.58 L581.4 624.99 L582.2 623.47 L583 620.62 L583.8 619.98 L584.6 618.47 L585.4 615.79 L586.2 614.38 L587 612.97 L587.8 610.35 L588.6 608.32 L589.4 606.06 L590.2 603.43 L591 600.72 L591.8 599.05 L592.6 597.12 L593.4 594.79 L594.2 593.4 L595 591.62 L595.8 591 L596.6 589.77 L597.4 588.47 L598.2 589.3 L599 587.28 L599.8 588.17 L600.6 588.64 L601.4 588.82 L602.2 588.54 L603 589.39 L603.8 589.1 L604.6 589.32 L605.4 588.27 L606.2 589.55 L607 588.84 L607.8 589.17 L608.6 589.93 L609.4 590.35 L610.2 591.37 L611 592.5 L611.8 593.79 L612.6 594.8 L613.4 597.22 L614.2 598.32 L615 602.46 L615.8 603.16 L616.6 604.96 L617.4 606.74 L618.2 609.53 L619 611.99 L619.8 615 L620.6 616.18 L621.4 619.09 L622.2 621.29 L623 622.72 L623.8 624.02 L624.6 625.25 L625.4 627.36 L626.2 628.42 L627 629.01 L627.8 629.5 L628.6 630.33 L629.4 631.19 L630.2 632.06 L631 632.75 L631.8 633.26 L632.6 633.61 L633.4 633.85 L634.2 634.18 L635 634.38 L635.8 634.56 L636.6 634.72 L637.4 634.84" fill="none" stroke="#2e8e2e" stroke-width="1.3" stroke-linejoin="round"/>
<path d="M496.6 635.3H567" fill="none" stroke="#2e8e2e" stroke-width="1.3" opacity="0.5"/>
<path d="M637.4 635.3H681.9" fill="none" stroke="#2e8e2e" stroke-width="1.3" opacity="0.45"/>
<path d="M495.6 635.3L496 633.3L497.6 635" fill="none" stroke="#2e8e2e" stroke-width="1.3" stroke-linejoin="round"/>
<path d="M541.4 662.61 L542.2 662.56 L543 662.51 L543.8 662.45 L544.6 662.38 L545.4 662.32 L546.2 662.25 L547 662.17 L547.8 662.14 L548.6 662.3 L549.4 662.17 L550.2 661.96 L551 661.8 L551.8 661.75 L552.6 661.66 L553.4 661.46 L554.2 660.9 L555 661.11 L555.8 661.09 L556.6 661.09 L557.4 660.89 L558.2 660.81 L559 660.63 L559.8 660.27 L560.6 660.36 L561.4 660.38 L562.2 660.2 L563 659.67 L563.8 659.84 L564.6 659.4 L565.4 659.2 L566.2 660.01 L567 659.93 L567.8 659.83 L568.6 659.26 L569.4 658.51 L570.2 658.34 L571 658.06 L571.8 656.98 L572.6 656.82 L573.4 655.73 L574.2 656.21 L575 654.95 L575.8 655.03 L576.6 655.8 L577.4 654.96 L578.2 653.78 L579 652.4 L579.8 650.59 L580.6 649.01 L581.4 647.56 L582.2 646.8 L583 644.14 L583.8 642.16 L584.6 640.9 L585.4 639.7 L586.2 637.8 L587 635.95 L587.8 634.24 L588.6 632.01 L589.4 630.22 L590.2 627.62 L591 626.08 L591.8 623.8 L592.6 621.92 L593.4 620.33 L594.2 618.68 L595 618.24 L595.8 615.53 L596.6 615.68 L597.4 614.76 L598.2 614.65 L599 614.91 L599.8 613.86 L600.6 613.69 L601.4 614.4 L602.2 614.29 L603 614.16 L603.8 613.59 L604.6 613.58 L605.4 614.29 L606.2 615.02 L607 616.31 L607.8 616.73 L608.6 617.23 L609.4 618.96 L610.2 620.08 L611 621.88 L611.8 624.12 L612.6 626.8 L613.4 627.9 L614.2 628.64 L615 631.26 L615.8 634.69 L616.6 637.49 L617.4 639.27 L618.2 640.94 L619 642.23 L619.8 646.03 L620.6 646.44 L621.4 648.39 L622.2 650.17 L623 651.6 L623.8 653.39 L624.6 654.81 L625.4 655.3 L626.2 657.35 L627 658.03 L627.8 658.49 L628.6 659.7 L629.4 660.11 L630.2 660.2 L631 660.7 L631.8 661.08 L632.6 661.42 L633.4 661.77 L634.2 662.03 L635 662.29 L635.8 662.45 L636.6 662.58 L637.4 662.69" fill="none" stroke="#2d5a2d" stroke-width="1.3" stroke-linejoin="round"/>
<path d="M496.6 663.1H541.4" fill="none" stroke="#2d5a2d" stroke-width="1.3" opacity="0.5"/>
<path d="M637.4 663.1H681.9" fill="none" stroke="#2d5a2d" stroke-width="1.3" opacity="0.45"/>
<path d="M495.6 663.1L496 661.1L497.6 662.8" fill="none" stroke="#2d5a2d" stroke-width="1.3" stroke-linejoin="round"/>
<path d="M495.5 690.5 L495.5 690.5 L496.3 690.5 L497.1 690.5 L497.9 690.5 L498.7 690.5 L499.5 690.5 L500.3 690.5 L501.1 690.5 L501.9 690.5 L502.7 690.5 L503.5 690.5 L504.3 690.5 L505.1 690.5 L505.9 690.5 L506.7 690.5 L507.5 690.5 L508.3 690.5 L509.1 690.5 L509.9 690.5 L510.7 690.5 L511.5 690.5 L512.3 690.5 L513.1 690.5 L513.9 690.5 L514.7 690.5 L515.5 690.5 L516.3 690.5 L517.1 690.5 L517.9 690.5 L518.7 690.5 L519.5 690.5 L520.3 690.5 L521.1 690.5 L521.9 690.5 L522.7 690.5 L523.5 690.5 L524.3 690.5 L525.1 690.5 L525.9 690.5 L526.7 690.5 L527.5 690.5 L528.3 690.5 L529.1 690.5 L529.9 690.5 L530.7 690.5 L531.5 690.5 L532.3 690.5 L533.1 690.5 L533.9 690.5 L534.7 690.5 L535.5 690.5 L536.3 690.5 L537.1 690.5 L537.9 690.5 L538.7 690.5 L539.5 690.5 L540.3 690.5 L541.1 690.5 L541.9 690.5 L542.7 690.5 L543.5 690.5 L544.3 690.5 L545.1 690.5 L545.9 690.5 L546.7 690.5 L547.5 690.5 L548.3 690.5 L549.1 690.5 L549.9 690.5 L550.7 690.5 L551.5 690.5 L552.3 690.5 L553.1 690.5 L553.9 690.5 L554.7 690.5 L555.5 690.5 L556.3 690.5 L557.1 690.5 L557.9 690.5 L558.7 690.5 L559.5 690.5 L560.3 690.5 L561.1 690.5 L561.9 690.5 L562.7 690.5 L563.5 690.5 L564.3 690.5 L565.1 690.5 L565.9 690.5 L566.7 690.5 L567.5 690.5 L568.3 690.5 L569.1 690.5 L569.9 690.5 L570.7 690.5 L571.5 690.5 L572.3 690.5 L573.1 690.49 L573.9 690.49 L574.7 690.49 L575.5 690.49 L576.3 690.48 L577.1 690.47 L577.9 690.47 L578.7 690.46 L579.5 690.44 L580.3 690.43 L581.1 690.41 L581.9 690.38 L582.7 690.35 L583.5 690.32 L584.3 690.27 L585.1 690.23 L585.9 690.17 L586.7 690.11 L587.5 690.03 L588.3 689.95 L589.1 689.87 L589.9 689.77 L590.7 689.67 L591.5 689.56 L592.3 689.5 L593.1 689.4 L593.9 689.44 L594.7 689.03 L595.5 688.89 L596.3 688.59 L597.1 688.76 L597.9 688.38 L598.7 688.56 L599.5 688.25 L600.3 688.05 L601.1 688.05 L601.9 687.69 L602.7 687.49 L603.5 687.58 L604.3 687.49 L605.1 687.53 L605.9 686.2 L606.7 685.73 L607.5 685.47 L608.3 684.35 L609.1 684.37 L609.9 684.29 L610.7 682.51 L611.5 679.86 L612.3 678.9 L613.1 677.84 L613.9 675.11 L614.7 675.76 L615.5 671.2 L616.3 671.56 L617.1 669.98 L617.9 669.29 L618.7 667.9 L619.5 665.28 L620.3 660.47 L621.1 659.88 L621.9 658.33 L622.7 655.76 L623.5 654.59 L624.3 652.4 L625.1 649.43 L625.9 649.68 L626.7 647.53 L627.5 645.74 L628.3 644.47 L629.1 643.02 L629.9 643.44 L630.7 642.25 L631.5 641.6 L632.3 641.71 L633.1 639.97 L633.9 639.07 L634.7 640.56 L635.5 644.03 L636.3 645.27 L637.1 648.3 L637.9 652.73 L638.7 655.54 L639.5 659.75 L640.3 662.62 L641.1 665.36 L641.9 668.08 L642.7 672.79 L643.5 675.66 L644.3 678.12 L645.1 681.38 L645.9 682.45 L646.7 683.48 L647.5 685.91 L648.3 686.95 L649.1 687.98 L649.9 688.71 L650.7 689.17 L651.5 689.17 L652.3 689.54 L653.1 689.81 L653.9 690.01 L654.7 690.15 L655.5 690.26 L656.3 690.34 L657.1 690.39 L657.9 690.43 L658.7 690.45 L659.5 690.47 L660.3 690.48 L661.1 690.49 L661.9 690.49 L662.7 690.5 L663.5 690.5 L664.3 690.5 L665.1 690.5 L665.9 690.5 L666.7 690.5 L667.5 690.5 L668.3 690.5 L669.1 690.5 L669.9 690.5 L670.7 690.5 L671.5 690.5 L672.3 690.5 L673.1 690.5 L673.9 690.5 L674.7 690.5 L675.5 690.5 L676.3 690.5 L677.1 690.5 L677.9 690.5 L678.7 690.5 L679.5 690.5 L680.3 690.5 L681.1 690.5 L681.9 690.5 L681.9 690.5 Z" fill="#000" stroke="none"/>
<path d="M495 690.8 V387.5 H682.4 V690.8" fill="none" stroke="#8a8a8a" stroke-width="1"/>
<line x1="495" y1="389.5" x2="495" y2="690.8" stroke="#666" stroke-width="1.1"/>
<line x1="494.5" y1="690.8" x2="682.9" y2="690.8" stroke="#777" stroke-width="1.1"/>
<path d="M509.1 690.8v2M517.35 690.8v2M523.21 690.8v2M527.75 690.8v2M531.46 690.8v2M534.59 690.8v2M537.31 690.8v2M539.71 690.8v2M555.95 690.8v2M564.2 690.8v2M570.06 690.8v2M574.6 690.8v2M578.31 690.8v2M581.44 690.8v2M584.16 690.8v2M586.56 690.8v2M602.8 690.8v2M611.05 690.8v2M616.91 690.8v2M621.45 690.8v2M625.16 690.8v2M628.29 690.8v2M631.01 690.8v2M633.41 690.8v2M649.65 690.8v2M657.9 690.8v2M663.76 690.8v2M668.3 690.8v2M672.01 690.8v2M675.14 690.8v2M677.86 690.8v2M680.26 690.8v2" stroke="#333" stroke-width="0.9" fill="none"/>
<path d="M495 690.8v4M541.85 690.8v4M588.7 690.8v4M635.55 690.8v4M682.4 690.8v4" stroke="#111" stroke-width="1.4" fill="none"/>
<text transform="translate(498.2 705.3) scale(0.85 1)" font-size="6" fill="#000" stroke="#000" stroke-width="0.15" style="text-rendering:geometricPrecision" text-anchor="start" font-family="Liberation Sans, sans-serif">10<tspan font-size="5" dy="-3.2">-1</tspan></text>
<text transform="translate(542.25 705.3) scale(0.85 1)" font-size="6" fill="#000" stroke="#000" stroke-width="0.15" style="text-rendering:geometricPrecision" text-anchor="start" font-family="Liberation Sans, sans-serif">10<tspan font-size="5" dy="-3.2">0</tspan></text>
<text transform="translate(589.1 705.3) scale(0.85 1)" font-size="6" fill="#000" stroke="#000" stroke-width="0.15" style="text-rendering:geometricPrecision" text-anchor="start" font-family="Liberation Sans, sans-serif">10<tspan font-size="5" dy="-3.2">1</tspan></text>
<text transform="translate(635.95 705.3) scale(0.85 1)" font-size="6" fill="#000" stroke="#000" stroke-width="0.15" style="text-rendering:geometricPrecision" text-anchor="start" font-family="Liberation Sans, sans-serif">10<tspan font-size="5" dy="-3.2">2</tspan></text>
<text transform="translate(682.4 705.3) scale(0.85 1)" font-size="6" fill="#000" stroke="#000" stroke-width="0.15" style="text-rendering:geometricPrecision" text-anchor="end" font-family="Liberation Sans, sans-serif">10<tspan font-size="5" dy="-3.2">3</tspan></text>
<text x="184.2" y="380" font-size="14" text-anchor="middle" fill="#111" font-family="Liberation Sans, sans-serif">LipoMM</text>
<text x="388" y="380" font-size="14" text-anchor="middle" fill="#111" font-family="Liberation Sans, sans-serif">ViroR</text>
<text x="593.8" y="380" font-size="14" text-anchor="middle" fill="#111" font-family="Liberation Sans, sans-serif">ScrF</text>
<text x="91.8" y="447.7" font-size="11.8" text-anchor="end" fill="#111" font-family="Liberation Sans, sans-serif">Untransfected</text>
<text x="91.8" y="473.6" font-size="11.8" text-anchor="end" fill="#111" font-family="Liberation Sans, sans-serif">62.5 ng</text>
<text x="91.8" y="499.3" font-size="11.8" text-anchor="end" fill="#111" font-family="Liberation Sans, sans-serif">125 ng</text>
<text x="91.8" y="525.5" font-size="11.8" text-anchor="end" fill="#111" font-family="Liberation Sans, sans-serif">250 ng</text>
<text x="91.8" y="551.4" font-size="11.8" text-anchor="end" fill="#111" font-family="Liberation Sans, sans-serif">500 ng</text>
<text x="91.8" y="584.9" font-size="11.8" text-anchor="end" fill="#111" font-family="Liberation Sans, sans-serif">62.5 ng</text>
<text x="91.8" y="611.2" font-size="11.8" text-anchor="end" fill="#111" font-family="Liberation Sans, sans-serif">125 ng</text>
<text x="91.8" y="637.6" font-size="11.8" text-anchor="end" fill="#111" font-family="Liberation Sans, sans-serif">250 ng</text>
<text x="91.8" y="663" font-size="11.8" text-anchor="end" fill="#111" font-family="Liberation Sans, sans-serif">500 ng</text>
<text x="91.8" y="688.7" font-size="11.8" text-anchor="end" fill="#111" font-family="Liberation Sans, sans-serif">Activated</text>
<text transform="translate(38.2 503.9) rotate(-90)" font-size="11.9" text-anchor="middle" fill="#111" font-family="Liberation Sans, sans-serif">Modified mRNA</text>
<text transform="translate(38.4 629.3) rotate(-90)" font-size="11.9" text-anchor="middle" fill="#111" font-family="Liberation Sans, sans-serif">Non-modified mRNA</text>
<text transform="translate(10.2 563.9) rotate(-90)" font-size="13.8" font-weight="bold" text-anchor="middle" fill="#000" font-family="Liberation Sans, sans-serif">Macrophages</text>
<line x1="95.1" y1="711.5" x2="154.1" y2="711.5" stroke="#222" stroke-width="1"/>
<path d="M153.4 708.7 L159.9 711.5 L153.4 714.3 Z" fill="#111"/>
<text x="99" y="729.3" font-size="13.9" fill="#111" font-family="Liberation Sans, sans-serif">CD80</text>
<text x="3.4" y="10.5" font-size="15.8" font-weight="bold" fill="#000" font-family="Liberation Sans, sans-serif">a</text>
<text x="1.2" y="380.1" font-size="15.8" font-weight="bold" fill="#000" font-family="Liberation Sans, sans-serif">b</text>
<text x="4.9" y="738.6" font-size="18" font-weight="bold" fill="#000" font-family="Liberation Sans, sans-serif">c</text>
<text x="209.9" y="738" font-size="18" font-weight="bold" fill="#000" font-family="Liberation Sans, sans-serif">d</text>
<text x="5.2" y="928.6" font-size="18" font-weight="bold" fill="#000" font-family="Liberation Sans, sans-serif">e</text>
<text x="209.8" y="928.1" font-size="18" font-weight="bold" fill="#000" font-family="Liberation Sans, sans-serif">f</text>
<path d="M57.4 785.8 V864.7 H175.8" fill="none" stroke="#7a7a7a" stroke-width="1.3"/>
<path d="M57.4 864.7h-2.4M57.4 851.63h-2.4M57.4 838.57h-2.4M57.4 825.5h-2.4M57.4 812.43h-2.4M57.4 799.37h-2.4M57.4 786.3h-2.4M72.4 864.7v2.4M94.5 864.7v2.4M116.6 864.7v2.4M138.7 864.7v2.4M160.9 864.7v2.4" stroke="#444" stroke-width="1"/>
<text x="55.4" y="867.4" font-size="7.6" text-anchor="end" fill="#333" stroke="#333" stroke-width="0.2" font-family="Liberation Sans, sans-serif">0</text>
<text x="55.4" y="854.33" font-size="7.6" text-anchor="end" fill="#333" stroke="#333" stroke-width="0.2" font-family="Liberation Sans, sans-serif">2</text>
<text x="55.4" y="841.27" font-size="7.6" text-anchor="end" fill="#333" stroke="#333" stroke-width="0.2" font-family="Liberation Sans, sans-serif">4</text>
<text x="55.4" y="828.2" font-size="7.6" text-anchor="end" fill="#333" stroke="#333" stroke-width="0.2" font-family="Liberation Sans, sans-serif">6</text>
<text x="55.4" y="815.13" font-size="7.6" text-anchor="end" fill="#333" stroke="#333" stroke-width="0.2" font-family="Liberation Sans, sans-serif">8</text>
<text x="55.4" y="802.07" font-size="7.6" text-anchor="end" fill="#333" stroke="#333" stroke-width="0.2" font-family="Liberation Sans, sans-serif">10</text>
<text x="55.4" y="789" font-size="7.6" text-anchor="end" fill="#333" stroke="#333" stroke-width="0.2" font-family="Liberation Sans, sans-serif">12</text>
<text transform="translate(75.6 872.3) rotate(-45)" font-size="7.3" text-anchor="end" fill="#222" font-family="Liberation Sans, sans-serif">0</text>
<text transform="translate(97.7 872.3) rotate(-45)" font-size="7.3" text-anchor="end" fill="#222" font-family="Liberation Sans, sans-serif">62.5</text>
<text transform="translate(119.8 872.3) rotate(-45)" font-size="7.3" text-anchor="end" fill="#222" font-family="Liberation Sans, sans-serif">125</text>
<text transform="translate(141.9 872.3) rotate(-45)" font-size="7.3" text-anchor="end" fill="#222" font-family="Liberation Sans, sans-serif">250</text>
<text transform="translate(164.1 872.3) rotate(-45)" font-size="7.3" text-anchor="end" fill="#222" font-family="Liberation Sans, sans-serif">500</text>
<text transform="translate(33.8 824.3) rotate(-90)" font-size="8.7" font-weight="bold" text-anchor="middle" fill="#111" font-family="Liberation Sans, sans-serif">MFI CD80</text>
<text transform="translate(44 824.5) rotate(-90)" font-size="8.4" font-weight="bold" text-anchor="middle" fill="#111" font-family="Liberation Sans, sans-serif">Relative Expression</text>
<text x="116.7" y="894.8" font-size="8.4" font-weight="bold" text-anchor="middle" fill="#111" font-family="Liberation Sans, sans-serif">mRNA concentration (ng/well)</text>
<path d="M116.6 833.86 V824.85 M114.6 824.85 h4" stroke="#1a1aff" stroke-width="0.7" opacity="0.8"/>
<path d="M138.7 830.27 V821.58 M136.7 821.58 h4" stroke="#1a1aff" stroke-width="0.7" opacity="0.8"/>
<polyline points="72.4,858.17 94.5,844.77 116.6,833.86 138.7,830.27 160.9,833.34" fill="none" stroke="#1a1aff" stroke-width="1.15" />
<circle cx="72.4" cy="858.17" r="1.45" fill="#1a1aff" stroke="#1a1aff" stroke-width="0.9"/>
<circle cx="94.5" cy="844.77" r="1.45" fill="#1a1aff" stroke="#1a1aff" stroke-width="0.9"/>
<circle cx="116.6" cy="833.86" r="1.45" fill="#1a1aff" stroke="#1a1aff" stroke-width="0.9"/>
<circle cx="138.7" cy="830.27" r="1.45" fill="#1a1aff" stroke="#1a1aff" stroke-width="0.9"/>
<circle cx="160.9" cy="833.34" r="1.45" fill="#1a1aff" stroke="#1a1aff" stroke-width="0.9"/>
<path d="M94.5 827.79 V818.31 M92.5 818.31 h4" stroke="#b22222" stroke-width="0.7" opacity="0.8"/>
<path d="M116.6 818.12 V809.17 M114.6 809.17 h4" stroke="#b22222" stroke-width="0.7" opacity="0.8"/>
<path d="M138.7 817.01 V805.9 M136.7 805.9 h4" stroke="#b22222" stroke-width="0.7" opacity="0.8"/>
<polyline points="72.4,858.17 94.5,827.79 116.6,818.12 138.7,817.01 160.9,815.83" fill="none" stroke="#b22222" stroke-width="1.15" />
<path d="M72.4 856.57 L74 859.33 L70.81 859.33 Z" fill="#b22222" stroke="#b22222" stroke-width="0.9"/>
<path d="M94.5 826.19 L96.09 828.95 L92.91 828.95 Z" fill="#b22222" stroke="#b22222" stroke-width="0.9"/>
<path d="M116.6 816.52 L118.19 819.28 L115 819.28 Z" fill="#b22222" stroke="#b22222" stroke-width="0.9"/>
<path d="M138.7 815.41 L140.29 818.17 L137.1 818.17 Z" fill="#b22222" stroke="#b22222" stroke-width="0.9"/>
<path d="M160.9 814.24 L162.5 816.99 L159.31 816.99 Z" fill="#b22222" stroke="#b22222" stroke-width="0.9"/>
<path d="M94.5 839.35 V833.01 M92.5 833.01 h4" stroke="#7fc47f" stroke-width="0.7" opacity="0.8"/>
<path d="M116.6 822.36 V808.51 M114.6 808.51 h4" stroke="#7fc47f" stroke-width="0.7" opacity="0.8"/>
<path d="M138.7 814.85 V793.49 M136.7 793.49 h4" stroke="#7fc47f" stroke-width="0.7" opacity="0.8"/>
<path d="M160.9 823.02 V803.29 M158.9 803.29 h4" stroke="#7fc47f" stroke-width="0.7" opacity="0.8"/>
<polyline points="72.4,858.17 94.5,839.35 116.6,822.36 138.7,814.85 160.9,823.02" fill="none" stroke="#1e9a1e" stroke-width="1.15" />
<rect x="70.95" y="856.72" width="2.9" height="2.9" fill="#1e9a1e" stroke="#1e9a1e" stroke-width="0.9"/>
<rect x="93.05" y="837.9" width="2.9" height="2.9" fill="#1e9a1e" stroke="#1e9a1e" stroke-width="0.9"/>
<rect x="115.15" y="820.91" width="2.9" height="2.9" fill="#1e9a1e" stroke="#1e9a1e" stroke-width="0.9"/>
<rect x="137.25" y="813.4" width="2.9" height="2.9" fill="#1e9a1e" stroke="#1e9a1e" stroke-width="0.9"/>
<rect x="159.45" y="821.57" width="2.9" height="2.9" fill="#1e9a1e" stroke="#1e9a1e" stroke-width="0.9"/>
<line x1="60.9" y1="789.5" x2="67.9" y2="789.5" stroke="#1a1aff" stroke-width="1" />
<circle cx="64.4" cy="789.5" r="1.3" fill="#1a1aff" stroke="#1a1aff" stroke-width="0.9"/>
<text x="71.6" y="792.27" font-size="7.7" fill="#222" font-family="Liberation Sans, sans-serif">LipoMM/non-mod</text>
<line x1="60.9" y1="798.6" x2="67.9" y2="798.6" stroke="#b22222" stroke-width="1" />
<path d="M64.4 797.17 L65.83 799.64 L62.97 799.64 Z" fill="#b22222" stroke="#b22222" stroke-width="0.9"/>
<text x="71.6" y="801.37" font-size="7.7" fill="#222" font-family="Liberation Sans, sans-serif">ViroR/non-mod</text>
<line x1="60.9" y1="807.7" x2="67.9" y2="807.7" stroke="#1e9a1e" stroke-width="1" />
<rect x="63.1" y="806.4" width="2.6" height="2.6" fill="#1e9a1e" stroke="#1e9a1e" stroke-width="0.9"/>
<text x="71.6" y="810.47" font-size="7.7" fill="#222" font-family="Liberation Sans, sans-serif">ScrF/non-mod</text>
<path d="M242.1 785.9 V864.5 H360.5" fill="none" stroke="#7a7a7a" stroke-width="1.3"/>
<path d="M242.1 864.5h-2.4M242.1 851.48h-2.4M242.1 838.47h-2.4M242.1 825.45h-2.4M242.1 812.43h-2.4M242.1 799.42h-2.4M242.1 786.4h-2.4M257.2 864.5v2.4M279.4 864.5v2.4M301.2 864.5v2.4M323.4 864.5v2.4M345.6 864.5v2.4" stroke="#444" stroke-width="1"/>
<text x="240.1" y="867.2" font-size="7.6" text-anchor="end" fill="#333" stroke="#333" stroke-width="0.2" font-family="Liberation Sans, sans-serif">0</text>
<text x="240.1" y="854.18" font-size="7.6" text-anchor="end" fill="#333" stroke="#333" stroke-width="0.2" font-family="Liberation Sans, sans-serif">2</text>
<text x="240.1" y="841.17" font-size="7.6" text-anchor="end" fill="#333" stroke="#333" stroke-width="0.2" font-family="Liberation Sans, sans-serif">4</text>
<text x="240.1" y="828.15" font-size="7.6" text-anchor="end" fill="#333" stroke="#333" stroke-width="0.2" font-family="Liberation Sans, sans-serif">6</text>
<text x="240.1" y="815.13" font-size="7.6" text-anchor="end" fill="#333" stroke="#333" stroke-width="0.2" font-family="Liberation Sans, sans-serif">8</text>
<text x="240.1" y="802.12" font-size="7.6" text-anchor="end" fill="#333" stroke="#333" stroke-width="0.2" font-family="Liberation Sans, sans-serif">10</text>
<text x="240.1" y="789.1" font-size="7.6" text-anchor="end" fill="#333" stroke="#333" stroke-width="0.2" font-family="Liberation Sans, sans-serif">12</text>
<text transform="translate(260.4 872.1) rotate(-45)" font-size="7.3" text-anchor="end" fill="#222" font-family="Liberation Sans, sans-serif">0</text>
<text transform="translate(282.6 872.1) rotate(-45)" font-size="7.3" text-anchor="end" fill="#222" font-family="Liberation Sans, sans-serif">62.5</text>
<text transform="translate(304.4 872.1) rotate(-45)" font-size="7.3" text-anchor="end" fill="#222" font-family="Liberation Sans, sans-serif">125</text>
<text transform="translate(326.6 872.1) rotate(-45)" font-size="7.3" text-anchor="end" fill="#222" font-family="Liberation Sans, sans-serif">250</text>
<text transform="translate(348.8 872.1) rotate(-45)" font-size="7.3" text-anchor="end" fill="#222" font-family="Liberation Sans, sans-serif">500</text>
<text transform="translate(218.1 824.25) rotate(-90)" font-size="8.7" font-weight="bold" text-anchor="middle" fill="#111" font-family="Liberation Sans, sans-serif">MFI CD80</text>
<text transform="translate(228.3 824.45) rotate(-90)" font-size="8.4" font-weight="bold" text-anchor="middle" fill="#111" font-family="Liberation Sans, sans-serif">Relative Expression</text>
<text x="301.4" y="894.8" font-size="8.4" font-weight="bold" text-anchor="middle" fill="#111" font-family="Liberation Sans, sans-serif">mRNA concentration (ng/well)</text>
<path d="M323.4 847.12 V841.98 M321.4 841.98 h4" stroke="#1a1aff" stroke-width="0.7" opacity="0.8"/>
<path d="M345.6 842.24 V838.47 M343.6 838.47 h4" stroke="#1a1aff" stroke-width="0.7" opacity="0.8"/>
<polyline points="257.2,857.99 279.4,856.82 301.2,853.05 323.4,847.12 345.6,842.24" fill="none" stroke="#1a1aff" stroke-width="1.15" stroke-dasharray="3 2"/>
<circle cx="257.2" cy="857.99" r="1.45" fill="#fff" stroke="#1a1aff" stroke-width="0.9"/>
<circle cx="279.4" cy="856.82" r="1.45" fill="#fff" stroke="#1a1aff" stroke-width="0.9"/>
<circle cx="301.2" cy="853.05" r="1.45" fill="#fff" stroke="#1a1aff" stroke-width="0.9"/>
<circle cx="323.4" cy="847.12" r="1.45" fill="#fff" stroke="#1a1aff" stroke-width="0.9"/>
<circle cx="345.6" cy="842.24" r="1.45" fill="#fff" stroke="#1a1aff" stroke-width="0.9"/>
<path d="M279.4 844.65 V839.12 M277.4 839.12 h4" stroke="#1a1aff" stroke-width="0.7" opacity="0.8"/>
<path d="M301.2 833.46 V821.54 M299.2 821.54 h4" stroke="#1a1aff" stroke-width="0.7" opacity="0.8"/>
<path d="M323.4 830.01 V816.99 M321.4 816.99 h4" stroke="#1a1aff" stroke-width="0.7" opacity="0.8"/>
<path d="M345.6 833.26 V822.52 M343.6 822.52 h4" stroke="#1a1aff" stroke-width="0.7" opacity="0.8"/>
<polyline points="257.2,857.99 279.4,844.65 301.2,833.46 323.4,830.01 345.6,833.26" fill="none" stroke="#1a1aff" stroke-width="1.15" />
<circle cx="257.2" cy="857.99" r="1.45" fill="#1a1aff" stroke="#1a1aff" stroke-width="0.9"/>
<circle cx="279.4" cy="844.65" r="1.45" fill="#1a1aff" stroke="#1a1aff" stroke-width="0.9"/>
<circle cx="301.2" cy="833.46" r="1.45" fill="#1a1aff" stroke="#1a1aff" stroke-width="0.9"/>
<circle cx="323.4" cy="830.01" r="1.45" fill="#1a1aff" stroke="#1a1aff" stroke-width="0.9"/>
<circle cx="345.6" cy="833.26" r="1.45" fill="#1a1aff" stroke="#1a1aff" stroke-width="0.9"/>
<line x1="246" y1="788.5" x2="253" y2="788.5" stroke="#1a1aff" stroke-width="1" />
<circle cx="249.5" cy="788.5" r="1.3" fill="#1a1aff" stroke="#1a1aff" stroke-width="0.9"/>
<text x="256.5" y="791.2" font-size="7.5" fill="#222" font-family="Liberation Sans, sans-serif">LipoMM/non-mod</text>
<line x1="246" y1="797.4" x2="253" y2="797.4" stroke="#1a1aff" stroke-width="1" stroke-dasharray="2 1"/>
<circle cx="249.5" cy="797.4" r="1.3" fill="#fff" stroke="#1a1aff" stroke-width="0.9"/>
<text x="256.5" y="800.1" font-size="7.5" fill="#222" font-family="Liberation Sans, sans-serif">LipoMM/ mod</text>
<path d="M403.2 785.9 V865 H521.5" fill="none" stroke="#7a7a7a" stroke-width="1.3"/>
<path d="M403.2 865h-2.4M403.2 851.9h-2.4M403.2 838.8h-2.4M403.2 825.7h-2.4M403.2 812.6h-2.4M403.2 799.5h-2.4M403.2 786.4h-2.4M418.4 865v2.4M440.6 865v2.4M462.3 865v2.4M484.5 865v2.4M506.7 865v2.4" stroke="#444" stroke-width="1"/>
<text x="401.2" y="867.7" font-size="7.6" text-anchor="end" fill="#333" stroke="#333" stroke-width="0.2" font-family="Liberation Sans, sans-serif">0</text>
<text x="401.2" y="854.6" font-size="7.6" text-anchor="end" fill="#333" stroke="#333" stroke-width="0.2" font-family="Liberation Sans, sans-serif">2</text>
<text x="401.2" y="841.5" font-size="7.6" text-anchor="end" fill="#333" stroke="#333" stroke-width="0.2" font-family="Liberation Sans, sans-serif">4</text>
<text x="401.2" y="828.4" font-size="7.6" text-anchor="end" fill="#333" stroke="#333" stroke-width="0.2" font-family="Liberation Sans, sans-serif">6</text>
<text x="401.2" y="815.3" font-size="7.6" text-anchor="end" fill="#333" stroke="#333" stroke-width="0.2" font-family="Liberation Sans, sans-serif">8</text>
<text x="401.2" y="802.2" font-size="7.6" text-anchor="end" fill="#333" stroke="#333" stroke-width="0.2" font-family="Liberation Sans, sans-serif">10</text>
<text x="401.2" y="789.1" font-size="7.6" text-anchor="end" fill="#333" stroke="#333" stroke-width="0.2" font-family="Liberation Sans, sans-serif">12</text>
<text transform="translate(421.6 872.6) rotate(-45)" font-size="7.3" text-anchor="end" fill="#222" font-family="Liberation Sans, sans-serif">0</text>
<text transform="translate(443.8 872.6) rotate(-45)" font-size="7.3" text-anchor="end" fill="#222" font-family="Liberation Sans, sans-serif">62.5</text>
<text transform="translate(465.5 872.6) rotate(-45)" font-size="7.3" text-anchor="end" fill="#222" font-family="Liberation Sans, sans-serif">125</text>
<text transform="translate(487.7 872.6) rotate(-45)" font-size="7.3" text-anchor="end" fill="#222" font-family="Liberation Sans, sans-serif">250</text>
<text transform="translate(509.9 872.6) rotate(-45)" font-size="7.3" text-anchor="end" fill="#222" font-family="Liberation Sans, sans-serif">500</text>
<text transform="translate(379.7 824.5) rotate(-90)" font-size="8.7" font-weight="bold" text-anchor="middle" fill="#111" font-family="Liberation Sans, sans-serif">MFI CD80</text>
<text transform="translate(389.9 824.7) rotate(-90)" font-size="8.4" font-weight="bold" text-anchor="middle" fill="#111" font-family="Liberation Sans, sans-serif">Relative Expression</text>
<text x="462.5" y="894.8" font-size="8.4" font-weight="bold" text-anchor="middle" fill="#111" font-family="Liberation Sans, sans-serif">mRNA concentration (ng/well)</text>
<path d="M440.6 849.28 V842.4 M438.6 842.4 h4" stroke="#b22222" stroke-width="0.7" opacity="0.8"/>
<path d="M462.3 842.08 V829.76 M460.3 829.76 h4" stroke="#b22222" stroke-width="0.7" opacity="0.8"/>
<path d="M484.5 834.41 V822.75 M482.5 822.75 h4" stroke="#b22222" stroke-width="0.7" opacity="0.8"/>
<path d="M506.7 829.63 V821.44 M504.7 821.44 h4" stroke="#b22222" stroke-width="0.7" opacity="0.8"/>
<polyline points="418.4,858.45 440.6,849.28 462.3,842.08 484.5,834.41 506.7,829.63" fill="none" stroke="#b22222" stroke-width="1.15" stroke-dasharray="3 2"/>
<path d="M418.4 856.86 L420 859.61 L416.8 859.61 Z" fill="#fff" stroke="#b22222" stroke-width="0.9"/>
<path d="M440.6 847.68 L442.2 850.44 L439 850.44 Z" fill="#fff" stroke="#b22222" stroke-width="0.9"/>
<path d="M462.3 840.48 L463.9 843.24 L460.7 843.24 Z" fill="#fff" stroke="#b22222" stroke-width="0.9"/>
<path d="M484.5 832.82 L486.1 835.57 L482.9 835.57 Z" fill="#fff" stroke="#b22222" stroke-width="0.9"/>
<path d="M506.7 828.03 L508.3 830.79 L505.1 830.79 Z" fill="#fff" stroke="#b22222" stroke-width="0.9"/>
<path d="M440.6 828.12 V818.5 M438.6 818.5 h4" stroke="#b22222" stroke-width="0.7" opacity="0.8"/>
<path d="M462.3 818.17 V808.67 M460.3 808.67 h4" stroke="#b22222" stroke-width="0.7" opacity="0.8"/>
<path d="M484.5 817.18 V806.38 M482.5 806.38 h4" stroke="#b22222" stroke-width="0.7" opacity="0.8"/>
<path d="M506.7 815.55 V803.43 M504.7 803.43 h4" stroke="#b22222" stroke-width="0.7" opacity="0.8"/>
<polyline points="418.4,858.45 440.6,828.12 462.3,818.17 484.5,817.18 506.7,815.55" fill="none" stroke="#b22222" stroke-width="1.15" />
<path d="M418.4 856.86 L420 859.61 L416.8 859.61 Z" fill="#b22222" stroke="#b22222" stroke-width="0.9"/>
<path d="M440.6 826.53 L442.2 829.28 L439 829.28 Z" fill="#b22222" stroke="#b22222" stroke-width="0.9"/>
<path d="M462.3 816.57 L463.9 819.33 L460.7 819.33 Z" fill="#b22222" stroke="#b22222" stroke-width="0.9"/>
<path d="M484.5 815.59 L486.1 818.34 L482.9 818.34 Z" fill="#b22222" stroke="#b22222" stroke-width="0.9"/>
<path d="M506.7 813.95 L508.3 816.71 L505.1 816.71 Z" fill="#b22222" stroke="#b22222" stroke-width="0.9"/>
<line x1="406.7" y1="789.2" x2="413.7" y2="789.2" stroke="#b22222" stroke-width="1" />
<path d="M410.2 787.77 L411.63 790.24 L408.77 790.24 Z" fill="#b22222" stroke="#b22222" stroke-width="0.9"/>
<text x="418" y="791.9" font-size="7.5" fill="#222" font-family="Liberation Sans, sans-serif">ViroR /non-mod</text>
<line x1="406.7" y1="797.4" x2="413.7" y2="797.4" stroke="#b22222" stroke-width="1" stroke-dasharray="2 1"/>
<path d="M410.2 795.97 L411.63 798.44 L408.77 798.44 Z" fill="#fff" stroke="#b22222" stroke-width="0.9"/>
<text x="418" y="800.1" font-size="7.5" fill="#222" font-family="Liberation Sans, sans-serif">ViroR/mod</text>
<path d="M559.3 786.4 V865 H677" fill="none" stroke="#7a7a7a" stroke-width="1.3"/>
<path d="M559.3 865h-2.4M559.3 851.98h-2.4M559.3 838.97h-2.4M559.3 825.95h-2.4M559.3 812.93h-2.4M559.3 799.92h-2.4M559.3 786.9h-2.4M573.6 865v2.4M595.8 865v2.4M618 865v2.4M640.2 865v2.4M662.4 865v2.4" stroke="#444" stroke-width="1"/>
<text x="557.3" y="867.7" font-size="7.6" text-anchor="end" fill="#333" stroke="#333" stroke-width="0.2" font-family="Liberation Sans, sans-serif">0</text>
<text x="557.3" y="854.68" font-size="7.6" text-anchor="end" fill="#333" stroke="#333" stroke-width="0.2" font-family="Liberation Sans, sans-serif">2</text>
<text x="557.3" y="841.67" font-size="7.6" text-anchor="end" fill="#333" stroke="#333" stroke-width="0.2" font-family="Liberation Sans, sans-serif">4</text>
<text x="557.3" y="828.65" font-size="7.6" text-anchor="end" fill="#333" stroke="#333" stroke-width="0.2" font-family="Liberation Sans, sans-serif">6</text>
<text x="557.3" y="815.63" font-size="7.6" text-anchor="end" fill="#333" stroke="#333" stroke-width="0.2" font-family="Liberation Sans, sans-serif">8</text>
<text x="557.3" y="802.62" font-size="7.6" text-anchor="end" fill="#333" stroke="#333" stroke-width="0.2" font-family="Liberation Sans, sans-serif">10</text>
<text x="557.3" y="789.6" font-size="7.6" text-anchor="end" fill="#333" stroke="#333" stroke-width="0.2" font-family="Liberation Sans, sans-serif">12</text>
<text transform="translate(576.8 872.6) rotate(-45)" font-size="7.3" text-anchor="end" fill="#222" font-family="Liberation Sans, sans-serif">0</text>
<text transform="translate(599 872.6) rotate(-45)" font-size="7.3" text-anchor="end" fill="#222" font-family="Liberation Sans, sans-serif">62.5</text>
<text transform="translate(621.2 872.6) rotate(-45)" font-size="7.3" text-anchor="end" fill="#222" font-family="Liberation Sans, sans-serif">125</text>
<text transform="translate(643.4 872.6) rotate(-45)" font-size="7.3" text-anchor="end" fill="#222" font-family="Liberation Sans, sans-serif">250</text>
<text transform="translate(665.6 872.6) rotate(-45)" font-size="7.3" text-anchor="end" fill="#222" font-family="Liberation Sans, sans-serif">500</text>
<text transform="translate(534.2 824.75) rotate(-90)" font-size="8.7" font-weight="bold" text-anchor="middle" fill="#111" font-family="Liberation Sans, sans-serif">MFI CD80</text>
<text transform="translate(544.4 824.95) rotate(-90)" font-size="8.4" font-weight="bold" text-anchor="middle" fill="#111" font-family="Liberation Sans, sans-serif">Relative Expression</text>
<text x="618.6" y="894.8" font-size="8.4" font-weight="bold" text-anchor="middle" fill="#111" font-family="Liberation Sans, sans-serif">mRNA concentration (ng/well)</text>
<path d="M640.2 836.36 V821.39 M638.2 821.39 h4" stroke="#7fc47f" stroke-width="0.7" opacity="0.8"/>
<polyline points="573.6,858.49 595.8,850.68 618,839.94 640.2,836.36 662.4,833.76" fill="none" stroke="#1e9a1e" stroke-width="1.15" stroke-dasharray="3 2"/>
<rect x="572.15" y="857.04" width="2.9" height="2.9" fill="#fff" stroke="#1e9a1e" stroke-width="0.9"/>
<rect x="594.35" y="849.23" width="2.9" height="2.9" fill="#fff" stroke="#1e9a1e" stroke-width="0.9"/>
<rect x="616.55" y="838.49" width="2.9" height="2.9" fill="#fff" stroke="#1e9a1e" stroke-width="0.9"/>
<rect x="638.75" y="834.91" width="2.9" height="2.9" fill="#fff" stroke="#1e9a1e" stroke-width="0.9"/>
<rect x="660.95" y="832.31" width="2.9" height="2.9" fill="#fff" stroke="#1e9a1e" stroke-width="0.9"/>
<path d="M595.8 839.62 V833.11 M593.8 833.11 h4" stroke="#7fc47f" stroke-width="0.7" opacity="0.8"/>
<path d="M618 822.7 V810.33 M616 810.33 h4" stroke="#7fc47f" stroke-width="0.7" opacity="0.8"/>
<path d="M640.2 815.21 V794.06 M638.2 794.06 h4" stroke="#7fc47f" stroke-width="0.7" opacity="0.8"/>
<path d="M662.4 823.35 V803.82 M660.4 803.82 h4" stroke="#7fc47f" stroke-width="0.7" opacity="0.8"/>
<polyline points="573.6,858.49 595.8,839.62 618,822.7 640.2,815.21 662.4,823.35" fill="none" stroke="#1e9a1e" stroke-width="1.15" />
<rect x="572.15" y="857.04" width="2.9" height="2.9" fill="#1e9a1e" stroke="#1e9a1e" stroke-width="0.9"/>
<rect x="594.35" y="838.17" width="2.9" height="2.9" fill="#1e9a1e" stroke="#1e9a1e" stroke-width="0.9"/>
<rect x="616.55" y="821.25" width="2.9" height="2.9" fill="#1e9a1e" stroke="#1e9a1e" stroke-width="0.9"/>
<rect x="638.75" y="813.76" width="2.9" height="2.9" fill="#1e9a1e" stroke="#1e9a1e" stroke-width="0.9"/>
<rect x="660.95" y="821.9" width="2.9" height="2.9" fill="#1e9a1e" stroke="#1e9a1e" stroke-width="0.9"/>
<line x1="563.5" y1="788.5" x2="570.5" y2="788.5" stroke="#1e9a1e" stroke-width="1" />
<rect x="565.7" y="787.2" width="2.6" height="2.6" fill="#1e9a1e" stroke="#1e9a1e" stroke-width="0.9"/>
<text x="574.1" y="791.2" font-size="7.5" fill="#222" font-family="Liberation Sans, sans-serif">ScrF/non-mod</text>
<line x1="563.5" y1="797.4" x2="570.5" y2="797.4" stroke="#1e9a1e" stroke-width="1" stroke-dasharray="2 1"/>
<rect x="565.7" y="796.1" width="2.6" height="2.6" fill="#fff" stroke="#1e9a1e" stroke-width="0.9"/>
<text x="574.1" y="800.1" font-size="7.5" fill="#222" font-family="Liberation Sans, sans-serif">ScrF/mod</text>
<path d="M57.4 978.7 V1057.5 H175.8" fill="none" stroke="#7a7a7a" stroke-width="1.3"/>
<path d="M57.4 1057.5h-2.4M57.4 1044.45h-2.4M57.4 1031.4h-2.4M57.4 1018.35h-2.4M57.4 1005.3h-2.4M57.4 992.25h-2.4M57.4 979.2h-2.4M72.4 1057.5v2.4M94.5 1057.5v2.4M116.6 1057.5v2.4M138.7 1057.5v2.4M160.9 1057.5v2.4" stroke="#444" stroke-width="1"/>
<text x="55.4" y="1060.2" font-size="7.6" text-anchor="end" fill="#333" stroke="#333" stroke-width="0.2" font-family="Liberation Sans, sans-serif">0</text>
<text x="55.4" y="1047.15" font-size="7.6" text-anchor="end" fill="#333" stroke="#333" stroke-width="0.2" font-family="Liberation Sans, sans-serif">2</text>
<text x="55.4" y="1034.1" font-size="7.6" text-anchor="end" fill="#333" stroke="#333" stroke-width="0.2" font-family="Liberation Sans, sans-serif">4</text>
<text x="55.4" y="1021.05" font-size="7.6" text-anchor="end" fill="#333" stroke="#333" stroke-width="0.2" font-family="Liberation Sans, sans-serif">6</text>
<text x="55.4" y="1008" font-size="7.6" text-anchor="end" fill="#333" stroke="#333" stroke-width="0.2" font-family="Liberation Sans, sans-serif">8</text>
<text x="55.4" y="994.95" font-size="7.6" text-anchor="end" fill="#333" stroke="#333" stroke-width="0.2" font-family="Liberation Sans, sans-serif">10</text>
<text x="55.4" y="981.9" font-size="7.6" text-anchor="end" fill="#333" stroke="#333" stroke-width="0.2" font-family="Liberation Sans, sans-serif">12</text>
<text transform="translate(75.6 1065.1) rotate(-45)" font-size="7.3" text-anchor="end" fill="#222" font-family="Liberation Sans, sans-serif">0</text>
<text transform="translate(97.7 1065.1) rotate(-45)" font-size="7.3" text-anchor="end" fill="#222" font-family="Liberation Sans, sans-serif">62.5</text>
<text transform="translate(119.8 1065.1) rotate(-45)" font-size="7.3" text-anchor="end" fill="#222" font-family="Liberation Sans, sans-serif">125</text>
<text transform="translate(141.9 1065.1) rotate(-45)" font-size="7.3" text-anchor="end" fill="#222" font-family="Liberation Sans, sans-serif">250</text>
<text transform="translate(164.1 1065.1) rotate(-45)" font-size="7.3" text-anchor="end" fill="#222" font-family="Liberation Sans, sans-serif">500</text>
<text transform="translate(33.8 1017.15) rotate(-90)" font-size="8.7" font-weight="bold" text-anchor="middle" fill="#111" font-family="Liberation Sans, sans-serif">MFI CD80</text>
<text transform="translate(44 1017.35) rotate(-90)" font-size="8.4" font-weight="bold" text-anchor="middle" fill="#111" font-family="Liberation Sans, sans-serif">Relative Expression</text>
<text x="116.7" y="1087" font-size="8.4" font-weight="bold" text-anchor="middle" fill="#111" font-family="Liberation Sans, sans-serif">mRNA concentration (ng/well)</text>
<path d="M94.5 1033.1 V1028.79 M92.5 1028.79 h4" stroke="#e07070" stroke-width="0.7" opacity="0.8"/>
<path d="M116.6 1024.48 V1013.39 M114.6 1013.39 h4" stroke="#e07070" stroke-width="0.7" opacity="0.8"/>
<path d="M138.7 1021.61 V1007.26 M136.7 1007.26 h4" stroke="#e07070" stroke-width="0.7" opacity="0.8"/>
<path d="M160.9 1025.72 V1013.39 M158.9 1013.39 h4" stroke="#e07070" stroke-width="0.7" opacity="0.8"/>
<polyline points="72.4,1050.97 94.5,1033.1 116.6,1024.48 138.7,1021.61 160.9,1025.72" fill="none" stroke="#b22222" stroke-width="1.15" />
<path d="M72.4 1049.38 L74 1052.13 L70.81 1052.13 Z" fill="#b22222" stroke="#b22222" stroke-width="0.9"/>
<path d="M94.5 1031.5 L96.09 1034.26 L92.91 1034.26 Z" fill="#b22222" stroke="#b22222" stroke-width="0.9"/>
<path d="M116.6 1022.89 L118.19 1025.64 L115 1025.64 Z" fill="#b22222" stroke="#b22222" stroke-width="0.9"/>
<path d="M138.7 1020.02 L140.29 1022.77 L137.1 1022.77 Z" fill="#b22222" stroke="#b22222" stroke-width="0.9"/>
<path d="M160.9 1024.13 L162.5 1026.88 L159.31 1026.88 Z" fill="#b22222" stroke="#b22222" stroke-width="0.9"/>
<path d="M94.5 1034.66 V1030.1 M92.5 1030.1 h4" stroke="#1a1aff" stroke-width="0.7" opacity="0.8"/>
<path d="M116.6 1030.29 V1027.49 M114.6 1027.49 h4" stroke="#1a1aff" stroke-width="0.7" opacity="0.8"/>
<path d="M138.7 1029.7 V1025.53 M136.7 1025.53 h4" stroke="#1a1aff" stroke-width="0.7" opacity="0.8"/>
<polyline points="72.4,1050.97 94.5,1034.66 116.6,1030.29 138.7,1029.7 160.9,1030.49" fill="none" stroke="#1a1aff" stroke-width="1.15" />
<circle cx="72.4" cy="1050.97" r="1.45" fill="#1a1aff" stroke="#1a1aff" stroke-width="0.9"/>
<circle cx="94.5" cy="1034.66" r="1.45" fill="#1a1aff" stroke="#1a1aff" stroke-width="0.9"/>
<circle cx="116.6" cy="1030.29" r="1.45" fill="#1a1aff" stroke="#1a1aff" stroke-width="0.9"/>
<circle cx="138.7" cy="1029.7" r="1.45" fill="#1a1aff" stroke="#1a1aff" stroke-width="0.9"/>
<circle cx="160.9" cy="1030.49" r="1.45" fill="#1a1aff" stroke="#1a1aff" stroke-width="0.9"/>
<polyline points="72.4,1050.97 94.5,1045.56 116.6,1041.51 138.7,1037.4 160.9,1035.77" fill="none" stroke="#1e9a1e" stroke-width="1.15" />
<rect x="70.95" y="1049.52" width="2.9" height="2.9" fill="#1e9a1e" stroke="#1e9a1e" stroke-width="0.9"/>
<rect x="93.05" y="1044.11" width="2.9" height="2.9" fill="#1e9a1e" stroke="#1e9a1e" stroke-width="0.9"/>
<rect x="115.15" y="1040.06" width="2.9" height="2.9" fill="#1e9a1e" stroke="#1e9a1e" stroke-width="0.9"/>
<rect x="137.25" y="1035.95" width="2.9" height="2.9" fill="#1e9a1e" stroke="#1e9a1e" stroke-width="0.9"/>
<rect x="159.45" y="1034.32" width="2.9" height="2.9" fill="#1e9a1e" stroke="#1e9a1e" stroke-width="0.9"/>
<line x1="60.6" y1="981.2" x2="67.6" y2="981.2" stroke="#1a1aff" stroke-width="1" />
<circle cx="64.1" cy="981.2" r="1.3" fill="#1a1aff" stroke="#1a1aff" stroke-width="0.9"/>
<text x="70.7" y="983.54" font-size="6.5" fill="#222" font-family="Liberation Sans, sans-serif">LipoMM/non-mod</text>
<line x1="60.6" y1="989.8" x2="67.6" y2="989.8" stroke="#b22222" stroke-width="1" />
<path d="M64.1 988.37 L65.53 990.84 L62.67 990.84 Z" fill="#b22222" stroke="#b22222" stroke-width="0.9"/>
<text x="70.7" y="992.14" font-size="6.5" fill="#222" font-family="Liberation Sans, sans-serif">ViroR/non-mod</text>
<line x1="60.6" y1="998" x2="67.6" y2="998" stroke="#1e9a1e" stroke-width="1" />
<rect x="62.8" y="996.7" width="2.6" height="2.6" fill="#1e9a1e" stroke="#1e9a1e" stroke-width="0.9"/>
<text x="70.7" y="1000.34" font-size="6.5" fill="#222" font-family="Liberation Sans, sans-serif">ScrF/non-mod</text>
<path d="M114.1 1002.1h5M116.6 999.6v5" stroke="#222" stroke-width="1.1"/>
<path d="M136.5 1002.1h5M139 999.6v5" stroke="#222" stroke-width="1.1"/>
<path d="M241.6 978.8 V1057.5 H360.5" fill="none" stroke="#7a7a7a" stroke-width="1.3"/>
<path d="M241.6 1057.5h-2.4M241.6 1044.47h-2.4M241.6 1031.43h-2.4M241.6 1018.4h-2.4M241.6 1005.37h-2.4M241.6 992.33h-2.4M241.6 979.3h-2.4M256.8 1057.5v2.4M279.4 1057.5v2.4M301.2 1057.5v2.4M323.4 1057.5v2.4M345.3 1057.5v2.4" stroke="#444" stroke-width="1"/>
<text x="239.6" y="1060.2" font-size="7.6" text-anchor="end" fill="#333" stroke="#333" stroke-width="0.2" font-family="Liberation Sans, sans-serif">0</text>
<text x="239.6" y="1047.17" font-size="7.6" text-anchor="end" fill="#333" stroke="#333" stroke-width="0.2" font-family="Liberation Sans, sans-serif">2</text>
<text x="239.6" y="1034.13" font-size="7.6" text-anchor="end" fill="#333" stroke="#333" stroke-width="0.2" font-family="Liberation Sans, sans-serif">4</text>
<text x="239.6" y="1021.1" font-size="7.6" text-anchor="end" fill="#333" stroke="#333" stroke-width="0.2" font-family="Liberation Sans, sans-serif">6</text>
<text x="239.6" y="1008.07" font-size="7.6" text-anchor="end" fill="#333" stroke="#333" stroke-width="0.2" font-family="Liberation Sans, sans-serif">8</text>
<text x="239.6" y="995.03" font-size="7.6" text-anchor="end" fill="#333" stroke="#333" stroke-width="0.2" font-family="Liberation Sans, sans-serif">10</text>
<text x="239.6" y="982" font-size="7.6" text-anchor="end" fill="#333" stroke="#333" stroke-width="0.2" font-family="Liberation Sans, sans-serif">12</text>
<text transform="translate(260 1065.1) rotate(-45)" font-size="7.3" text-anchor="end" fill="#222" font-family="Liberation Sans, sans-serif">0</text>
<text transform="translate(282.6 1065.1) rotate(-45)" font-size="7.3" text-anchor="end" fill="#222" font-family="Liberation Sans, sans-serif">62.5</text>
<text transform="translate(304.4 1065.1) rotate(-45)" font-size="7.3" text-anchor="end" fill="#222" font-family="Liberation Sans, sans-serif">125</text>
<text transform="translate(326.6 1065.1) rotate(-45)" font-size="7.3" text-anchor="end" fill="#222" font-family="Liberation Sans, sans-serif">250</text>
<text transform="translate(348.5 1065.1) rotate(-45)" font-size="7.3" text-anchor="end" fill="#222" font-family="Liberation Sans, sans-serif">500</text>
<text transform="translate(217.7 1017.2) rotate(-90)" font-size="8.7" font-weight="bold" text-anchor="middle" fill="#111" font-family="Liberation Sans, sans-serif">MFI CD80</text>
<text transform="translate(227.9 1017.4) rotate(-90)" font-size="8.4" font-weight="bold" text-anchor="middle" fill="#111" font-family="Liberation Sans, sans-serif">Relative Expression</text>
<text x="300.9" y="1087" font-size="8.4" font-weight="bold" text-anchor="middle" fill="#111" font-family="Liberation Sans, sans-serif">mRNA concentration (ng/well)</text>
<path d="M279.4 1045.12 V1041.86 M277.4 1041.86 h4" stroke="#1a1aff" stroke-width="0.7" opacity="0.8"/>
<path d="M301.2 1041.86 V1038.28 M299.2 1038.28 h4" stroke="#1a1aff" stroke-width="0.7" opacity="0.8"/>
<path d="M323.4 1037.62 V1033.71 M321.4 1033.71 h4" stroke="#1a1aff" stroke-width="0.7" opacity="0.8"/>
<polyline points="256.8,1050.98 279.4,1045.12 301.2,1041.86 323.4,1037.62 345.3,1033.71" fill="none" stroke="#1a1aff" stroke-width="1.15" stroke-dasharray="3 2"/>
<circle cx="256.8" cy="1050.98" r="1.45" fill="#fff" stroke="#1a1aff" stroke-width="0.9"/>
<circle cx="279.4" cy="1045.12" r="1.45" fill="#fff" stroke="#1a1aff" stroke-width="0.9"/>
<circle cx="301.2" cy="1041.86" r="1.45" fill="#fff" stroke="#1a1aff" stroke-width="0.9"/>
<circle cx="323.4" cy="1037.62" r="1.45" fill="#fff" stroke="#1a1aff" stroke-width="0.9"/>
<circle cx="345.3" cy="1033.71" r="1.45" fill="#fff" stroke="#1a1aff" stroke-width="0.9"/>
<path d="M279.4 1034.69 V1030.13 M277.4 1030.13 h4" stroke="#1a1aff" stroke-width="0.7" opacity="0.8"/>
<path d="M301.2 1030.46 V1026.55 M299.2 1026.55 h4" stroke="#1a1aff" stroke-width="0.7" opacity="0.8"/>
<path d="M323.4 1029.8 V1025.57 M321.4 1025.57 h4" stroke="#1a1aff" stroke-width="0.7" opacity="0.8"/>
<path d="M345.3 1030.46 V1025.57 M343.3 1025.57 h4" stroke="#1a1aff" stroke-width="0.7" opacity="0.8"/>
<polyline points="256.8,1050.98 279.4,1034.69 301.2,1030.46 323.4,1029.8 345.3,1030.46" fill="none" stroke="#1a1aff" stroke-width="1.15" />
<circle cx="256.8" cy="1050.98" r="1.45" fill="#1a1aff" stroke="#1a1aff" stroke-width="0.9"/>
<circle cx="279.4" cy="1034.69" r="1.45" fill="#1a1aff" stroke="#1a1aff" stroke-width="0.9"/>
<circle cx="301.2" cy="1030.46" r="1.45" fill="#1a1aff" stroke="#1a1aff" stroke-width="0.9"/>
<circle cx="323.4" cy="1029.8" r="1.45" fill="#1a1aff" stroke="#1a1aff" stroke-width="0.9"/>
<circle cx="345.3" cy="1030.46" r="1.45" fill="#1a1aff" stroke="#1a1aff" stroke-width="0.9"/>
<line x1="246" y1="980.9" x2="253" y2="980.9" stroke="#1a1aff" stroke-width="1" />
<circle cx="249.5" cy="980.9" r="1.3" fill="#1a1aff" stroke="#1a1aff" stroke-width="0.9"/>
<text x="255.6" y="983.6" font-size="7.5" fill="#222" font-family="Liberation Sans, sans-serif">LipoMM/non-mod</text>
<line x1="246" y1="989.5" x2="253" y2="989.5" stroke="#1a1aff" stroke-width="1" stroke-dasharray="2 1"/>
<circle cx="249.5" cy="989.5" r="1.3" fill="#fff" stroke="#1a1aff" stroke-width="0.9"/>
<text x="255.6" y="992.2" font-size="7.5" fill="#222" font-family="Liberation Sans, sans-serif">LipoMM/mod</text>
<path d="M403.2 978.8 V1057.5 H521.5" fill="none" stroke="#7a7a7a" stroke-width="1.3"/>
<path d="M403.2 1057.5h-2.4M403.2 1044.47h-2.4M403.2 1031.43h-2.4M403.2 1018.4h-2.4M403.2 1005.37h-2.4M403.2 992.33h-2.4M403.2 979.3h-2.4M418.4 1057.5v2.4M440.6 1057.5v2.4M462.3 1057.5v2.4M484.5 1057.5v2.4M506.7 1057.5v2.4" stroke="#444" stroke-width="1"/>
<text x="401.2" y="1060.2" font-size="7.6" text-anchor="end" fill="#333" stroke="#333" stroke-width="0.2" font-family="Liberation Sans, sans-serif">0</text>
<text x="401.2" y="1047.17" font-size="7.6" text-anchor="end" fill="#333" stroke="#333" stroke-width="0.2" font-family="Liberation Sans, sans-serif">2</text>
<text x="401.2" y="1034.13" font-size="7.6" text-anchor="end" fill="#333" stroke="#333" stroke-width="0.2" font-family="Liberation Sans, sans-serif">4</text>
<text x="401.2" y="1021.1" font-size="7.6" text-anchor="end" fill="#333" stroke="#333" stroke-width="0.2" font-family="Liberation Sans, sans-serif">6</text>
<text x="401.2" y="1008.07" font-size="7.6" text-anchor="end" fill="#333" stroke="#333" stroke-width="0.2" font-family="Liberation Sans, sans-serif">8</text>
<text x="401.2" y="995.03" font-size="7.6" text-anchor="end" fill="#333" stroke="#333" stroke-width="0.2" font-family="Liberation Sans, sans-serif">10</text>
<text x="401.2" y="982" font-size="7.6" text-anchor="end" fill="#333" stroke="#333" stroke-width="0.2" font-family="Liberation Sans, sans-serif">12</text>
<text transform="translate(421.6 1065.1) rotate(-45)" font-size="7.3" text-anchor="end" fill="#222" font-family="Liberation Sans, sans-serif">0</text>
<text transform="translate(443.8 1065.1) rotate(-45)" font-size="7.3" text-anchor="end" fill="#222" font-family="Liberation Sans, sans-serif">62.5</text>
<text transform="translate(465.5 1065.1) rotate(-45)" font-size="7.3" text-anchor="end" fill="#222" font-family="Liberation Sans, sans-serif">125</text>
<text transform="translate(487.7 1065.1) rotate(-45)" font-size="7.3" text-anchor="end" fill="#222" font-family="Liberation Sans, sans-serif">250</text>
<text transform="translate(509.9 1065.1) rotate(-45)" font-size="7.3" text-anchor="end" fill="#222" font-family="Liberation Sans, sans-serif">500</text>
<text transform="translate(379.7 1017.2) rotate(-90)" font-size="8.7" font-weight="bold" text-anchor="middle" fill="#111" font-family="Liberation Sans, sans-serif">MFI CD80</text>
<text transform="translate(389.9 1017.4) rotate(-90)" font-size="8.4" font-weight="bold" text-anchor="middle" fill="#111" font-family="Liberation Sans, sans-serif">Relative Expression</text>
<text x="462.5" y="1087" font-size="8.4" font-weight="bold" text-anchor="middle" fill="#111" font-family="Liberation Sans, sans-serif">mRNA concentration (ng/well)</text>
<path d="M440.6 1045.77 V1042.19 M438.6 1042.19 h4" stroke="#b22222" stroke-width="0.7" opacity="0.8"/>
<path d="M462.3 1039.9 V1037.62 M460.3 1037.62 h4" stroke="#b22222" stroke-width="0.7" opacity="0.8"/>
<path d="M484.5 1034.37 V1031.11 M482.5 1031.11 h4" stroke="#b22222" stroke-width="0.7" opacity="0.8"/>
<path d="M506.7 1030.78 V1029.48 M504.7 1029.48 h4" stroke="#b22222" stroke-width="0.7" opacity="0.8"/>
<polyline points="418.4,1050.98 440.6,1045.77 462.3,1039.9 484.5,1034.37 506.7,1030.78" fill="none" stroke="#b22222" stroke-width="1.15" stroke-dasharray="3 2"/>
<path d="M418.4 1049.39 L420 1052.14 L416.8 1052.14 Z" fill="#fff" stroke="#b22222" stroke-width="0.9"/>
<path d="M440.6 1044.17 L442.2 1046.93 L439 1046.93 Z" fill="#fff" stroke="#b22222" stroke-width="0.9"/>
<path d="M462.3 1038.31 L463.9 1041.07 L460.7 1041.07 Z" fill="#fff" stroke="#b22222" stroke-width="0.9"/>
<path d="M484.5 1032.77 L486.1 1035.53 L482.9 1035.53 Z" fill="#fff" stroke="#b22222" stroke-width="0.9"/>
<path d="M506.7 1029.19 L508.3 1031.94 L505.1 1031.94 Z" fill="#fff" stroke="#b22222" stroke-width="0.9"/>
<path d="M440.6 1033.06 V1029.48 M438.6 1029.48 h4" stroke="#b22222" stroke-width="0.7" opacity="0.8"/>
<path d="M462.3 1024.59 V1014.49 M460.3 1014.49 h4" stroke="#b22222" stroke-width="0.7" opacity="0.8"/>
<path d="M484.5 1021.66 V1007.32 M482.5 1007.32 h4" stroke="#b22222" stroke-width="0.7" opacity="0.8"/>
<path d="M506.7 1025.89 V1013.84 M504.7 1013.84 h4" stroke="#b22222" stroke-width="0.7" opacity="0.8"/>
<polyline points="418.4,1050.98 440.6,1033.06 462.3,1024.59 484.5,1021.66 506.7,1025.89" fill="none" stroke="#b22222" stroke-width="1.15" />
<path d="M418.4 1049.39 L420 1052.14 L416.8 1052.14 Z" fill="#b22222" stroke="#b22222" stroke-width="0.9"/>
<path d="M440.6 1031.47 L442.2 1034.22 L439 1034.22 Z" fill="#b22222" stroke="#b22222" stroke-width="0.9"/>
<path d="M462.3 1023 L463.9 1025.75 L460.7 1025.75 Z" fill="#b22222" stroke="#b22222" stroke-width="0.9"/>
<path d="M484.5 1020.06 L486.1 1022.82 L482.9 1022.82 Z" fill="#b22222" stroke="#b22222" stroke-width="0.9"/>
<path d="M506.7 1024.3 L508.3 1027.05 L505.1 1027.05 Z" fill="#b22222" stroke="#b22222" stroke-width="0.9"/>
<line x1="406.7" y1="982" x2="413.7" y2="982" stroke="#b22222" stroke-width="1" />
<path d="M410.2 980.57 L411.63 983.04 L408.77 983.04 Z" fill="#b22222" stroke="#b22222" stroke-width="0.9"/>
<text x="417.2" y="984.7" font-size="7.5" fill="#222" font-family="Liberation Sans, sans-serif">ViroR /non-mod</text>
<line x1="406.7" y1="990.2" x2="413.7" y2="990.2" stroke="#b22222" stroke-width="1" stroke-dasharray="2 1"/>
<path d="M410.2 988.77 L411.63 991.24 L408.77 991.24 Z" fill="#fff" stroke="#b22222" stroke-width="0.9"/>
<text x="417.2" y="992.9" font-size="7.5" fill="#222" font-family="Liberation Sans, sans-serif">ViroR/mod</text>
<path d="M559.3 978.8 V1057.5 H677" fill="none" stroke="#7a7a7a" stroke-width="1.3"/>
<path d="M559.3 1057.5h-2.4M559.3 1044.47h-2.4M559.3 1031.43h-2.4M559.3 1018.4h-2.4M559.3 1005.37h-2.4M559.3 992.33h-2.4M559.3 979.3h-2.4M573.6 1057.5v2.4M595.8 1057.5v2.4M618 1057.5v2.4M640.2 1057.5v2.4M662.4 1057.5v2.4" stroke="#444" stroke-width="1"/>
<text x="557.3" y="1060.2" font-size="7.6" text-anchor="end" fill="#333" stroke="#333" stroke-width="0.2" font-family="Liberation Sans, sans-serif">0</text>
<text x="557.3" y="1047.17" font-size="7.6" text-anchor="end" fill="#333" stroke="#333" stroke-width="0.2" font-family="Liberation Sans, sans-serif">2</text>
<text x="557.3" y="1034.13" font-size="7.6" text-anchor="end" fill="#333" stroke="#333" stroke-width="0.2" font-family="Liberation Sans, sans-serif">4</text>
<text x="557.3" y="1021.1" font-size="7.6" text-anchor="end" fill="#333" stroke="#333" stroke-width="0.2" font-family="Liberation Sans, sans-serif">6</text>
<text x="557.3" y="1008.07" font-size="7.6" text-anchor="end" fill="#333" stroke="#333" stroke-width="0.2" font-family="Liberation Sans, sans-serif">8</text>
<text x="557.3" y="995.03" font-size="7.6" text-anchor="end" fill="#333" stroke="#333" stroke-width="0.2" font-family="Liberation Sans, sans-serif">10</text>
<text x="557.3" y="982" font-size="7.6" text-anchor="end" fill="#333" stroke="#333" stroke-width="0.2" font-family="Liberation Sans, sans-serif">12</text>
<text transform="translate(576.8 1065.1) rotate(-45)" font-size="7.3" text-anchor="end" fill="#222" font-family="Liberation Sans, sans-serif">0</text>
<text transform="translate(599 1065.1) rotate(-45)" font-size="7.3" text-anchor="end" fill="#222" font-family="Liberation Sans, sans-serif">62.5</text>
<text transform="translate(621.2 1065.1) rotate(-45)" font-size="7.3" text-anchor="end" fill="#222" font-family="Liberation Sans, sans-serif">125</text>
<text transform="translate(643.4 1065.1) rotate(-45)" font-size="7.3" text-anchor="end" fill="#222" font-family="Liberation Sans, sans-serif">250</text>
<text transform="translate(665.6 1065.1) rotate(-45)" font-size="7.3" text-anchor="end" fill="#222" font-family="Liberation Sans, sans-serif">500</text>
<text transform="translate(534.2 1017.2) rotate(-90)" font-size="8.7" font-weight="bold" text-anchor="middle" fill="#111" font-family="Liberation Sans, sans-serif">MFI CD80</text>
<text transform="translate(544.4 1017.4) rotate(-90)" font-size="8.4" font-weight="bold" text-anchor="middle" fill="#111" font-family="Liberation Sans, sans-serif">Relative Expression</text>
<text x="618.6" y="1087" font-size="8.4" font-weight="bold" text-anchor="middle" fill="#111" font-family="Liberation Sans, sans-serif">mRNA concentration (ng/well)</text>
<polyline points="573.6,1051.31 595.8,1048.38 618,1044.79 640.2,1039.9 662.4,1036.97" fill="none" stroke="#1e9a1e" stroke-width="1.15" stroke-dasharray="3 2"/>
<rect x="572.15" y="1049.86" width="2.9" height="2.9" fill="#fff" stroke="#1e9a1e" stroke-width="0.9"/>
<rect x="594.35" y="1046.93" width="2.9" height="2.9" fill="#fff" stroke="#1e9a1e" stroke-width="0.9"/>
<rect x="616.55" y="1043.34" width="2.9" height="2.9" fill="#fff" stroke="#1e9a1e" stroke-width="0.9"/>
<rect x="638.75" y="1038.45" width="2.9" height="2.9" fill="#fff" stroke="#1e9a1e" stroke-width="0.9"/>
<rect x="660.95" y="1035.52" width="2.9" height="2.9" fill="#fff" stroke="#1e9a1e" stroke-width="0.9"/>
<path d="M662.4 1035.99 V1032.41 M660.4 1032.41 h4" stroke="#1e9a1e" stroke-width="0.7" opacity="0.8"/>
<polyline points="573.6,1050.98 595.8,1045.77 618,1041.53 640.2,1037.95 662.4,1035.99" fill="none" stroke="#1e9a1e" stroke-width="1.15" />
<rect x="572.15" y="1049.53" width="2.9" height="2.9" fill="#1e9a1e" stroke="#1e9a1e" stroke-width="0.9"/>
<rect x="594.35" y="1044.32" width="2.9" height="2.9" fill="#1e9a1e" stroke="#1e9a1e" stroke-width="0.9"/>
<rect x="616.55" y="1040.08" width="2.9" height="2.9" fill="#1e9a1e" stroke="#1e9a1e" stroke-width="0.9"/>
<rect x="638.75" y="1036.5" width="2.9" height="2.9" fill="#1e9a1e" stroke="#1e9a1e" stroke-width="0.9"/>
<rect x="660.95" y="1034.54" width="2.9" height="2.9" fill="#1e9a1e" stroke="#1e9a1e" stroke-width="0.9"/>
<line x1="562.4" y1="981.4" x2="569.4" y2="981.4" stroke="#1e9a1e" stroke-width="1" />
<rect x="564.6" y="980.1" width="2.6" height="2.6" fill="#1e9a1e" stroke="#1e9a1e" stroke-width="0.9"/>
<text x="571.7" y="984.1" font-size="7.5" fill="#222" font-family="Liberation Sans, sans-serif">ScrF/non-mod</text>
<line x1="562.4" y1="989.1" x2="569.4" y2="989.1" stroke="#1e9a1e" stroke-width="1" stroke-dasharray="2 1"/>
<rect x="564.6" y="987.8" width="2.6" height="2.6" fill="#fff" stroke="#1e9a1e" stroke-width="0.9"/>
<text x="571.7" y="991.8" font-size="7.5" fill="#222" font-family="Liberation Sans, sans-serif">ScrF/mod</text>
<text x="20.5" y="769.9" font-size="11.8" font-weight="bold" fill="#111" textLength="162.8" lengthAdjust="spacingAndGlyphs" font-family="Liberation Sans, sans-serif">Monocytes CD80 Expression</text>
<text x="292.9" y="769.8" font-size="11.8" font-weight="bold" fill="#111" textLength="303.9" lengthAdjust="spacingAndGlyphs" font-family="Liberation Sans, sans-serif">Monocytes CD80 Expression: mod vs. non-mod mRNA</text>
<text x="12.5" y="962.7" font-size="11.8" font-weight="bold" fill="#111" textLength="178.3" lengthAdjust="spacingAndGlyphs" font-family="Liberation Sans, sans-serif">Macrophages CD80 Expression</text>
<text x="283.2" y="962.2" font-size="11.8" font-weight="bold" fill="#111" textLength="313.6" lengthAdjust="spacingAndGlyphs" font-family="Liberation Sans, sans-serif">Macrophage CD80 Expression: mod vs. non-mod mRNA</text>
</svg></body></html>
